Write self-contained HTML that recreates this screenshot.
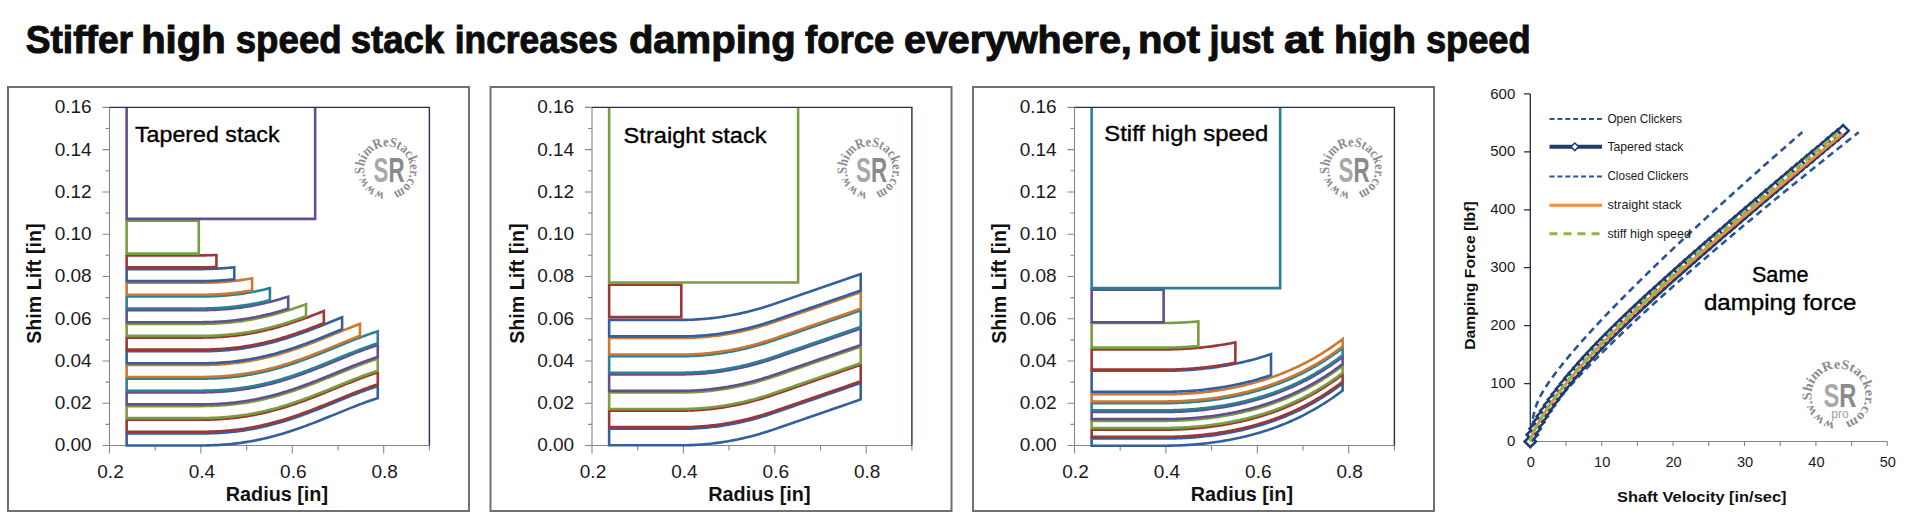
<!DOCTYPE html><html><head><meta charset="utf-8"><style>html,body{margin:0;padding:0;background:#fff;width:1920px;height:516px;overflow:hidden}svg{display:block}</style></head><body><svg width="1920" height="516" viewBox="0 0 1920 516">
<rect width="1920" height="516" fill="#fff"/>
<g font-family='"Liberation Sans", sans-serif' font-size="38" font-weight="bold" fill="#0d0d0d" stroke="#0d0d0d" stroke-width="1"><text x="25.7" y="52.8" textLength="107.4" lengthAdjust="spacingAndGlyphs">Stiffer</text><text x="141.2" y="52.8" textLength="84.4" lengthAdjust="spacingAndGlyphs">high</text><text x="235.7" y="52.8" textLength="106.0" lengthAdjust="spacingAndGlyphs">speed</text><text x="350.7" y="52.8" textLength="93.5" lengthAdjust="spacingAndGlyphs">stack</text><text x="454.8" y="52.8" textLength="163.1" lengthAdjust="spacingAndGlyphs">increases</text><text x="628.9" y="52.8" textLength="166.8" lengthAdjust="spacingAndGlyphs">damping</text><text x="805.0" y="52.8" textLength="89.2" lengthAdjust="spacingAndGlyphs">force</text><text x="904.0" y="52.8" textLength="227.8" lengthAdjust="spacingAndGlyphs">everywhere,</text><text x="1137.9" y="52.8" textLength="62.2" lengthAdjust="spacingAndGlyphs">not</text><text x="1209.4" y="52.8" textLength="64.2" lengthAdjust="spacingAndGlyphs">just</text><text x="1284.1" y="52.8" textLength="39.4" lengthAdjust="spacingAndGlyphs">at</text><text x="1334.0" y="52.8" textLength="82.1" lengthAdjust="spacingAndGlyphs">high</text><text x="1425.9" y="52.8" textLength="104.8" lengthAdjust="spacingAndGlyphs">speed</text></g>
<rect x="8" y="87" width="461" height="424" fill="none" stroke="#707070" stroke-width="2"/>
<g transform="translate(0,0)">
<path d="M109.5 107.4 V445.5 H429.4" fill="none" stroke="#868686" stroke-width="1.1"/>
<path d="M102.5 445.5H109.5M105.5 424.37H109.5M102.5 403.24H109.5M105.5 382.11H109.5M102.5 360.98H109.5M105.5 339.85H109.5M102.5 318.71H109.5M105.5 297.58H109.5M102.5 276.45H109.5M105.5 255.32H109.5M102.5 234.19H109.5M105.5 213.06H109.5M102.5 191.93H109.5M105.5 170.8H109.5M102.5 149.67H109.5M105.5 128.54H109.5M102.5 107.4H109.5M109.5 445.5V453.5M155.2 445.5V450.5M200.9 445.5V453.5M246.6 445.5V450.5M292.3 445.5V453.5M338 445.5V450.5M383.7 445.5V453.5M429.4 445.5V450.5" fill="none" stroke="#868686" stroke-width="1.1"/>
<clipPath id="cp7"><rect x="109.5" y="107.4" width="319.9" height="341.1"/></clipPath>
<g clip-path="url(#cp7)" fill="none" stroke-width="2.6" stroke-linejoin="miter">
<path d="M126.64 445.5 L128.47 445.5 L130.3 445.5 L132.14 445.5 L133.97 445.5 L135.8 445.5 L137.64 445.5 L139.47 445.5 L141.3 445.5 L143.13 445.5 L144.97 445.5 L146.8 445.5 L148.63 445.5 L150.47 445.5 L152.3 445.5 L154.13 445.5 L155.97 445.5 L157.8 445.5 L159.63 445.5 L161.46 445.5 L163.3 445.5 L165.13 445.5 L166.96 445.5 L168.8 445.5 L170.63 445.5 L172.46 445.5 L174.3 445.5 L176.13 445.5 L177.96 445.5 L179.79 445.5 L181.63 445.5 L183.46 445.5 L185.29 445.5 L187.13 445.5 L188.96 445.5 L190.79 445.5 L192.63 445.5 L194.46 445.5 L196.29 445.5 L198.12 445.5 L199.96 445.5 L201.79 445.49 L203.62 445.47 L205.46 445.44 L207.29 445.41 L209.12 445.36 L210.96 445.31 L212.79 445.25 L214.62 445.17 L216.45 445.09 L218.29 444.99 L220.12 444.88 L221.95 444.76 L223.79 444.64 L225.62 444.49 L227.45 444.34 L229.29 444.18 L231.12 444 L232.95 443.81 L234.78 443.6 L236.62 443.39 L238.45 443.16 L240.28 442.92 L242.12 442.66 L243.95 442.4 L245.78 442.12 L247.62 441.82 L249.45 441.51 L251.28 441.19 L253.11 440.86 L254.95 440.51 L256.78 440.15 L258.61 439.77 L260.45 439.38 L262.28 438.98 L264.11 438.57 L265.95 438.14 L267.78 437.7 L269.61 437.24 L271.44 436.78 L273.28 436.3 L275.11 435.8 L276.94 435.3 L278.78 434.78 L280.61 434.25 L282.44 433.71 L284.28 433.16 L286.11 432.59 L287.94 432.01 L289.77 431.43 L291.61 430.83 L293.44 430.22 L295.27 429.6 L297.11 428.97 L298.94 428.33 L300.77 427.68 L302.61 427.02 L304.44 426.36 L306.27 425.68 L308.1 425 L309.94 424.31 L311.77 423.61 L313.6 422.9 L315.44 422.19 L317.27 421.48 L319.1 420.75 L320.94 420.03 L322.77 419.29 L324.6 418.56 L326.43 417.82 L328.27 417.07 L330.1 416.33 L331.93 415.58 L333.77 414.83 L335.6 414.08 L337.43 413.33 L339.27 412.58 L341.1 411.84 L342.93 411.09 L344.76 410.34 L346.6 409.6 L348.43 408.86 L350.26 408.13 L352.1 407.4 L353.93 406.67 L355.76 405.96 L357.6 405.25 L359.43 404.54 L361.26 403.85 L363.09 403.16 L364.93 402.49 L366.76 401.82 L368.59 401.17 L370.43 400.53 L372.26 399.9 L374.09 399.29 L375.93 398.69 L377.76 398.11 L377.76 386.11 L375.93 386.69 L374.09 387.29 L372.26 387.9 L370.43 388.53 L368.59 389.17 L366.76 389.82 L364.93 390.49 L363.09 391.16 L361.26 391.85 L359.43 392.54 L357.6 393.25 L355.76 393.96 L353.93 394.67 L352.1 395.4 L350.26 396.13 L348.43 396.86 L346.6 397.6 L344.76 398.34 L342.93 399.09 L341.1 399.84 L339.27 400.58 L337.43 401.33 L335.6 402.08 L333.77 402.83 L331.93 403.58 L330.1 404.33 L328.27 405.07 L326.43 405.82 L324.6 406.56 L322.77 407.29 L320.94 408.03 L319.1 408.75 L317.27 409.48 L315.44 410.19 L313.6 410.9 L311.77 411.61 L309.94 412.31 L308.1 413 L306.27 413.68 L304.44 414.36 L302.61 415.02 L300.77 415.68 L298.94 416.33 L297.11 416.97 L295.27 417.6 L293.44 418.22 L291.61 418.83 L289.77 419.43 L287.94 420.01 L286.11 420.59 L284.28 421.16 L282.44 421.71 L280.61 422.25 L278.78 422.78 L276.94 423.3 L275.11 423.8 L273.28 424.3 L271.44 424.78 L269.61 425.24 L267.78 425.7 L265.95 426.14 L264.11 426.57 L262.28 426.98 L260.45 427.38 L258.61 427.77 L256.78 428.15 L254.95 428.51 L253.11 428.86 L251.28 429.19 L249.45 429.51 L247.62 429.82 L245.78 430.12 L243.95 430.4 L242.12 430.66 L240.28 430.92 L238.45 431.16 L236.62 431.39 L234.78 431.6 L232.95 431.81 L231.12 432 L229.29 432.18 L227.45 432.34 L225.62 432.49 L223.79 432.64 L221.95 432.76 L220.12 432.88 L218.29 432.99 L216.45 433.09 L214.62 433.17 L212.79 433.25 L210.96 433.31 L209.12 433.36 L207.29 433.41 L205.46 433.44 L203.62 433.47 L201.79 433.49 L199.96 433.5 L198.12 433.5 L196.29 433.5 L194.46 433.5 L192.63 433.5 L190.79 433.5 L188.96 433.5 L187.13 433.5 L185.29 433.5 L183.46 433.5 L181.63 433.5 L179.79 433.5 L177.96 433.5 L176.13 433.5 L174.3 433.5 L172.46 433.5 L170.63 433.5 L168.8 433.5 L166.96 433.5 L165.13 433.5 L163.3 433.5 L161.46 433.5 L159.63 433.5 L157.8 433.5 L155.97 433.5 L154.13 433.5 L152.3 433.5 L150.47 433.5 L148.63 433.5 L146.8 433.5 L144.97 433.5 L143.13 433.5 L141.3 433.5 L139.47 433.5 L137.64 433.5 L135.8 433.5 L133.97 433.5 L132.14 433.5 L130.3 433.5 L128.47 433.5 L126.64 433.5Z" stroke="#33609D"/>
<path d="M126.64 431.8 L128.47 431.8 L130.3 431.8 L132.14 431.8 L133.97 431.8 L135.8 431.8 L137.64 431.8 L139.47 431.8 L141.3 431.8 L143.13 431.8 L144.97 431.8 L146.8 431.8 L148.63 431.8 L150.47 431.8 L152.3 431.8 L154.13 431.8 L155.97 431.8 L157.8 431.8 L159.63 431.8 L161.46 431.8 L163.3 431.8 L165.13 431.8 L166.96 431.8 L168.8 431.8 L170.63 431.8 L172.46 431.8 L174.3 431.8 L176.13 431.8 L177.96 431.8 L179.79 431.8 L181.63 431.8 L183.46 431.8 L185.29 431.8 L187.13 431.8 L188.96 431.8 L190.79 431.8 L192.63 431.8 L194.46 431.8 L196.29 431.8 L198.12 431.8 L199.96 431.8 L201.79 431.79 L203.62 431.77 L205.46 431.74 L207.29 431.71 L209.12 431.66 L210.96 431.61 L212.79 431.55 L214.62 431.47 L216.45 431.39 L218.29 431.29 L220.12 431.18 L221.95 431.06 L223.79 430.94 L225.62 430.79 L227.45 430.64 L229.29 430.48 L231.12 430.3 L232.95 430.11 L234.78 429.9 L236.62 429.69 L238.45 429.46 L240.28 429.22 L242.12 428.96 L243.95 428.7 L245.78 428.42 L247.62 428.12 L249.45 427.81 L251.28 427.49 L253.11 427.16 L254.95 426.81 L256.78 426.45 L258.61 426.07 L260.45 425.68 L262.28 425.28 L264.11 424.87 L265.95 424.44 L267.78 424 L269.61 423.54 L271.44 423.08 L273.28 422.6 L275.11 422.1 L276.94 421.6 L278.78 421.08 L280.61 420.55 L282.44 420.01 L284.28 419.46 L286.11 418.89 L287.94 418.31 L289.77 417.73 L291.61 417.13 L293.44 416.52 L295.27 415.9 L297.11 415.27 L298.94 414.63 L300.77 413.98 L302.61 413.32 L304.44 412.66 L306.27 411.98 L308.1 411.3 L309.94 410.61 L311.77 409.91 L313.6 409.2 L315.44 408.49 L317.27 407.78 L319.1 407.05 L320.94 406.33 L322.77 405.59 L324.6 404.86 L326.43 404.12 L328.27 403.37 L330.1 402.63 L331.93 401.88 L333.77 401.13 L335.6 400.38 L337.43 399.63 L339.27 398.88 L341.1 398.14 L342.93 397.39 L344.76 396.64 L346.6 395.9 L348.43 395.16 L350.26 394.43 L352.1 393.7 L353.93 392.97 L355.76 392.26 L357.6 391.55 L359.43 390.84 L361.26 390.15 L363.09 389.46 L364.93 388.79 L366.76 388.12 L368.59 387.47 L370.43 386.83 L372.26 386.2 L374.09 385.59 L375.93 384.99 L377.76 384.41 L377.76 372.41 L375.93 372.99 L374.09 373.59 L372.26 374.2 L370.43 374.83 L368.59 375.47 L366.76 376.12 L364.93 376.79 L363.09 377.46 L361.26 378.15 L359.43 378.84 L357.6 379.55 L355.76 380.26 L353.93 380.97 L352.1 381.7 L350.26 382.43 L348.43 383.16 L346.6 383.9 L344.76 384.64 L342.93 385.39 L341.1 386.14 L339.27 386.88 L337.43 387.63 L335.6 388.38 L333.77 389.13 L331.93 389.88 L330.1 390.63 L328.27 391.37 L326.43 392.12 L324.6 392.86 L322.77 393.59 L320.94 394.33 L319.1 395.05 L317.27 395.78 L315.44 396.49 L313.6 397.2 L311.77 397.91 L309.94 398.61 L308.1 399.3 L306.27 399.98 L304.44 400.66 L302.61 401.32 L300.77 401.98 L298.94 402.63 L297.11 403.27 L295.27 403.9 L293.44 404.52 L291.61 405.13 L289.77 405.73 L287.94 406.31 L286.11 406.89 L284.28 407.46 L282.44 408.01 L280.61 408.55 L278.78 409.08 L276.94 409.6 L275.11 410.1 L273.28 410.6 L271.44 411.08 L269.61 411.54 L267.78 412 L265.95 412.44 L264.11 412.87 L262.28 413.28 L260.45 413.68 L258.61 414.07 L256.78 414.45 L254.95 414.81 L253.11 415.16 L251.28 415.49 L249.45 415.81 L247.62 416.12 L245.78 416.42 L243.95 416.7 L242.12 416.96 L240.28 417.22 L238.45 417.46 L236.62 417.69 L234.78 417.9 L232.95 418.11 L231.12 418.3 L229.29 418.48 L227.45 418.64 L225.62 418.79 L223.79 418.94 L221.95 419.06 L220.12 419.18 L218.29 419.29 L216.45 419.39 L214.62 419.47 L212.79 419.55 L210.96 419.61 L209.12 419.66 L207.29 419.71 L205.46 419.74 L203.62 419.77 L201.79 419.79 L199.96 419.8 L198.12 419.8 L196.29 419.8 L194.46 419.8 L192.63 419.8 L190.79 419.8 L188.96 419.8 L187.13 419.8 L185.29 419.8 L183.46 419.8 L181.63 419.8 L179.79 419.8 L177.96 419.8 L176.13 419.8 L174.3 419.8 L172.46 419.8 L170.63 419.8 L168.8 419.8 L166.96 419.8 L165.13 419.8 L163.3 419.8 L161.46 419.8 L159.63 419.8 L157.8 419.8 L155.97 419.8 L154.13 419.8 L152.3 419.8 L150.47 419.8 L148.63 419.8 L146.8 419.8 L144.97 419.8 L143.13 419.8 L141.3 419.8 L139.47 419.8 L137.64 419.8 L135.8 419.8 L133.97 419.8 L132.14 419.8 L130.3 419.8 L128.47 419.8 L126.64 419.8Z" stroke="#9D3735"/>
<path d="M126.64 418.1 L128.47 418.1 L130.3 418.1 L132.14 418.1 L133.97 418.1 L135.8 418.1 L137.64 418.1 L139.47 418.1 L141.3 418.1 L143.13 418.1 L144.97 418.1 L146.8 418.1 L148.63 418.1 L150.47 418.1 L152.3 418.1 L154.13 418.1 L155.97 418.1 L157.8 418.1 L159.63 418.1 L161.46 418.1 L163.3 418.1 L165.13 418.1 L166.96 418.1 L168.8 418.1 L170.63 418.1 L172.46 418.1 L174.3 418.1 L176.13 418.1 L177.96 418.1 L179.79 418.1 L181.63 418.1 L183.46 418.1 L185.29 418.1 L187.13 418.1 L188.96 418.1 L190.79 418.1 L192.63 418.1 L194.46 418.1 L196.29 418.1 L198.12 418.1 L199.96 418.1 L201.79 418.09 L203.62 418.07 L205.46 418.04 L207.29 418.01 L209.12 417.96 L210.96 417.91 L212.79 417.85 L214.62 417.77 L216.45 417.69 L218.29 417.59 L220.12 417.48 L221.95 417.36 L223.79 417.24 L225.62 417.09 L227.45 416.94 L229.29 416.78 L231.12 416.6 L232.95 416.41 L234.78 416.2 L236.62 415.99 L238.45 415.76 L240.28 415.52 L242.12 415.26 L243.95 415 L245.78 414.72 L247.62 414.42 L249.45 414.11 L251.28 413.79 L253.11 413.46 L254.95 413.11 L256.78 412.75 L258.61 412.37 L260.45 411.98 L262.28 411.58 L264.11 411.17 L265.95 410.74 L267.78 410.3 L269.61 409.84 L271.44 409.38 L273.28 408.9 L275.11 408.4 L276.94 407.9 L278.78 407.38 L280.61 406.85 L282.44 406.31 L284.28 405.76 L286.11 405.19 L287.94 404.61 L289.77 404.03 L291.61 403.43 L293.44 402.82 L295.27 402.2 L297.11 401.57 L298.94 400.93 L300.77 400.28 L302.61 399.62 L304.44 398.96 L306.27 398.28 L308.1 397.6 L309.94 396.91 L311.77 396.21 L313.6 395.5 L315.44 394.79 L317.27 394.08 L319.1 393.35 L320.94 392.63 L322.77 391.89 L324.6 391.16 L326.43 390.42 L328.27 389.67 L330.1 388.93 L331.93 388.18 L333.77 387.43 L335.6 386.68 L337.43 385.93 L339.27 385.18 L341.1 384.44 L342.93 383.69 L344.76 382.94 L346.6 382.2 L348.43 381.46 L350.26 380.73 L352.1 380 L353.93 379.27 L355.76 378.56 L357.6 377.85 L359.43 377.14 L361.26 376.45 L363.09 375.76 L364.93 375.09 L366.76 374.42 L368.59 373.77 L370.43 373.13 L372.26 372.5 L374.09 371.89 L375.93 371.29 L377.76 370.71 L377.76 358.71 L375.93 359.29 L374.09 359.89 L372.26 360.5 L370.43 361.13 L368.59 361.77 L366.76 362.42 L364.93 363.09 L363.09 363.76 L361.26 364.45 L359.43 365.14 L357.6 365.85 L355.76 366.56 L353.93 367.27 L352.1 368 L350.26 368.73 L348.43 369.46 L346.6 370.2 L344.76 370.94 L342.93 371.69 L341.1 372.44 L339.27 373.18 L337.43 373.93 L335.6 374.68 L333.77 375.43 L331.93 376.18 L330.1 376.93 L328.27 377.67 L326.43 378.42 L324.6 379.16 L322.77 379.89 L320.94 380.63 L319.1 381.35 L317.27 382.08 L315.44 382.79 L313.6 383.5 L311.77 384.21 L309.94 384.91 L308.1 385.6 L306.27 386.28 L304.44 386.96 L302.61 387.62 L300.77 388.28 L298.94 388.93 L297.11 389.57 L295.27 390.2 L293.44 390.82 L291.61 391.43 L289.77 392.03 L287.94 392.61 L286.11 393.19 L284.28 393.76 L282.44 394.31 L280.61 394.85 L278.78 395.38 L276.94 395.9 L275.11 396.4 L273.28 396.9 L271.44 397.38 L269.61 397.84 L267.78 398.3 L265.95 398.74 L264.11 399.17 L262.28 399.58 L260.45 399.98 L258.61 400.37 L256.78 400.75 L254.95 401.11 L253.11 401.46 L251.28 401.79 L249.45 402.11 L247.62 402.42 L245.78 402.72 L243.95 403 L242.12 403.26 L240.28 403.52 L238.45 403.76 L236.62 403.99 L234.78 404.2 L232.95 404.41 L231.12 404.6 L229.29 404.78 L227.45 404.94 L225.62 405.09 L223.79 405.24 L221.95 405.36 L220.12 405.48 L218.29 405.59 L216.45 405.69 L214.62 405.77 L212.79 405.85 L210.96 405.91 L209.12 405.96 L207.29 406.01 L205.46 406.04 L203.62 406.07 L201.79 406.09 L199.96 406.1 L198.12 406.1 L196.29 406.1 L194.46 406.1 L192.63 406.1 L190.79 406.1 L188.96 406.1 L187.13 406.1 L185.29 406.1 L183.46 406.1 L181.63 406.1 L179.79 406.1 L177.96 406.1 L176.13 406.1 L174.3 406.1 L172.46 406.1 L170.63 406.1 L168.8 406.1 L166.96 406.1 L165.13 406.1 L163.3 406.1 L161.46 406.1 L159.63 406.1 L157.8 406.1 L155.97 406.1 L154.13 406.1 L152.3 406.1 L150.47 406.1 L148.63 406.1 L146.8 406.1 L144.97 406.1 L143.13 406.1 L141.3 406.1 L139.47 406.1 L137.64 406.1 L135.8 406.1 L133.97 406.1 L132.14 406.1 L130.3 406.1 L128.47 406.1 L126.64 406.1Z" stroke="#7A9E3E"/>
<path d="M126.64 404.4 L128.47 404.4 L130.3 404.4 L132.14 404.4 L133.97 404.4 L135.8 404.4 L137.64 404.4 L139.47 404.4 L141.3 404.4 L143.13 404.4 L144.97 404.4 L146.8 404.4 L148.63 404.4 L150.47 404.4 L152.3 404.4 L154.13 404.4 L155.97 404.4 L157.8 404.4 L159.63 404.4 L161.46 404.4 L163.3 404.4 L165.13 404.4 L166.96 404.4 L168.8 404.4 L170.63 404.4 L172.46 404.4 L174.3 404.4 L176.13 404.4 L177.96 404.4 L179.79 404.4 L181.63 404.4 L183.46 404.4 L185.29 404.4 L187.13 404.4 L188.96 404.4 L190.79 404.4 L192.63 404.4 L194.46 404.4 L196.29 404.4 L198.12 404.4 L199.96 404.4 L201.79 404.39 L203.62 404.37 L205.46 404.34 L207.29 404.31 L209.12 404.26 L210.96 404.21 L212.79 404.15 L214.62 404.07 L216.45 403.99 L218.29 403.89 L220.12 403.78 L221.95 403.66 L223.79 403.54 L225.62 403.39 L227.45 403.24 L229.29 403.08 L231.12 402.9 L232.95 402.71 L234.78 402.5 L236.62 402.29 L238.45 402.06 L240.28 401.82 L242.12 401.56 L243.95 401.3 L245.78 401.02 L247.62 400.72 L249.45 400.41 L251.28 400.09 L253.11 399.76 L254.95 399.41 L256.78 399.05 L258.61 398.67 L260.45 398.28 L262.28 397.88 L264.11 397.47 L265.95 397.04 L267.78 396.6 L269.61 396.14 L271.44 395.68 L273.28 395.2 L275.11 394.7 L276.94 394.2 L278.78 393.68 L280.61 393.15 L282.44 392.61 L284.28 392.06 L286.11 391.49 L287.94 390.91 L289.77 390.33 L291.61 389.73 L293.44 389.12 L295.27 388.5 L297.11 387.87 L298.94 387.23 L300.77 386.58 L302.61 385.92 L304.44 385.26 L306.27 384.58 L308.1 383.9 L309.94 383.21 L311.77 382.51 L313.6 381.8 L315.44 381.09 L317.27 380.38 L319.1 379.65 L320.94 378.93 L322.77 378.19 L324.6 377.46 L326.43 376.72 L328.27 375.97 L330.1 375.23 L331.93 374.48 L333.77 373.73 L335.6 372.98 L337.43 372.23 L339.27 371.48 L341.1 370.74 L342.93 369.99 L344.76 369.24 L346.6 368.5 L348.43 367.76 L350.26 367.03 L352.1 366.3 L353.93 365.57 L355.76 364.86 L357.6 364.15 L359.43 363.44 L361.26 362.75 L363.09 362.06 L364.93 361.39 L366.76 360.72 L368.59 360.07 L370.43 359.43 L372.26 358.8 L374.09 358.19 L375.93 357.59 L377.76 357.01 L377.76 345.01 L375.93 345.59 L374.09 346.19 L372.26 346.8 L370.43 347.43 L368.59 348.07 L366.76 348.72 L364.93 349.39 L363.09 350.06 L361.26 350.75 L359.43 351.44 L357.6 352.15 L355.76 352.86 L353.93 353.57 L352.1 354.3 L350.26 355.03 L348.43 355.76 L346.6 356.5 L344.76 357.24 L342.93 357.99 L341.1 358.74 L339.27 359.48 L337.43 360.23 L335.6 360.98 L333.77 361.73 L331.93 362.48 L330.1 363.23 L328.27 363.97 L326.43 364.72 L324.6 365.46 L322.77 366.19 L320.94 366.93 L319.1 367.65 L317.27 368.38 L315.44 369.09 L313.6 369.8 L311.77 370.51 L309.94 371.21 L308.1 371.9 L306.27 372.58 L304.44 373.26 L302.61 373.92 L300.77 374.58 L298.94 375.23 L297.11 375.87 L295.27 376.5 L293.44 377.12 L291.61 377.73 L289.77 378.33 L287.94 378.91 L286.11 379.49 L284.28 380.06 L282.44 380.61 L280.61 381.15 L278.78 381.68 L276.94 382.2 L275.11 382.7 L273.28 383.2 L271.44 383.68 L269.61 384.14 L267.78 384.6 L265.95 385.04 L264.11 385.47 L262.28 385.88 L260.45 386.28 L258.61 386.67 L256.78 387.05 L254.95 387.41 L253.11 387.76 L251.28 388.09 L249.45 388.41 L247.62 388.72 L245.78 389.02 L243.95 389.3 L242.12 389.56 L240.28 389.82 L238.45 390.06 L236.62 390.29 L234.78 390.5 L232.95 390.71 L231.12 390.9 L229.29 391.08 L227.45 391.24 L225.62 391.39 L223.79 391.54 L221.95 391.66 L220.12 391.78 L218.29 391.89 L216.45 391.99 L214.62 392.07 L212.79 392.15 L210.96 392.21 L209.12 392.26 L207.29 392.31 L205.46 392.34 L203.62 392.37 L201.79 392.39 L199.96 392.4 L198.12 392.4 L196.29 392.4 L194.46 392.4 L192.63 392.4 L190.79 392.4 L188.96 392.4 L187.13 392.4 L185.29 392.4 L183.46 392.4 L181.63 392.4 L179.79 392.4 L177.96 392.4 L176.13 392.4 L174.3 392.4 L172.46 392.4 L170.63 392.4 L168.8 392.4 L166.96 392.4 L165.13 392.4 L163.3 392.4 L161.46 392.4 L159.63 392.4 L157.8 392.4 L155.97 392.4 L154.13 392.4 L152.3 392.4 L150.47 392.4 L148.63 392.4 L146.8 392.4 L144.97 392.4 L143.13 392.4 L141.3 392.4 L139.47 392.4 L137.64 392.4 L135.8 392.4 L133.97 392.4 L132.14 392.4 L130.3 392.4 L128.47 392.4 L126.64 392.4Z" stroke="#634E8E"/>
<path d="M126.64 390.7 L128.47 390.7 L130.3 390.7 L132.14 390.7 L133.97 390.7 L135.8 390.7 L137.64 390.7 L139.47 390.7 L141.3 390.7 L143.13 390.7 L144.97 390.7 L146.8 390.7 L148.63 390.7 L150.47 390.7 L152.3 390.7 L154.13 390.7 L155.97 390.7 L157.8 390.7 L159.63 390.7 L161.46 390.7 L163.3 390.7 L165.13 390.7 L166.96 390.7 L168.8 390.7 L170.63 390.7 L172.46 390.7 L174.3 390.7 L176.13 390.7 L177.96 390.7 L179.79 390.7 L181.63 390.7 L183.46 390.7 L185.29 390.7 L187.13 390.7 L188.96 390.7 L190.79 390.7 L192.63 390.7 L194.46 390.7 L196.29 390.7 L198.12 390.7 L199.96 390.7 L201.79 390.69 L203.62 390.67 L205.46 390.64 L207.29 390.61 L209.12 390.56 L210.96 390.51 L212.79 390.45 L214.62 390.37 L216.45 390.29 L218.29 390.19 L220.12 390.08 L221.95 389.96 L223.79 389.84 L225.62 389.69 L227.45 389.54 L229.29 389.38 L231.12 389.2 L232.95 389.01 L234.78 388.8 L236.62 388.59 L238.45 388.36 L240.28 388.12 L242.12 387.86 L243.95 387.6 L245.78 387.32 L247.62 387.02 L249.45 386.71 L251.28 386.39 L253.11 386.06 L254.95 385.71 L256.78 385.35 L258.61 384.97 L260.45 384.58 L262.28 384.18 L264.11 383.77 L265.95 383.34 L267.78 382.9 L269.61 382.44 L271.44 381.98 L273.28 381.5 L275.11 381 L276.94 380.5 L278.78 379.98 L280.61 379.45 L282.44 378.91 L284.28 378.36 L286.11 377.79 L287.94 377.21 L289.77 376.63 L291.61 376.03 L293.44 375.42 L295.27 374.8 L297.11 374.17 L298.94 373.53 L300.77 372.88 L302.61 372.22 L304.44 371.56 L306.27 370.88 L308.1 370.2 L309.94 369.51 L311.77 368.81 L313.6 368.1 L315.44 367.39 L317.27 366.68 L319.1 365.95 L320.94 365.23 L322.77 364.49 L324.6 363.76 L326.43 363.02 L328.27 362.27 L330.1 361.53 L331.93 360.78 L333.77 360.03 L335.6 359.28 L337.43 358.53 L339.27 357.78 L341.1 357.04 L342.93 356.29 L344.76 355.54 L346.6 354.8 L348.43 354.06 L350.26 353.33 L352.1 352.6 L353.93 351.87 L355.76 351.16 L357.6 350.45 L359.43 349.74 L361.26 349.05 L363.09 348.36 L364.93 347.69 L366.76 347.02 L368.59 346.37 L370.43 345.73 L372.26 345.1 L374.09 344.49 L375.93 343.89 L377.76 343.31 L377.76 331.31 L375.93 331.89 L374.09 332.49 L372.26 333.1 L370.43 333.73 L368.59 334.37 L366.76 335.02 L364.93 335.69 L363.09 336.36 L361.26 337.05 L359.43 337.74 L357.6 338.45 L355.76 339.16 L353.93 339.87 L352.1 340.6 L350.26 341.33 L348.43 342.06 L346.6 342.8 L344.76 343.54 L342.93 344.29 L341.1 345.04 L339.27 345.78 L337.43 346.53 L335.6 347.28 L333.77 348.03 L331.93 348.78 L330.1 349.53 L328.27 350.27 L326.43 351.02 L324.6 351.76 L322.77 352.49 L320.94 353.23 L319.1 353.95 L317.27 354.68 L315.44 355.39 L313.6 356.1 L311.77 356.81 L309.94 357.51 L308.1 358.2 L306.27 358.88 L304.44 359.56 L302.61 360.22 L300.77 360.88 L298.94 361.53 L297.11 362.17 L295.27 362.8 L293.44 363.42 L291.61 364.03 L289.77 364.63 L287.94 365.21 L286.11 365.79 L284.28 366.36 L282.44 366.91 L280.61 367.45 L278.78 367.98 L276.94 368.5 L275.11 369 L273.28 369.5 L271.44 369.98 L269.61 370.44 L267.78 370.9 L265.95 371.34 L264.11 371.77 L262.28 372.18 L260.45 372.58 L258.61 372.97 L256.78 373.35 L254.95 373.71 L253.11 374.06 L251.28 374.39 L249.45 374.71 L247.62 375.02 L245.78 375.32 L243.95 375.6 L242.12 375.86 L240.28 376.12 L238.45 376.36 L236.62 376.59 L234.78 376.8 L232.95 377.01 L231.12 377.2 L229.29 377.38 L227.45 377.54 L225.62 377.69 L223.79 377.84 L221.95 377.96 L220.12 378.08 L218.29 378.19 L216.45 378.29 L214.62 378.37 L212.79 378.45 L210.96 378.51 L209.12 378.56 L207.29 378.61 L205.46 378.64 L203.62 378.67 L201.79 378.69 L199.96 378.7 L198.12 378.7 L196.29 378.7 L194.46 378.7 L192.63 378.7 L190.79 378.7 L188.96 378.7 L187.13 378.7 L185.29 378.7 L183.46 378.7 L181.63 378.7 L179.79 378.7 L177.96 378.7 L176.13 378.7 L174.3 378.7 L172.46 378.7 L170.63 378.7 L168.8 378.7 L166.96 378.7 L165.13 378.7 L163.3 378.7 L161.46 378.7 L159.63 378.7 L157.8 378.7 L155.97 378.7 L154.13 378.7 L152.3 378.7 L150.47 378.7 L148.63 378.7 L146.8 378.7 L144.97 378.7 L143.13 378.7 L141.3 378.7 L139.47 378.7 L137.64 378.7 L135.8 378.7 L133.97 378.7 L132.14 378.7 L130.3 378.7 L128.47 378.7 L126.64 378.7Z" stroke="#2C8093"/>
<path d="M126.64 377 L128.47 377 L130.31 377 L132.15 377 L133.99 377 L135.82 377 L137.66 377 L139.5 377 L141.33 377 L143.17 377 L145.01 377 L146.84 377 L148.68 377 L150.52 377 L152.36 377 L154.19 377 L156.03 377 L157.87 377 L159.7 377 L161.54 377 L163.38 377 L165.21 377 L167.05 377 L168.89 377 L170.73 377 L172.56 377 L174.4 377 L176.24 377 L178.07 377 L179.91 377 L181.75 377 L183.58 377 L185.42 377 L187.26 377 L189.1 377 L190.93 377 L192.77 377 L194.61 377 L196.44 377 L198.28 377 L200.12 377 L201.95 376.99 L203.79 376.97 L205.63 376.94 L207.47 376.9 L209.3 376.86 L211.14 376.8 L212.98 376.74 L214.81 376.66 L216.65 376.58 L218.49 376.48 L220.32 376.37 L222.16 376.25 L224 376.12 L225.84 375.98 L227.67 375.82 L229.51 375.65 L231.35 375.47 L233.18 375.28 L235.02 375.08 L236.86 374.86 L238.69 374.63 L240.53 374.39 L242.37 374.13 L244.21 373.86 L246.04 373.57 L247.88 373.28 L249.72 372.97 L251.55 372.64 L253.39 372.31 L255.23 371.96 L257.06 371.59 L258.9 371.21 L260.74 370.82 L262.58 370.42 L264.41 370 L266.25 369.57 L268.09 369.12 L269.92 368.67 L271.76 368.2 L273.6 367.71 L275.43 367.22 L277.27 366.71 L279.11 366.19 L280.95 365.65 L282.78 365.11 L284.62 364.55 L286.46 363.98 L288.29 363.4 L290.13 362.81 L291.97 362.21 L293.8 361.6 L295.64 360.97 L297.48 360.34 L299.32 359.7 L301.15 359.04 L302.99 358.38 L304.83 357.71 L306.66 357.03 L308.5 356.35 L310.34 355.66 L312.17 354.95 L314.01 354.25 L315.85 353.53 L317.69 352.81 L319.52 352.09 L321.36 351.36 L323.2 350.62 L325.03 349.88 L326.87 349.14 L328.71 348.4 L330.54 347.65 L332.38 346.9 L334.22 346.15 L336.06 345.4 L337.89 344.65 L339.73 343.9 L341.57 343.15 L343.4 342.4 L345.24 341.65 L347.08 340.91 L348.91 340.17 L350.75 339.43 L352.59 338.7 L354.43 337.98 L356.26 337.26 L358.1 336.55 L359.94 335.85 L359.94 323.85 L358.1 324.55 L356.26 325.26 L354.43 325.98 L352.59 326.7 L350.75 327.43 L348.91 328.17 L347.08 328.91 L345.24 329.65 L343.4 330.4 L341.57 331.15 L339.73 331.9 L337.89 332.65 L336.06 333.4 L334.22 334.15 L332.38 334.9 L330.54 335.65 L328.71 336.4 L326.87 337.14 L325.03 337.88 L323.2 338.62 L321.36 339.36 L319.52 340.09 L317.69 340.81 L315.85 341.53 L314.01 342.25 L312.17 342.95 L310.34 343.66 L308.5 344.35 L306.66 345.03 L304.83 345.71 L302.99 346.38 L301.15 347.04 L299.32 347.7 L297.48 348.34 L295.64 348.97 L293.8 349.6 L291.97 350.21 L290.13 350.81 L288.29 351.4 L286.46 351.98 L284.62 352.55 L282.78 353.11 L280.95 353.65 L279.11 354.19 L277.27 354.71 L275.43 355.22 L273.6 355.71 L271.76 356.2 L269.92 356.67 L268.09 357.12 L266.25 357.57 L264.41 358 L262.58 358.42 L260.74 358.82 L258.9 359.21 L257.06 359.59 L255.23 359.96 L253.39 360.31 L251.55 360.64 L249.72 360.97 L247.88 361.28 L246.04 361.57 L244.21 361.86 L242.37 362.13 L240.53 362.39 L238.69 362.63 L236.86 362.86 L235.02 363.08 L233.18 363.28 L231.35 363.47 L229.51 363.65 L227.67 363.82 L225.84 363.98 L224 364.12 L222.16 364.25 L220.32 364.37 L218.49 364.48 L216.65 364.58 L214.81 364.66 L212.98 364.74 L211.14 364.8 L209.3 364.86 L207.47 364.9 L205.63 364.94 L203.79 364.97 L201.95 364.99 L200.12 365 L198.28 365 L196.44 365 L194.61 365 L192.77 365 L190.93 365 L189.1 365 L187.26 365 L185.42 365 L183.58 365 L181.75 365 L179.91 365 L178.07 365 L176.24 365 L174.4 365 L172.56 365 L170.73 365 L168.89 365 L167.05 365 L165.21 365 L163.38 365 L161.54 365 L159.7 365 L157.87 365 L156.03 365 L154.19 365 L152.36 365 L150.52 365 L148.68 365 L146.84 365 L145.01 365 L143.17 365 L141.33 365 L139.5 365 L137.66 365 L135.82 365 L133.99 365 L132.15 365 L130.31 365 L128.47 365 L126.64 365Z" stroke="#CB7830"/>
<path d="M126.64 363.3 L128.48 363.3 L130.32 363.3 L132.16 363.3 L134 363.3 L135.85 363.3 L137.69 363.3 L139.53 363.3 L141.37 363.3 L143.21 363.3 L145.05 363.3 L146.9 363.3 L148.74 363.3 L150.58 363.3 L152.42 363.3 L154.26 363.3 L156.1 363.3 L157.95 363.3 L159.79 363.3 L161.63 363.3 L163.47 363.3 L165.31 363.3 L167.15 363.3 L169 363.3 L170.84 363.3 L172.68 363.3 L174.52 363.3 L176.36 363.3 L178.2 363.3 L180.05 363.3 L181.89 363.3 L183.73 363.3 L185.57 363.3 L187.41 363.3 L189.25 363.3 L191.1 363.3 L192.94 363.3 L194.78 363.3 L196.62 363.3 L198.46 363.3 L200.3 363.3 L202.15 363.29 L203.99 363.27 L205.83 363.24 L207.67 363.2 L209.51 363.15 L211.35 363.1 L213.2 363.03 L215.04 362.95 L216.88 362.86 L218.72 362.77 L220.56 362.66 L222.4 362.53 L224.25 362.4 L226.09 362.26 L227.93 362.1 L229.77 361.93 L231.61 361.75 L233.45 361.55 L235.3 361.35 L237.14 361.13 L238.98 360.89 L240.82 360.65 L242.66 360.39 L244.5 360.11 L246.35 359.83 L248.19 359.53 L250.03 359.21 L251.87 358.89 L253.71 358.55 L255.55 358.19 L257.4 357.82 L259.24 357.44 L261.08 357.05 L262.92 356.64 L264.76 356.22 L266.6 355.78 L268.45 355.33 L270.29 354.87 L272.13 354.4 L273.97 353.91 L275.81 353.41 L277.65 352.9 L279.5 352.37 L281.34 351.84 L283.18 351.29 L285.02 350.73 L286.86 350.15 L288.7 349.57 L290.55 348.97 L292.39 348.37 L294.23 347.75 L296.07 347.12 L297.91 346.49 L299.75 345.84 L301.6 345.19 L303.44 344.52 L305.28 343.85 L307.12 343.16 L308.96 342.47 L310.8 341.78 L312.65 341.07 L314.49 340.36 L316.33 339.64 L318.17 338.92 L320.01 338.19 L321.85 337.46 L323.7 336.72 L325.54 335.98 L327.38 335.24 L329.22 334.49 L331.06 333.74 L332.9 332.99 L334.75 332.23 L336.59 331.48 L338.43 330.73 L340.27 329.97 L342.11 329.22 L342.11 317.22 L340.27 317.97 L338.43 318.73 L336.59 319.48 L334.75 320.23 L332.9 320.99 L331.06 321.74 L329.22 322.49 L327.38 323.24 L325.54 323.98 L323.7 324.72 L321.85 325.46 L320.01 326.19 L318.17 326.92 L316.33 327.64 L314.49 328.36 L312.65 329.07 L310.8 329.78 L308.96 330.47 L307.12 331.16 L305.28 331.85 L303.44 332.52 L301.6 333.19 L299.75 333.84 L297.91 334.49 L296.07 335.12 L294.23 335.75 L292.39 336.37 L290.55 336.97 L288.7 337.57 L286.86 338.15 L285.02 338.73 L283.18 339.29 L281.34 339.84 L279.5 340.37 L277.65 340.9 L275.81 341.41 L273.97 341.91 L272.13 342.4 L270.29 342.87 L268.45 343.33 L266.6 343.78 L264.76 344.22 L262.92 344.64 L261.08 345.05 L259.24 345.44 L257.4 345.82 L255.55 346.19 L253.71 346.55 L251.87 346.89 L250.03 347.21 L248.19 347.53 L246.35 347.83 L244.5 348.11 L242.66 348.39 L240.82 348.65 L238.98 348.89 L237.14 349.13 L235.3 349.35 L233.45 349.55 L231.61 349.75 L229.77 349.93 L227.93 350.1 L226.09 350.26 L224.25 350.4 L222.4 350.53 L220.56 350.66 L218.72 350.77 L216.88 350.86 L215.04 350.95 L213.2 351.03 L211.35 351.1 L209.51 351.15 L207.67 351.2 L205.83 351.24 L203.99 351.27 L202.15 351.29 L200.3 351.3 L198.46 351.3 L196.62 351.3 L194.78 351.3 L192.94 351.3 L191.1 351.3 L189.25 351.3 L187.41 351.3 L185.57 351.3 L183.73 351.3 L181.89 351.3 L180.05 351.3 L178.2 351.3 L176.36 351.3 L174.52 351.3 L172.68 351.3 L170.84 351.3 L169 351.3 L167.15 351.3 L165.31 351.3 L163.47 351.3 L161.63 351.3 L159.79 351.3 L157.95 351.3 L156.1 351.3 L154.26 351.3 L152.42 351.3 L150.58 351.3 L148.74 351.3 L146.9 351.3 L145.05 351.3 L143.21 351.3 L141.37 351.3 L139.53 351.3 L137.69 351.3 L135.85 351.3 L134 351.3 L132.16 351.3 L130.32 351.3 L128.48 351.3 L126.64 351.3Z" stroke="#33609D"/>
<path d="M126.64 349.6 L128.48 349.6 L130.32 349.6 L132.17 349.6 L134.01 349.6 L135.85 349.6 L137.7 349.6 L139.54 349.6 L141.38 349.6 L143.22 349.6 L145.07 349.6 L146.91 349.6 L148.75 349.6 L150.6 349.6 L152.44 349.6 L154.28 349.6 L156.12 349.6 L157.97 349.6 L159.81 349.6 L161.65 349.6 L163.5 349.6 L165.34 349.6 L167.18 349.6 L169.03 349.6 L170.87 349.6 L172.71 349.6 L174.55 349.6 L176.4 349.6 L178.24 349.6 L180.08 349.6 L181.93 349.6 L183.77 349.6 L185.61 349.6 L187.45 349.6 L189.3 349.6 L191.14 349.6 L192.98 349.6 L194.83 349.6 L196.67 349.6 L198.51 349.6 L200.36 349.6 L202.2 349.59 L204.04 349.57 L205.88 349.54 L207.73 349.5 L209.57 349.45 L211.41 349.39 L213.26 349.33 L215.1 349.25 L216.94 349.16 L218.78 349.06 L220.63 348.95 L222.47 348.83 L224.31 348.7 L226.16 348.55 L228 348.39 L229.84 348.22 L231.69 348.04 L233.53 347.85 L235.37 347.64 L237.21 347.42 L239.06 347.18 L240.9 346.94 L242.74 346.67 L244.59 346.4 L246.43 346.11 L248.27 345.81 L250.12 345.5 L251.96 345.17 L253.8 344.83 L255.64 344.47 L257.49 344.11 L259.33 343.72 L261.17 343.33 L263.02 342.92 L264.86 342.5 L266.7 342.06 L268.54 341.61 L270.39 341.15 L272.23 340.67 L274.07 340.18 L275.92 339.68 L277.76 339.17 L279.6 338.64 L281.45 338.11 L283.29 337.56 L285.13 336.99 L286.97 336.42 L288.82 335.83 L290.66 335.24 L292.5 334.63 L294.35 334.01 L296.19 333.38 L298.03 332.75 L299.87 332.1 L301.72 331.44 L303.56 330.78 L305.4 330.1 L307.25 329.42 L309.09 328.73 L310.93 328.03 L312.78 327.32 L314.62 326.61 L316.46 325.89 L318.3 325.17 L320.15 324.44 L321.99 323.71 L323.83 322.97 L323.83 310.97 L321.99 311.71 L320.15 312.44 L318.3 313.17 L316.46 313.89 L314.62 314.61 L312.78 315.32 L310.93 316.03 L309.09 316.73 L307.25 317.42 L305.4 318.1 L303.56 318.78 L301.72 319.44 L299.87 320.1 L298.03 320.75 L296.19 321.38 L294.35 322.01 L292.5 322.63 L290.66 323.24 L288.82 323.83 L286.97 324.42 L285.13 324.99 L283.29 325.56 L281.45 326.11 L279.6 326.64 L277.76 327.17 L275.92 327.68 L274.07 328.18 L272.23 328.67 L270.39 329.15 L268.54 329.61 L266.7 330.06 L264.86 330.5 L263.02 330.92 L261.17 331.33 L259.33 331.72 L257.49 332.11 L255.64 332.47 L253.8 332.83 L251.96 333.17 L250.12 333.5 L248.27 333.81 L246.43 334.11 L244.59 334.4 L242.74 334.67 L240.9 334.94 L239.06 335.18 L237.21 335.42 L235.37 335.64 L233.53 335.85 L231.69 336.04 L229.84 336.22 L228 336.39 L226.16 336.55 L224.31 336.7 L222.47 336.83 L220.63 336.95 L218.78 337.06 L216.94 337.16 L215.1 337.25 L213.26 337.33 L211.41 337.39 L209.57 337.45 L207.73 337.5 L205.88 337.54 L204.04 337.57 L202.2 337.59 L200.36 337.6 L198.51 337.6 L196.67 337.6 L194.83 337.6 L192.98 337.6 L191.14 337.6 L189.3 337.6 L187.45 337.6 L185.61 337.6 L183.77 337.6 L181.93 337.6 L180.08 337.6 L178.24 337.6 L176.4 337.6 L174.55 337.6 L172.71 337.6 L170.87 337.6 L169.03 337.6 L167.18 337.6 L165.34 337.6 L163.5 337.6 L161.65 337.6 L159.81 337.6 L157.97 337.6 L156.12 337.6 L154.28 337.6 L152.44 337.6 L150.6 337.6 L148.75 337.6 L146.91 337.6 L145.07 337.6 L143.22 337.6 L141.38 337.6 L139.54 337.6 L137.7 337.6 L135.85 337.6 L134.01 337.6 L132.17 337.6 L130.32 337.6 L128.48 337.6 L126.64 337.6Z" stroke="#9D3735"/>
<path d="M126.64 335.9 L128.47 335.9 L130.3 335.9 L132.13 335.9 L133.96 335.9 L135.79 335.9 L137.62 335.9 L139.45 335.9 L141.28 335.9 L143.11 335.9 L144.94 335.9 L146.77 335.9 L148.6 335.9 L150.43 335.9 L152.26 335.9 L154.09 335.9 L155.92 335.9 L157.75 335.9 L159.58 335.9 L161.41 335.9 L163.24 335.9 L165.07 335.9 L166.9 335.9 L168.74 335.9 L170.57 335.9 L172.4 335.9 L174.23 335.9 L176.06 335.9 L177.89 335.9 L179.72 335.9 L181.55 335.9 L183.38 335.9 L185.21 335.9 L187.04 335.9 L188.87 335.9 L190.7 335.9 L192.53 335.9 L194.36 335.9 L196.19 335.9 L198.02 335.9 L199.85 335.9 L201.68 335.89 L203.51 335.87 L205.34 335.85 L207.17 335.81 L209 335.77 L210.83 335.71 L212.66 335.65 L214.49 335.58 L216.32 335.49 L218.15 335.4 L219.98 335.29 L221.81 335.17 L223.65 335.05 L225.48 334.91 L227.31 334.75 L229.14 334.59 L230.97 334.41 L232.8 334.22 L234.63 334.02 L236.46 333.81 L238.29 333.58 L240.12 333.34 L241.95 333.09 L243.78 332.82 L245.61 332.54 L247.44 332.25 L249.27 331.94 L251.1 331.62 L252.93 331.29 L254.76 330.95 L256.59 330.59 L258.42 330.21 L260.25 329.83 L262.08 329.43 L263.91 329.01 L265.74 328.59 L267.57 328.15 L269.4 327.7 L271.23 327.23 L273.06 326.75 L274.89 326.26 L276.72 325.76 L278.56 325.24 L280.39 324.72 L282.22 324.18 L284.05 323.63 L285.88 323.06 L287.71 322.49 L289.54 321.9 L291.37 321.31 L293.2 320.7 L295.03 320.08 L296.86 319.45 L298.69 318.82 L300.52 318.17 L302.35 317.51 L304.18 316.85 L306.01 316.18 L306.01 304.18 L304.18 304.85 L302.35 305.51 L300.52 306.17 L298.69 306.82 L296.86 307.45 L295.03 308.08 L293.2 308.7 L291.37 309.31 L289.54 309.9 L287.71 310.49 L285.88 311.06 L284.05 311.63 L282.22 312.18 L280.39 312.72 L278.56 313.24 L276.72 313.76 L274.89 314.26 L273.06 314.75 L271.23 315.23 L269.4 315.7 L267.57 316.15 L265.74 316.59 L263.91 317.01 L262.08 317.43 L260.25 317.83 L258.42 318.21 L256.59 318.59 L254.76 318.95 L252.93 319.29 L251.1 319.62 L249.27 319.94 L247.44 320.25 L245.61 320.54 L243.78 320.82 L241.95 321.09 L240.12 321.34 L238.29 321.58 L236.46 321.81 L234.63 322.02 L232.8 322.22 L230.97 322.41 L229.14 322.59 L227.31 322.75 L225.48 322.91 L223.65 323.05 L221.81 323.17 L219.98 323.29 L218.15 323.4 L216.32 323.49 L214.49 323.58 L212.66 323.65 L210.83 323.71 L209 323.77 L207.17 323.81 L205.34 323.85 L203.51 323.87 L201.68 323.89 L199.85 323.9 L198.02 323.9 L196.19 323.9 L194.36 323.9 L192.53 323.9 L190.7 323.9 L188.87 323.9 L187.04 323.9 L185.21 323.9 L183.38 323.9 L181.55 323.9 L179.72 323.9 L177.89 323.9 L176.06 323.9 L174.23 323.9 L172.4 323.9 L170.57 323.9 L168.74 323.9 L166.9 323.9 L165.07 323.9 L163.24 323.9 L161.41 323.9 L159.58 323.9 L157.75 323.9 L155.92 323.9 L154.09 323.9 L152.26 323.9 L150.43 323.9 L148.6 323.9 L146.77 323.9 L144.94 323.9 L143.11 323.9 L141.28 323.9 L139.45 323.9 L137.62 323.9 L135.79 323.9 L133.96 323.9 L132.13 323.9 L130.3 323.9 L128.47 323.9 L126.64 323.9Z" stroke="#7A9E3E"/>
<path d="M126.64 322.2 L128.47 322.2 L130.31 322.2 L132.14 322.2 L133.98 322.2 L135.82 322.2 L137.65 322.2 L139.49 322.2 L141.32 322.2 L143.16 322.2 L145 322.2 L146.83 322.2 L148.67 322.2 L150.5 322.2 L152.34 322.2 L154.17 322.2 L156.01 322.2 L157.85 322.2 L159.68 322.2 L161.52 322.2 L163.35 322.2 L165.19 322.2 L167.02 322.2 L168.86 322.2 L170.7 322.2 L172.53 322.2 L174.37 322.2 L176.2 322.2 L178.04 322.2 L179.88 322.2 L181.71 322.2 L183.55 322.2 L185.38 322.2 L187.22 322.2 L189.05 322.2 L190.89 322.2 L192.73 322.2 L194.56 322.2 L196.4 322.2 L198.23 322.2 L200.07 322.2 L201.9 322.19 L203.74 322.17 L205.58 322.14 L207.41 322.11 L209.25 322.06 L211.08 322.01 L212.92 321.94 L214.76 321.86 L216.59 321.78 L218.43 321.68 L220.26 321.57 L222.1 321.46 L223.93 321.32 L225.77 321.18 L227.61 321.03 L229.44 320.86 L231.28 320.68 L233.11 320.49 L234.95 320.29 L236.78 320.07 L238.62 319.84 L240.46 319.6 L242.29 319.34 L244.13 319.07 L245.96 318.79 L247.8 318.49 L249.64 318.18 L251.47 317.86 L253.31 317.52 L255.14 317.17 L256.98 316.81 L258.81 316.43 L260.65 316.04 L262.49 315.64 L264.32 315.22 L266.16 314.79 L267.99 314.35 L269.83 313.89 L271.66 313.42 L273.5 312.94 L275.34 312.44 L277.17 311.93 L279.01 311.41 L280.84 310.88 L282.68 310.34 L284.52 309.78 L286.35 309.21 L288.19 308.64 L288.19 296.64 L286.35 297.21 L284.52 297.78 L282.68 298.34 L280.84 298.88 L279.01 299.41 L277.17 299.93 L275.34 300.44 L273.5 300.94 L271.66 301.42 L269.83 301.89 L267.99 302.35 L266.16 302.79 L264.32 303.22 L262.49 303.64 L260.65 304.04 L258.81 304.43 L256.98 304.81 L255.14 305.17 L253.31 305.52 L251.47 305.86 L249.64 306.18 L247.8 306.49 L245.96 306.79 L244.13 307.07 L242.29 307.34 L240.46 307.6 L238.62 307.84 L236.78 308.07 L234.95 308.29 L233.11 308.49 L231.28 308.68 L229.44 308.86 L227.61 309.03 L225.77 309.18 L223.93 309.32 L222.1 309.46 L220.26 309.57 L218.43 309.68 L216.59 309.78 L214.76 309.86 L212.92 309.94 L211.08 310.01 L209.25 310.06 L207.41 310.11 L205.58 310.14 L203.74 310.17 L201.9 310.19 L200.07 310.2 L198.23 310.2 L196.4 310.2 L194.56 310.2 L192.73 310.2 L190.89 310.2 L189.05 310.2 L187.22 310.2 L185.38 310.2 L183.55 310.2 L181.71 310.2 L179.88 310.2 L178.04 310.2 L176.2 310.2 L174.37 310.2 L172.53 310.2 L170.7 310.2 L168.86 310.2 L167.02 310.2 L165.19 310.2 L163.35 310.2 L161.52 310.2 L159.68 310.2 L157.85 310.2 L156.01 310.2 L154.17 310.2 L152.34 310.2 L150.5 310.2 L148.67 310.2 L146.83 310.2 L145 310.2 L143.16 310.2 L141.32 310.2 L139.49 310.2 L137.65 310.2 L135.82 310.2 L133.98 310.2 L132.14 310.2 L130.31 310.2 L128.47 310.2 L126.64 310.2Z" stroke="#634E8E"/>
<path d="M126.64 308.5 L128.47 308.5 L130.31 308.5 L132.15 308.5 L133.98 308.5 L135.82 308.5 L137.66 308.5 L139.5 308.5 L141.33 308.5 L143.17 308.5 L145.01 308.5 L146.84 308.5 L148.68 308.5 L150.52 308.5 L152.35 308.5 L154.19 308.5 L156.03 308.5 L157.86 308.5 L159.7 308.5 L161.54 308.5 L163.37 308.5 L165.21 308.5 L167.05 308.5 L168.88 308.5 L170.72 308.5 L172.56 308.5 L174.39 308.5 L176.23 308.5 L178.07 308.5 L179.9 308.5 L181.74 308.5 L183.58 308.5 L185.41 308.5 L187.25 308.5 L189.09 308.5 L190.93 308.5 L192.76 308.5 L194.6 308.5 L196.44 308.5 L198.27 308.5 L200.11 308.5 L201.95 308.49 L203.78 308.47 L205.62 308.44 L207.46 308.4 L209.29 308.36 L211.13 308.3 L212.97 308.24 L214.8 308.16 L216.64 308.08 L218.48 307.98 L220.31 307.87 L222.15 307.75 L223.99 307.62 L225.82 307.48 L227.66 307.32 L229.5 307.16 L231.33 306.98 L233.17 306.78 L235.01 306.58 L236.84 306.36 L238.68 306.13 L240.52 305.89 L242.36 305.63 L244.19 305.36 L246.03 305.08 L247.87 304.78 L249.7 304.47 L251.54 304.15 L253.38 303.81 L255.21 303.46 L257.05 303.09 L258.89 302.72 L260.72 302.33 L262.56 301.92 L264.4 301.5 L266.23 301.07 L268.07 300.63 L269.91 300.17 L269.91 288.17 L268.07 288.63 L266.23 289.07 L264.4 289.5 L262.56 289.92 L260.72 290.33 L258.89 290.72 L257.05 291.09 L255.21 291.46 L253.38 291.81 L251.54 292.15 L249.7 292.47 L247.87 292.78 L246.03 293.08 L244.19 293.36 L242.36 293.63 L240.52 293.89 L238.68 294.13 L236.84 294.36 L235.01 294.58 L233.17 294.78 L231.33 294.98 L229.5 295.16 L227.66 295.32 L225.82 295.48 L223.99 295.62 L222.15 295.75 L220.31 295.87 L218.48 295.98 L216.64 296.08 L214.8 296.16 L212.97 296.24 L211.13 296.3 L209.29 296.36 L207.46 296.4 L205.62 296.44 L203.78 296.47 L201.95 296.49 L200.11 296.5 L198.27 296.5 L196.44 296.5 L194.6 296.5 L192.76 296.5 L190.93 296.5 L189.09 296.5 L187.25 296.5 L185.41 296.5 L183.58 296.5 L181.74 296.5 L179.9 296.5 L178.07 296.5 L176.23 296.5 L174.39 296.5 L172.56 296.5 L170.72 296.5 L168.88 296.5 L167.05 296.5 L165.21 296.5 L163.37 296.5 L161.54 296.5 L159.7 296.5 L157.86 296.5 L156.03 296.5 L154.19 296.5 L152.35 296.5 L150.52 296.5 L148.68 296.5 L146.84 296.5 L145.01 296.5 L143.17 296.5 L141.33 296.5 L139.5 296.5 L137.66 296.5 L135.82 296.5 L133.98 296.5 L132.15 296.5 L130.31 296.5 L128.47 296.5 L126.64 296.5Z" stroke="#2C8093"/>
<path d="M126.64 294.8 L128.48 294.8 L130.33 294.8 L132.17 294.8 L134.02 294.8 L135.86 294.8 L137.71 294.8 L139.55 294.8 L141.4 294.8 L143.24 294.8 L145.09 294.8 L146.93 294.8 L148.78 294.8 L150.62 294.8 L152.46 294.8 L154.31 294.8 L156.15 294.8 L158 294.8 L159.84 294.8 L161.69 294.8 L163.53 294.8 L165.38 294.8 L167.22 294.8 L169.07 294.8 L170.91 294.8 L172.76 294.8 L174.6 294.8 L176.45 294.8 L178.29 294.8 L180.14 294.8 L181.98 294.8 L183.83 294.8 L185.67 294.8 L187.52 294.8 L189.36 294.8 L191.21 294.8 L193.05 294.8 L194.9 294.8 L196.74 294.8 L198.58 294.8 L200.43 294.8 L202.27 294.78 L204.12 294.76 L205.96 294.74 L207.81 294.7 L209.65 294.65 L211.5 294.59 L213.34 294.52 L215.19 294.45 L217.03 294.36 L218.88 294.26 L220.72 294.15 L222.57 294.02 L224.41 293.89 L226.26 293.74 L228.1 293.58 L229.95 293.41 L231.79 293.23 L233.64 293.03 L235.48 292.82 L237.33 292.6 L239.17 292.37 L241.02 292.12 L242.86 291.86 L244.7 291.58 L246.55 291.29 L248.39 290.99 L250.24 290.68 L252.08 290.35 L252.08 278.35 L250.24 278.68 L248.39 278.99 L246.55 279.29 L244.7 279.58 L242.86 279.86 L241.02 280.12 L239.17 280.37 L237.33 280.6 L235.48 280.82 L233.64 281.03 L231.79 281.23 L229.95 281.41 L228.1 281.58 L226.26 281.74 L224.41 281.89 L222.57 282.02 L220.72 282.15 L218.88 282.26 L217.03 282.36 L215.19 282.45 L213.34 282.52 L211.5 282.59 L209.65 282.65 L207.81 282.7 L205.96 282.74 L204.12 282.76 L202.27 282.78 L200.43 282.8 L198.58 282.8 L196.74 282.8 L194.9 282.8 L193.05 282.8 L191.21 282.8 L189.36 282.8 L187.52 282.8 L185.67 282.8 L183.83 282.8 L181.98 282.8 L180.14 282.8 L178.29 282.8 L176.45 282.8 L174.6 282.8 L172.76 282.8 L170.91 282.8 L169.07 282.8 L167.22 282.8 L165.38 282.8 L163.53 282.8 L161.69 282.8 L159.84 282.8 L158 282.8 L156.15 282.8 L154.31 282.8 L152.46 282.8 L150.62 282.8 L148.78 282.8 L146.93 282.8 L145.09 282.8 L143.24 282.8 L141.4 282.8 L139.55 282.8 L137.71 282.8 L135.86 282.8 L134.02 282.8 L132.17 282.8 L130.33 282.8 L128.48 282.8 L126.64 282.8Z" stroke="#CB7830"/>
<path d="M126.64 281.1 L128.49 281.1 L130.35 281.1 L132.2 281.1 L134.06 281.1 L135.92 281.1 L137.77 281.1 L139.63 281.1 L141.48 281.1 L143.34 281.1 L145.19 281.1 L147.05 281.1 L148.9 281.1 L150.76 281.1 L152.62 281.1 L154.47 281.1 L156.33 281.1 L158.18 281.1 L160.04 281.1 L161.89 281.1 L163.75 281.1 L165.6 281.1 L167.46 281.1 L169.32 281.1 L171.17 281.1 L173.03 281.1 L174.88 281.1 L176.74 281.1 L178.59 281.1 L180.45 281.1 L182.3 281.1 L184.16 281.1 L186.02 281.1 L187.87 281.1 L189.73 281.1 L191.58 281.1 L193.44 281.1 L195.29 281.1 L197.15 281.1 L199.01 281.1 L200.86 281.09 L202.72 281.08 L204.57 281.06 L206.43 281.03 L208.28 280.99 L210.14 280.93 L211.99 280.87 L213.85 280.8 L215.71 280.72 L217.56 280.63 L219.42 280.53 L221.27 280.41 L223.13 280.28 L224.98 280.14 L226.84 279.99 L228.69 279.83 L230.55 279.65 L232.41 279.47 L234.26 279.26 L234.26 267.26 L232.41 267.47 L230.55 267.65 L228.69 267.83 L226.84 267.99 L224.98 268.14 L223.13 268.28 L221.27 268.41 L219.42 268.53 L217.56 268.63 L215.71 268.72 L213.85 268.8 L211.99 268.87 L210.14 268.93 L208.28 268.99 L206.43 269.03 L204.57 269.06 L202.72 269.08 L200.86 269.09 L199.01 269.1 L197.15 269.1 L195.29 269.1 L193.44 269.1 L191.58 269.1 L189.73 269.1 L187.87 269.1 L186.02 269.1 L184.16 269.1 L182.3 269.1 L180.45 269.1 L178.59 269.1 L176.74 269.1 L174.88 269.1 L173.03 269.1 L171.17 269.1 L169.32 269.1 L167.46 269.1 L165.6 269.1 L163.75 269.1 L161.89 269.1 L160.04 269.1 L158.18 269.1 L156.33 269.1 L154.47 269.1 L152.62 269.1 L150.76 269.1 L148.9 269.1 L147.05 269.1 L145.19 269.1 L143.34 269.1 L141.48 269.1 L139.63 269.1 L137.77 269.1 L135.92 269.1 L134.06 269.1 L132.2 269.1 L130.35 269.1 L128.49 269.1 L126.64 269.1Z" stroke="#33609D"/>
<path d="M126.64 267.4 L128.47 267.4 L130.3 267.4 L132.14 267.4 L133.97 267.4 L135.8 267.4 L137.63 267.4 L139.47 267.4 L141.3 267.4 L143.13 267.4 L144.96 267.4 L146.8 267.4 L148.63 267.4 L150.46 267.4 L152.29 267.4 L154.13 267.4 L155.96 267.4 L157.79 267.4 L159.63 267.4 L161.46 267.4 L163.29 267.4 L165.12 267.4 L166.96 267.4 L168.79 267.4 L170.62 267.4 L172.45 267.4 L174.29 267.4 L176.12 267.4 L177.95 267.4 L179.78 267.4 L181.62 267.4 L183.45 267.4 L185.28 267.4 L187.12 267.4 L188.95 267.4 L190.78 267.4 L192.61 267.4 L194.45 267.4 L196.28 267.4 L198.11 267.4 L199.94 267.4 L201.78 267.39 L203.61 267.37 L205.44 267.34 L207.27 267.31 L209.11 267.26 L210.94 267.21 L212.77 267.15 L214.61 267.07 L216.44 266.99 L216.44 254.99 L214.61 255.07 L212.77 255.15 L210.94 255.21 L209.11 255.26 L207.27 255.31 L205.44 255.34 L203.61 255.37 L201.78 255.39 L199.94 255.4 L198.11 255.4 L196.28 255.4 L194.45 255.4 L192.61 255.4 L190.78 255.4 L188.95 255.4 L187.12 255.4 L185.28 255.4 L183.45 255.4 L181.62 255.4 L179.78 255.4 L177.95 255.4 L176.12 255.4 L174.29 255.4 L172.45 255.4 L170.62 255.4 L168.79 255.4 L166.96 255.4 L165.12 255.4 L163.29 255.4 L161.46 255.4 L159.63 255.4 L157.79 255.4 L155.96 255.4 L154.13 255.4 L152.29 255.4 L150.46 255.4 L148.63 255.4 L146.8 255.4 L144.96 255.4 L143.13 255.4 L141.3 255.4 L139.47 255.4 L137.63 255.4 L135.8 255.4 L133.97 255.4 L132.14 255.4 L130.3 255.4 L128.47 255.4 L126.64 255.4Z" stroke="#9D3735"/>
<path d="M126.64 253.6 H198.8 V220.6 H126.64 Z" stroke="#7A9E3E"/>
<path d="M126.64 218.9 H315.15 V90 H126.64 Z" stroke="#634E8E"/>
</g>
<path d="M109.5 107.4 H429.4 V445.5" fill="none" stroke="#233248" stroke-width="1.4"/>
<text x="91.7" y="451.4" font-family='"Liberation Sans", sans-serif' font-size="19" text-anchor="end" fill="#1a1a1a">0.00</text>
<text x="91.7" y="409.14" font-family='"Liberation Sans", sans-serif' font-size="19" text-anchor="end" fill="#1a1a1a">0.02</text>
<text x="91.7" y="366.88" font-family='"Liberation Sans", sans-serif' font-size="19" text-anchor="end" fill="#1a1a1a">0.04</text>
<text x="91.7" y="324.61" font-family='"Liberation Sans", sans-serif' font-size="19" text-anchor="end" fill="#1a1a1a">0.06</text>
<text x="91.7" y="282.35" font-family='"Liberation Sans", sans-serif' font-size="19" text-anchor="end" fill="#1a1a1a">0.08</text>
<text x="91.7" y="240.09" font-family='"Liberation Sans", sans-serif' font-size="19" text-anchor="end" fill="#1a1a1a">0.10</text>
<text x="91.7" y="197.83" font-family='"Liberation Sans", sans-serif' font-size="19" text-anchor="end" fill="#1a1a1a">0.12</text>
<text x="91.7" y="155.57" font-family='"Liberation Sans", sans-serif' font-size="19" text-anchor="end" fill="#1a1a1a">0.14</text>
<text x="91.7" y="113.3" font-family='"Liberation Sans", sans-serif' font-size="19" text-anchor="end" fill="#1a1a1a">0.16</text>
<text x="110.5" y="478" font-family='"Liberation Sans", sans-serif' font-size="19" text-anchor="middle" fill="#1a1a1a">0.2</text>
<text x="201.9" y="478" font-family='"Liberation Sans", sans-serif' font-size="19" text-anchor="middle" fill="#1a1a1a">0.4</text>
<text x="293.3" y="478" font-family='"Liberation Sans", sans-serif' font-size="19" text-anchor="middle" fill="#1a1a1a">0.6</text>
<text x="384.7" y="478" font-family='"Liberation Sans", sans-serif' font-size="19" text-anchor="middle" fill="#1a1a1a">0.8</text>
<text x="225.8" y="501.2" font-family='"Liberation Sans", sans-serif' font-size="19.4" font-weight="bold" fill="#111" textLength="102.2" lengthAdjust="spacingAndGlyphs">Radius [in]</text>
<text transform="translate(41.4,343.8) rotate(-90)" font-family='"Liberation Sans", sans-serif' font-size="19.4" font-weight="bold" fill="#111" textLength="120.3" lengthAdjust="spacingAndGlyphs">Shim Lift [in]</text>
</g>
<text x="135" y="141.6" font-family='"Liberation Sans", sans-serif' font-size="22" fill="#000" stroke="#000" stroke-width="0.35" textLength="144.5" lengthAdjust="spacingAndGlyphs">Tapered stack</text>
<path id="lg44" d="M384.7 192.33 A23 23 0 1 1 385.1 192.37" fill="none"/><text font-family="'Liberation Serif', serif" font-size="14" fill="#8c8c8c" font-weight="bold"><textPath href="#lg44" textLength="135.68" lengthAdjust="spacingAndGlyphs">www.ShimReStacker.com</textPath></text><text x="389" y="182.1" font-family='"Liberation Sans", sans-serif' font-size="35" font-weight="bold" text-anchor="middle" textLength="31" lengthAdjust="spacingAndGlyphs"><tspan fill="#a8a8a8">S</tspan><tspan fill="#8a8a8a">R</tspan></text>
<rect x="490.5" y="87" width="461" height="424" fill="none" stroke="#707070" stroke-width="2"/>
<g transform="translate(482.5,0)">
<path d="M109.5 107.4 V445.5 H429.4" fill="none" stroke="#868686" stroke-width="1.1"/>
<path d="M102.5 445.5H109.5M105.5 424.37H109.5M102.5 403.24H109.5M105.5 382.11H109.5M102.5 360.98H109.5M105.5 339.85H109.5M102.5 318.71H109.5M105.5 297.58H109.5M102.5 276.45H109.5M105.5 255.32H109.5M102.5 234.19H109.5M105.5 213.06H109.5M102.5 191.93H109.5M105.5 170.8H109.5M102.5 149.67H109.5M105.5 128.54H109.5M102.5 107.4H109.5M109.5 445.5V453.5M155.2 445.5V450.5M200.9 445.5V453.5M246.6 445.5V450.5M292.3 445.5V453.5M338 445.5V450.5M383.7 445.5V453.5M429.4 445.5V450.5" fill="none" stroke="#868686" stroke-width="1.1"/>
<clipPath id="cp49"><rect x="109.5" y="107.4" width="319.9" height="341.1"/></clipPath>
<g clip-path="url(#cp49)" fill="none" stroke-width="2.6" stroke-linejoin="miter">
<path d="M126.64 445.3 L128.47 445.3 L130.31 445.3 L132.15 445.3 L133.98 445.3 L135.82 445.3 L137.66 445.3 L139.49 445.3 L141.33 445.3 L143.16 445.3 L145 445.3 L146.84 445.3 L148.67 445.3 L150.51 445.3 L152.35 445.3 L154.18 445.3 L156.02 445.3 L157.86 445.3 L159.69 445.3 L161.53 445.3 L163.36 445.3 L165.2 445.3 L167.04 445.3 L168.87 445.3 L170.71 445.3 L172.55 445.3 L174.38 445.3 L176.22 445.3 L178.06 445.3 L179.89 445.3 L181.73 445.3 L183.56 445.3 L185.4 445.3 L187.24 445.3 L189.07 445.3 L190.91 445.3 L192.75 445.3 L194.58 445.3 L196.42 445.3 L198.25 445.3 L200.09 445.3 L201.93 445.28 L203.76 445.25 L205.6 445.21 L207.44 445.16 L209.27 445.09 L211.11 445.01 L212.95 444.92 L214.78 444.82 L216.62 444.7 L218.45 444.57 L220.29 444.43 L222.13 444.28 L223.96 444.12 L225.8 443.94 L227.64 443.75 L229.47 443.54 L231.31 443.33 L233.15 443.1 L234.98 442.86 L236.82 442.61 L238.65 442.34 L240.49 442.07 L242.33 441.78 L244.16 441.48 L246 441.16 L247.84 440.83 L249.67 440.49 L251.51 440.14 L253.34 439.78 L255.18 439.4 L257.02 439.01 L258.85 438.61 L260.69 438.2 L262.53 437.77 L264.36 437.33 L266.2 436.88 L268.04 436.42 L269.87 435.94 L271.71 435.45 L273.54 434.95 L275.38 434.44 L277.22 433.91 L279.05 433.37 L280.89 432.82 L282.73 432.26 L284.56 431.68 L286.4 431.09 L288.24 430.49 L290.07 429.88 L291.91 429.26 L293.74 428.62 L295.58 427.99 L297.42 427.35 L299.25 426.72 L301.09 426.08 L302.93 425.45 L304.76 424.82 L306.6 424.18 L308.44 423.55 L310.27 422.91 L312.11 422.28 L313.94 421.64 L315.78 421.01 L317.62 420.38 L319.45 419.74 L321.29 419.11 L323.13 418.47 L324.96 417.84 L326.8 417.2 L328.63 416.57 L330.47 415.94 L332.31 415.3 L334.14 414.67 L335.98 414.03 L337.82 413.4 L339.65 412.76 L341.49 412.13 L343.33 411.5 L345.16 410.86 L347 410.23 L348.83 409.59 L350.67 408.96 L352.51 408.32 L354.34 407.69 L356.18 407.06 L358.02 406.42 L359.85 405.79 L361.69 405.15 L363.53 404.52 L365.36 403.88 L367.2 403.25 L369.03 402.62 L370.87 401.98 L372.71 401.35 L374.54 400.71 L376.38 400.08 L378.22 399.44 L378.22 382.94 L376.38 383.58 L374.54 384.21 L372.71 384.85 L370.87 385.48 L369.03 386.12 L367.2 386.75 L365.36 387.38 L363.53 388.02 L361.69 388.65 L359.85 389.29 L358.02 389.92 L356.18 390.56 L354.34 391.19 L352.51 391.82 L350.67 392.46 L348.83 393.09 L347 393.73 L345.16 394.36 L343.33 395 L341.49 395.63 L339.65 396.26 L337.82 396.9 L335.98 397.53 L334.14 398.17 L332.31 398.8 L330.47 399.44 L328.63 400.07 L326.8 400.7 L324.96 401.34 L323.13 401.97 L321.29 402.61 L319.45 403.24 L317.62 403.88 L315.78 404.51 L313.94 405.14 L312.11 405.78 L310.27 406.41 L308.44 407.05 L306.6 407.68 L304.76 408.32 L302.93 408.95 L301.09 409.58 L299.25 410.22 L297.42 410.85 L295.58 411.49 L293.74 412.12 L291.91 412.76 L290.07 413.38 L288.24 413.99 L286.4 414.59 L284.56 415.18 L282.73 415.76 L280.89 416.32 L279.05 416.87 L277.22 417.41 L275.38 417.94 L273.54 418.45 L271.71 418.95 L269.87 419.44 L268.04 419.92 L266.2 420.38 L264.36 420.83 L262.53 421.27 L260.69 421.7 L258.85 422.11 L257.02 422.51 L255.18 422.9 L253.34 423.28 L251.51 423.64 L249.67 423.99 L247.84 424.33 L246 424.66 L244.16 424.98 L242.33 425.28 L240.49 425.57 L238.65 425.84 L236.82 426.11 L234.98 426.36 L233.15 426.6 L231.31 426.83 L229.47 427.04 L227.64 427.25 L225.8 427.44 L223.96 427.62 L222.13 427.78 L220.29 427.93 L218.45 428.07 L216.62 428.2 L214.78 428.32 L212.95 428.42 L211.11 428.51 L209.27 428.59 L207.44 428.66 L205.6 428.71 L203.76 428.75 L201.93 428.78 L200.09 428.8 L198.25 428.8 L196.42 428.8 L194.58 428.8 L192.75 428.8 L190.91 428.8 L189.07 428.8 L187.24 428.8 L185.4 428.8 L183.56 428.8 L181.73 428.8 L179.89 428.8 L178.06 428.8 L176.22 428.8 L174.38 428.8 L172.55 428.8 L170.71 428.8 L168.87 428.8 L167.04 428.8 L165.2 428.8 L163.36 428.8 L161.53 428.8 L159.69 428.8 L157.86 428.8 L156.02 428.8 L154.18 428.8 L152.35 428.8 L150.51 428.8 L148.67 428.8 L146.84 428.8 L145 428.8 L143.16 428.8 L141.33 428.8 L139.49 428.8 L137.66 428.8 L135.82 428.8 L133.98 428.8 L132.15 428.8 L130.31 428.8 L128.47 428.8 L126.64 428.8Z" stroke="#33609D"/>
<path d="M126.64 427.15 L128.47 427.15 L130.31 427.15 L132.15 427.15 L133.98 427.15 L135.82 427.15 L137.66 427.15 L139.49 427.15 L141.33 427.15 L143.16 427.15 L145 427.15 L146.84 427.15 L148.67 427.15 L150.51 427.15 L152.35 427.15 L154.18 427.15 L156.02 427.15 L157.86 427.15 L159.69 427.15 L161.53 427.15 L163.36 427.15 L165.2 427.15 L167.04 427.15 L168.87 427.15 L170.71 427.15 L172.55 427.15 L174.38 427.15 L176.22 427.15 L178.06 427.15 L179.89 427.15 L181.73 427.15 L183.56 427.15 L185.4 427.15 L187.24 427.15 L189.07 427.15 L190.91 427.15 L192.75 427.15 L194.58 427.15 L196.42 427.15 L198.25 427.15 L200.09 427.15 L201.93 427.13 L203.76 427.1 L205.6 427.06 L207.44 427.01 L209.27 426.94 L211.11 426.86 L212.95 426.77 L214.78 426.67 L216.62 426.55 L218.45 426.42 L220.29 426.28 L222.13 426.13 L223.96 425.97 L225.8 425.79 L227.64 425.6 L229.47 425.39 L231.31 425.18 L233.15 424.95 L234.98 424.71 L236.82 424.46 L238.65 424.19 L240.49 423.92 L242.33 423.63 L244.16 423.33 L246 423.01 L247.84 422.68 L249.67 422.34 L251.51 421.99 L253.34 421.63 L255.18 421.25 L257.02 420.86 L258.85 420.46 L260.69 420.05 L262.53 419.62 L264.36 419.18 L266.2 418.73 L268.04 418.27 L269.87 417.79 L271.71 417.3 L273.54 416.8 L275.38 416.29 L277.22 415.76 L279.05 415.22 L280.89 414.67 L282.73 414.11 L284.56 413.53 L286.4 412.94 L288.24 412.34 L290.07 411.73 L291.91 411.11 L293.74 410.47 L295.58 409.84 L297.42 409.2 L299.25 408.57 L301.09 407.93 L302.93 407.3 L304.76 406.67 L306.6 406.03 L308.44 405.4 L310.27 404.76 L312.11 404.13 L313.94 403.49 L315.78 402.86 L317.62 402.23 L319.45 401.59 L321.29 400.96 L323.13 400.32 L324.96 399.69 L326.8 399.05 L328.63 398.42 L330.47 397.79 L332.31 397.15 L334.14 396.52 L335.98 395.88 L337.82 395.25 L339.65 394.61 L341.49 393.98 L343.33 393.35 L345.16 392.71 L347 392.08 L348.83 391.44 L350.67 390.81 L352.51 390.17 L354.34 389.54 L356.18 388.91 L358.02 388.27 L359.85 387.64 L361.69 387 L363.53 386.37 L365.36 385.73 L367.2 385.1 L369.03 384.47 L370.87 383.83 L372.71 383.2 L374.54 382.56 L376.38 381.93 L378.22 381.29 L378.22 364.79 L376.38 365.43 L374.54 366.06 L372.71 366.7 L370.87 367.33 L369.03 367.97 L367.2 368.6 L365.36 369.23 L363.53 369.87 L361.69 370.5 L359.85 371.14 L358.02 371.77 L356.18 372.41 L354.34 373.04 L352.51 373.67 L350.67 374.31 L348.83 374.94 L347 375.58 L345.16 376.21 L343.33 376.85 L341.49 377.48 L339.65 378.11 L337.82 378.75 L335.98 379.38 L334.14 380.02 L332.31 380.65 L330.47 381.29 L328.63 381.92 L326.8 382.55 L324.96 383.19 L323.13 383.82 L321.29 384.46 L319.45 385.09 L317.62 385.73 L315.78 386.36 L313.94 386.99 L312.11 387.63 L310.27 388.26 L308.44 388.9 L306.6 389.53 L304.76 390.17 L302.93 390.8 L301.09 391.43 L299.25 392.07 L297.42 392.7 L295.58 393.34 L293.74 393.97 L291.91 394.61 L290.07 395.23 L288.24 395.84 L286.4 396.44 L284.56 397.03 L282.73 397.61 L280.89 398.17 L279.05 398.72 L277.22 399.26 L275.38 399.79 L273.54 400.3 L271.71 400.8 L269.87 401.29 L268.04 401.77 L266.2 402.23 L264.36 402.68 L262.53 403.12 L260.69 403.55 L258.85 403.96 L257.02 404.36 L255.18 404.75 L253.34 405.13 L251.51 405.49 L249.67 405.84 L247.84 406.18 L246 406.51 L244.16 406.83 L242.33 407.13 L240.49 407.42 L238.65 407.69 L236.82 407.96 L234.98 408.21 L233.15 408.45 L231.31 408.68 L229.47 408.89 L227.64 409.1 L225.8 409.29 L223.96 409.47 L222.13 409.63 L220.29 409.78 L218.45 409.92 L216.62 410.05 L214.78 410.17 L212.95 410.27 L211.11 410.36 L209.27 410.44 L207.44 410.51 L205.6 410.56 L203.76 410.6 L201.93 410.63 L200.09 410.65 L198.25 410.65 L196.42 410.65 L194.58 410.65 L192.75 410.65 L190.91 410.65 L189.07 410.65 L187.24 410.65 L185.4 410.65 L183.56 410.65 L181.73 410.65 L179.89 410.65 L178.06 410.65 L176.22 410.65 L174.38 410.65 L172.55 410.65 L170.71 410.65 L168.87 410.65 L167.04 410.65 L165.2 410.65 L163.36 410.65 L161.53 410.65 L159.69 410.65 L157.86 410.65 L156.02 410.65 L154.18 410.65 L152.35 410.65 L150.51 410.65 L148.67 410.65 L146.84 410.65 L145 410.65 L143.16 410.65 L141.33 410.65 L139.49 410.65 L137.66 410.65 L135.82 410.65 L133.98 410.65 L132.15 410.65 L130.31 410.65 L128.47 410.65 L126.64 410.65Z" stroke="#9D3735"/>
<path d="M126.64 409 L128.47 409 L130.31 409 L132.15 409 L133.98 409 L135.82 409 L137.66 409 L139.49 409 L141.33 409 L143.16 409 L145 409 L146.84 409 L148.67 409 L150.51 409 L152.35 409 L154.18 409 L156.02 409 L157.86 409 L159.69 409 L161.53 409 L163.36 409 L165.2 409 L167.04 409 L168.87 409 L170.71 409 L172.55 409 L174.38 409 L176.22 409 L178.06 409 L179.89 409 L181.73 409 L183.56 409 L185.4 409 L187.24 409 L189.07 409 L190.91 409 L192.75 409 L194.58 409 L196.42 409 L198.25 409 L200.09 409 L201.93 408.98 L203.76 408.95 L205.6 408.91 L207.44 408.86 L209.27 408.79 L211.11 408.71 L212.95 408.62 L214.78 408.52 L216.62 408.4 L218.45 408.27 L220.29 408.13 L222.13 407.98 L223.96 407.82 L225.8 407.64 L227.64 407.45 L229.47 407.24 L231.31 407.03 L233.15 406.8 L234.98 406.56 L236.82 406.31 L238.65 406.04 L240.49 405.77 L242.33 405.48 L244.16 405.18 L246 404.86 L247.84 404.53 L249.67 404.19 L251.51 403.84 L253.34 403.48 L255.18 403.1 L257.02 402.71 L258.85 402.31 L260.69 401.9 L262.53 401.47 L264.36 401.03 L266.2 400.58 L268.04 400.12 L269.87 399.64 L271.71 399.15 L273.54 398.65 L275.38 398.14 L277.22 397.61 L279.05 397.07 L280.89 396.52 L282.73 395.96 L284.56 395.38 L286.4 394.79 L288.24 394.19 L290.07 393.58 L291.91 392.96 L293.74 392.32 L295.58 391.69 L297.42 391.05 L299.25 390.42 L301.09 389.78 L302.93 389.15 L304.76 388.52 L306.6 387.88 L308.44 387.25 L310.27 386.61 L312.11 385.98 L313.94 385.34 L315.78 384.71 L317.62 384.08 L319.45 383.44 L321.29 382.81 L323.13 382.17 L324.96 381.54 L326.8 380.9 L328.63 380.27 L330.47 379.64 L332.31 379 L334.14 378.37 L335.98 377.73 L337.82 377.1 L339.65 376.46 L341.49 375.83 L343.33 375.2 L345.16 374.56 L347 373.93 L348.83 373.29 L350.67 372.66 L352.51 372.02 L354.34 371.39 L356.18 370.76 L358.02 370.12 L359.85 369.49 L361.69 368.85 L363.53 368.22 L365.36 367.58 L367.2 366.95 L369.03 366.32 L370.87 365.68 L372.71 365.05 L374.54 364.41 L376.38 363.78 L378.22 363.14 L378.22 346.64 L376.38 347.28 L374.54 347.91 L372.71 348.55 L370.87 349.18 L369.03 349.82 L367.2 350.45 L365.36 351.08 L363.53 351.72 L361.69 352.35 L359.85 352.99 L358.02 353.62 L356.18 354.26 L354.34 354.89 L352.51 355.52 L350.67 356.16 L348.83 356.79 L347 357.43 L345.16 358.06 L343.33 358.7 L341.49 359.33 L339.65 359.96 L337.82 360.6 L335.98 361.23 L334.14 361.87 L332.31 362.5 L330.47 363.14 L328.63 363.77 L326.8 364.4 L324.96 365.04 L323.13 365.67 L321.29 366.31 L319.45 366.94 L317.62 367.58 L315.78 368.21 L313.94 368.84 L312.11 369.48 L310.27 370.11 L308.44 370.75 L306.6 371.38 L304.76 372.02 L302.93 372.65 L301.09 373.28 L299.25 373.92 L297.42 374.55 L295.58 375.19 L293.74 375.82 L291.91 376.46 L290.07 377.08 L288.24 377.69 L286.4 378.29 L284.56 378.88 L282.73 379.46 L280.89 380.02 L279.05 380.57 L277.22 381.11 L275.38 381.64 L273.54 382.15 L271.71 382.65 L269.87 383.14 L268.04 383.62 L266.2 384.08 L264.36 384.53 L262.53 384.97 L260.69 385.4 L258.85 385.81 L257.02 386.21 L255.18 386.6 L253.34 386.98 L251.51 387.34 L249.67 387.69 L247.84 388.03 L246 388.36 L244.16 388.68 L242.33 388.98 L240.49 389.27 L238.65 389.54 L236.82 389.81 L234.98 390.06 L233.15 390.3 L231.31 390.53 L229.47 390.74 L227.64 390.95 L225.8 391.14 L223.96 391.32 L222.13 391.48 L220.29 391.63 L218.45 391.77 L216.62 391.9 L214.78 392.02 L212.95 392.12 L211.11 392.21 L209.27 392.29 L207.44 392.36 L205.6 392.41 L203.76 392.45 L201.93 392.48 L200.09 392.5 L198.25 392.5 L196.42 392.5 L194.58 392.5 L192.75 392.5 L190.91 392.5 L189.07 392.5 L187.24 392.5 L185.4 392.5 L183.56 392.5 L181.73 392.5 L179.89 392.5 L178.06 392.5 L176.22 392.5 L174.38 392.5 L172.55 392.5 L170.71 392.5 L168.87 392.5 L167.04 392.5 L165.2 392.5 L163.36 392.5 L161.53 392.5 L159.69 392.5 L157.86 392.5 L156.02 392.5 L154.18 392.5 L152.35 392.5 L150.51 392.5 L148.67 392.5 L146.84 392.5 L145 392.5 L143.16 392.5 L141.33 392.5 L139.49 392.5 L137.66 392.5 L135.82 392.5 L133.98 392.5 L132.15 392.5 L130.31 392.5 L128.47 392.5 L126.64 392.5Z" stroke="#7A9E3E"/>
<path d="M126.64 390.85 L128.47 390.85 L130.31 390.85 L132.15 390.85 L133.98 390.85 L135.82 390.85 L137.66 390.85 L139.49 390.85 L141.33 390.85 L143.16 390.85 L145 390.85 L146.84 390.85 L148.67 390.85 L150.51 390.85 L152.35 390.85 L154.18 390.85 L156.02 390.85 L157.86 390.85 L159.69 390.85 L161.53 390.85 L163.36 390.85 L165.2 390.85 L167.04 390.85 L168.87 390.85 L170.71 390.85 L172.55 390.85 L174.38 390.85 L176.22 390.85 L178.06 390.85 L179.89 390.85 L181.73 390.85 L183.56 390.85 L185.4 390.85 L187.24 390.85 L189.07 390.85 L190.91 390.85 L192.75 390.85 L194.58 390.85 L196.42 390.85 L198.25 390.85 L200.09 390.85 L201.93 390.83 L203.76 390.8 L205.6 390.76 L207.44 390.71 L209.27 390.64 L211.11 390.56 L212.95 390.47 L214.78 390.37 L216.62 390.25 L218.45 390.12 L220.29 389.98 L222.13 389.83 L223.96 389.67 L225.8 389.49 L227.64 389.3 L229.47 389.09 L231.31 388.88 L233.15 388.65 L234.98 388.41 L236.82 388.16 L238.65 387.89 L240.49 387.62 L242.33 387.33 L244.16 387.03 L246 386.71 L247.84 386.38 L249.67 386.04 L251.51 385.69 L253.34 385.33 L255.18 384.95 L257.02 384.56 L258.85 384.16 L260.69 383.75 L262.53 383.32 L264.36 382.88 L266.2 382.43 L268.04 381.97 L269.87 381.49 L271.71 381 L273.54 380.5 L275.38 379.99 L277.22 379.46 L279.05 378.92 L280.89 378.37 L282.73 377.81 L284.56 377.23 L286.4 376.64 L288.24 376.04 L290.07 375.43 L291.91 374.81 L293.74 374.17 L295.58 373.54 L297.42 372.9 L299.25 372.27 L301.09 371.63 L302.93 371 L304.76 370.37 L306.6 369.73 L308.44 369.1 L310.27 368.46 L312.11 367.83 L313.94 367.19 L315.78 366.56 L317.62 365.93 L319.45 365.29 L321.29 364.66 L323.13 364.02 L324.96 363.39 L326.8 362.75 L328.63 362.12 L330.47 361.49 L332.31 360.85 L334.14 360.22 L335.98 359.58 L337.82 358.95 L339.65 358.31 L341.49 357.68 L343.33 357.05 L345.16 356.41 L347 355.78 L348.83 355.14 L350.67 354.51 L352.51 353.87 L354.34 353.24 L356.18 352.61 L358.02 351.97 L359.85 351.34 L361.69 350.7 L363.53 350.07 L365.36 349.43 L367.2 348.8 L369.03 348.17 L370.87 347.53 L372.71 346.9 L374.54 346.26 L376.38 345.63 L378.22 344.99 L378.22 328.49 L376.38 329.13 L374.54 329.76 L372.71 330.4 L370.87 331.03 L369.03 331.67 L367.2 332.3 L365.36 332.93 L363.53 333.57 L361.69 334.2 L359.85 334.84 L358.02 335.47 L356.18 336.11 L354.34 336.74 L352.51 337.37 L350.67 338.01 L348.83 338.64 L347 339.28 L345.16 339.91 L343.33 340.55 L341.49 341.18 L339.65 341.81 L337.82 342.45 L335.98 343.08 L334.14 343.72 L332.31 344.35 L330.47 344.99 L328.63 345.62 L326.8 346.25 L324.96 346.89 L323.13 347.52 L321.29 348.16 L319.45 348.79 L317.62 349.43 L315.78 350.06 L313.94 350.69 L312.11 351.33 L310.27 351.96 L308.44 352.6 L306.6 353.23 L304.76 353.87 L302.93 354.5 L301.09 355.13 L299.25 355.77 L297.42 356.4 L295.58 357.04 L293.74 357.67 L291.91 358.31 L290.07 358.93 L288.24 359.54 L286.4 360.14 L284.56 360.73 L282.73 361.31 L280.89 361.87 L279.05 362.42 L277.22 362.96 L275.38 363.49 L273.54 364 L271.71 364.5 L269.87 364.99 L268.04 365.47 L266.2 365.93 L264.36 366.38 L262.53 366.82 L260.69 367.25 L258.85 367.66 L257.02 368.06 L255.18 368.45 L253.34 368.83 L251.51 369.19 L249.67 369.54 L247.84 369.88 L246 370.21 L244.16 370.53 L242.33 370.83 L240.49 371.12 L238.65 371.39 L236.82 371.66 L234.98 371.91 L233.15 372.15 L231.31 372.38 L229.47 372.59 L227.64 372.8 L225.8 372.99 L223.96 373.17 L222.13 373.33 L220.29 373.48 L218.45 373.62 L216.62 373.75 L214.78 373.87 L212.95 373.97 L211.11 374.06 L209.27 374.14 L207.44 374.21 L205.6 374.26 L203.76 374.3 L201.93 374.33 L200.09 374.35 L198.25 374.35 L196.42 374.35 L194.58 374.35 L192.75 374.35 L190.91 374.35 L189.07 374.35 L187.24 374.35 L185.4 374.35 L183.56 374.35 L181.73 374.35 L179.89 374.35 L178.06 374.35 L176.22 374.35 L174.38 374.35 L172.55 374.35 L170.71 374.35 L168.87 374.35 L167.04 374.35 L165.2 374.35 L163.36 374.35 L161.53 374.35 L159.69 374.35 L157.86 374.35 L156.02 374.35 L154.18 374.35 L152.35 374.35 L150.51 374.35 L148.67 374.35 L146.84 374.35 L145 374.35 L143.16 374.35 L141.33 374.35 L139.49 374.35 L137.66 374.35 L135.82 374.35 L133.98 374.35 L132.15 374.35 L130.31 374.35 L128.47 374.35 L126.64 374.35Z" stroke="#634E8E"/>
<path d="M126.64 372.7 L128.47 372.7 L130.31 372.7 L132.15 372.7 L133.98 372.7 L135.82 372.7 L137.66 372.7 L139.49 372.7 L141.33 372.7 L143.16 372.7 L145 372.7 L146.84 372.7 L148.67 372.7 L150.51 372.7 L152.35 372.7 L154.18 372.7 L156.02 372.7 L157.86 372.7 L159.69 372.7 L161.53 372.7 L163.36 372.7 L165.2 372.7 L167.04 372.7 L168.87 372.7 L170.71 372.7 L172.55 372.7 L174.38 372.7 L176.22 372.7 L178.06 372.7 L179.89 372.7 L181.73 372.7 L183.56 372.7 L185.4 372.7 L187.24 372.7 L189.07 372.7 L190.91 372.7 L192.75 372.7 L194.58 372.7 L196.42 372.7 L198.25 372.7 L200.09 372.7 L201.93 372.68 L203.76 372.65 L205.6 372.61 L207.44 372.56 L209.27 372.49 L211.11 372.41 L212.95 372.32 L214.78 372.22 L216.62 372.1 L218.45 371.97 L220.29 371.83 L222.13 371.68 L223.96 371.52 L225.8 371.34 L227.64 371.15 L229.47 370.94 L231.31 370.73 L233.15 370.5 L234.98 370.26 L236.82 370.01 L238.65 369.74 L240.49 369.47 L242.33 369.18 L244.16 368.88 L246 368.56 L247.84 368.23 L249.67 367.89 L251.51 367.54 L253.34 367.18 L255.18 366.8 L257.02 366.41 L258.85 366.01 L260.69 365.6 L262.53 365.17 L264.36 364.73 L266.2 364.28 L268.04 363.82 L269.87 363.34 L271.71 362.85 L273.54 362.35 L275.38 361.84 L277.22 361.31 L279.05 360.77 L280.89 360.22 L282.73 359.66 L284.56 359.08 L286.4 358.49 L288.24 357.89 L290.07 357.28 L291.91 356.66 L293.74 356.02 L295.58 355.39 L297.42 354.75 L299.25 354.12 L301.09 353.48 L302.93 352.85 L304.76 352.22 L306.6 351.58 L308.44 350.95 L310.27 350.31 L312.11 349.68 L313.94 349.04 L315.78 348.41 L317.62 347.78 L319.45 347.14 L321.29 346.51 L323.13 345.87 L324.96 345.24 L326.8 344.6 L328.63 343.97 L330.47 343.34 L332.31 342.7 L334.14 342.07 L335.98 341.43 L337.82 340.8 L339.65 340.16 L341.49 339.53 L343.33 338.9 L345.16 338.26 L347 337.63 L348.83 336.99 L350.67 336.36 L352.51 335.72 L354.34 335.09 L356.18 334.46 L358.02 333.82 L359.85 333.19 L361.69 332.55 L363.53 331.92 L365.36 331.28 L367.2 330.65 L369.03 330.02 L370.87 329.38 L372.71 328.75 L374.54 328.11 L376.38 327.48 L378.22 326.84 L378.22 310.34 L376.38 310.98 L374.54 311.61 L372.71 312.25 L370.87 312.88 L369.03 313.52 L367.2 314.15 L365.36 314.78 L363.53 315.42 L361.69 316.05 L359.85 316.69 L358.02 317.32 L356.18 317.96 L354.34 318.59 L352.51 319.22 L350.67 319.86 L348.83 320.49 L347 321.13 L345.16 321.76 L343.33 322.4 L341.49 323.03 L339.65 323.66 L337.82 324.3 L335.98 324.93 L334.14 325.57 L332.31 326.2 L330.47 326.84 L328.63 327.47 L326.8 328.1 L324.96 328.74 L323.13 329.37 L321.29 330.01 L319.45 330.64 L317.62 331.28 L315.78 331.91 L313.94 332.54 L312.11 333.18 L310.27 333.81 L308.44 334.45 L306.6 335.08 L304.76 335.72 L302.93 336.35 L301.09 336.98 L299.25 337.62 L297.42 338.25 L295.58 338.89 L293.74 339.52 L291.91 340.16 L290.07 340.78 L288.24 341.39 L286.4 341.99 L284.56 342.58 L282.73 343.16 L280.89 343.72 L279.05 344.27 L277.22 344.81 L275.38 345.34 L273.54 345.85 L271.71 346.35 L269.87 346.84 L268.04 347.32 L266.2 347.78 L264.36 348.23 L262.53 348.67 L260.69 349.1 L258.85 349.51 L257.02 349.91 L255.18 350.3 L253.34 350.68 L251.51 351.04 L249.67 351.39 L247.84 351.73 L246 352.06 L244.16 352.38 L242.33 352.68 L240.49 352.97 L238.65 353.24 L236.82 353.51 L234.98 353.76 L233.15 354 L231.31 354.23 L229.47 354.44 L227.64 354.65 L225.8 354.84 L223.96 355.02 L222.13 355.18 L220.29 355.33 L218.45 355.47 L216.62 355.6 L214.78 355.72 L212.95 355.82 L211.11 355.91 L209.27 355.99 L207.44 356.06 L205.6 356.11 L203.76 356.15 L201.93 356.18 L200.09 356.2 L198.25 356.2 L196.42 356.2 L194.58 356.2 L192.75 356.2 L190.91 356.2 L189.07 356.2 L187.24 356.2 L185.4 356.2 L183.56 356.2 L181.73 356.2 L179.89 356.2 L178.06 356.2 L176.22 356.2 L174.38 356.2 L172.55 356.2 L170.71 356.2 L168.87 356.2 L167.04 356.2 L165.2 356.2 L163.36 356.2 L161.53 356.2 L159.69 356.2 L157.86 356.2 L156.02 356.2 L154.18 356.2 L152.35 356.2 L150.51 356.2 L148.67 356.2 L146.84 356.2 L145 356.2 L143.16 356.2 L141.33 356.2 L139.49 356.2 L137.66 356.2 L135.82 356.2 L133.98 356.2 L132.15 356.2 L130.31 356.2 L128.47 356.2 L126.64 356.2Z" stroke="#2C8093"/>
<path d="M126.64 354.55 L128.47 354.55 L130.31 354.55 L132.15 354.55 L133.98 354.55 L135.82 354.55 L137.66 354.55 L139.49 354.55 L141.33 354.55 L143.16 354.55 L145 354.55 L146.84 354.55 L148.67 354.55 L150.51 354.55 L152.35 354.55 L154.18 354.55 L156.02 354.55 L157.86 354.55 L159.69 354.55 L161.53 354.55 L163.36 354.55 L165.2 354.55 L167.04 354.55 L168.87 354.55 L170.71 354.55 L172.55 354.55 L174.38 354.55 L176.22 354.55 L178.06 354.55 L179.89 354.55 L181.73 354.55 L183.56 354.55 L185.4 354.55 L187.24 354.55 L189.07 354.55 L190.91 354.55 L192.75 354.55 L194.58 354.55 L196.42 354.55 L198.25 354.55 L200.09 354.55 L201.93 354.53 L203.76 354.5 L205.6 354.46 L207.44 354.41 L209.27 354.34 L211.11 354.26 L212.95 354.17 L214.78 354.07 L216.62 353.95 L218.45 353.82 L220.29 353.68 L222.13 353.53 L223.96 353.37 L225.8 353.19 L227.64 353 L229.47 352.79 L231.31 352.58 L233.15 352.35 L234.98 352.11 L236.82 351.86 L238.65 351.59 L240.49 351.32 L242.33 351.03 L244.16 350.73 L246 350.41 L247.84 350.08 L249.67 349.74 L251.51 349.39 L253.34 349.03 L255.18 348.65 L257.02 348.26 L258.85 347.86 L260.69 347.45 L262.53 347.02 L264.36 346.58 L266.2 346.13 L268.04 345.67 L269.87 345.19 L271.71 344.7 L273.54 344.2 L275.38 343.69 L277.22 343.16 L279.05 342.62 L280.89 342.07 L282.73 341.51 L284.56 340.93 L286.4 340.34 L288.24 339.74 L290.07 339.13 L291.91 338.51 L293.74 337.87 L295.58 337.24 L297.42 336.6 L299.25 335.97 L301.09 335.33 L302.93 334.7 L304.76 334.07 L306.6 333.43 L308.44 332.8 L310.27 332.16 L312.11 331.53 L313.94 330.89 L315.78 330.26 L317.62 329.63 L319.45 328.99 L321.29 328.36 L323.13 327.72 L324.96 327.09 L326.8 326.45 L328.63 325.82 L330.47 325.19 L332.31 324.55 L334.14 323.92 L335.98 323.28 L337.82 322.65 L339.65 322.01 L341.49 321.38 L343.33 320.75 L345.16 320.11 L347 319.48 L348.83 318.84 L350.67 318.21 L352.51 317.57 L354.34 316.94 L356.18 316.31 L358.02 315.67 L359.85 315.04 L361.69 314.4 L363.53 313.77 L365.36 313.13 L367.2 312.5 L369.03 311.87 L370.87 311.23 L372.71 310.6 L374.54 309.96 L376.38 309.33 L378.22 308.69 L378.22 292.19 L376.38 292.83 L374.54 293.46 L372.71 294.1 L370.87 294.73 L369.03 295.37 L367.2 296 L365.36 296.63 L363.53 297.27 L361.69 297.9 L359.85 298.54 L358.02 299.17 L356.18 299.81 L354.34 300.44 L352.51 301.07 L350.67 301.71 L348.83 302.34 L347 302.98 L345.16 303.61 L343.33 304.25 L341.49 304.88 L339.65 305.51 L337.82 306.15 L335.98 306.78 L334.14 307.42 L332.31 308.05 L330.47 308.69 L328.63 309.32 L326.8 309.95 L324.96 310.59 L323.13 311.22 L321.29 311.86 L319.45 312.49 L317.62 313.13 L315.78 313.76 L313.94 314.39 L312.11 315.03 L310.27 315.66 L308.44 316.3 L306.6 316.93 L304.76 317.57 L302.93 318.2 L301.09 318.83 L299.25 319.47 L297.42 320.1 L295.58 320.74 L293.74 321.37 L291.91 322.01 L290.07 322.63 L288.24 323.24 L286.4 323.84 L284.56 324.43 L282.73 325.01 L280.89 325.57 L279.05 326.12 L277.22 326.66 L275.38 327.19 L273.54 327.7 L271.71 328.2 L269.87 328.69 L268.04 329.17 L266.2 329.63 L264.36 330.08 L262.53 330.52 L260.69 330.95 L258.85 331.36 L257.02 331.76 L255.18 332.15 L253.34 332.53 L251.51 332.89 L249.67 333.24 L247.84 333.58 L246 333.91 L244.16 334.23 L242.33 334.53 L240.49 334.82 L238.65 335.09 L236.82 335.36 L234.98 335.61 L233.15 335.85 L231.31 336.08 L229.47 336.29 L227.64 336.5 L225.8 336.69 L223.96 336.87 L222.13 337.03 L220.29 337.18 L218.45 337.32 L216.62 337.45 L214.78 337.57 L212.95 337.67 L211.11 337.76 L209.27 337.84 L207.44 337.91 L205.6 337.96 L203.76 338 L201.93 338.03 L200.09 338.05 L198.25 338.05 L196.42 338.05 L194.58 338.05 L192.75 338.05 L190.91 338.05 L189.07 338.05 L187.24 338.05 L185.4 338.05 L183.56 338.05 L181.73 338.05 L179.89 338.05 L178.06 338.05 L176.22 338.05 L174.38 338.05 L172.55 338.05 L170.71 338.05 L168.87 338.05 L167.04 338.05 L165.2 338.05 L163.36 338.05 L161.53 338.05 L159.69 338.05 L157.86 338.05 L156.02 338.05 L154.18 338.05 L152.35 338.05 L150.51 338.05 L148.67 338.05 L146.84 338.05 L145 338.05 L143.16 338.05 L141.33 338.05 L139.49 338.05 L137.66 338.05 L135.82 338.05 L133.98 338.05 L132.15 338.05 L130.31 338.05 L128.47 338.05 L126.64 338.05Z" stroke="#CB7830"/>
<path d="M126.64 336.4 L128.47 336.4 L130.31 336.4 L132.15 336.4 L133.98 336.4 L135.82 336.4 L137.66 336.4 L139.49 336.4 L141.33 336.4 L143.16 336.4 L145 336.4 L146.84 336.4 L148.67 336.4 L150.51 336.4 L152.35 336.4 L154.18 336.4 L156.02 336.4 L157.86 336.4 L159.69 336.4 L161.53 336.4 L163.36 336.4 L165.2 336.4 L167.04 336.4 L168.87 336.4 L170.71 336.4 L172.55 336.4 L174.38 336.4 L176.22 336.4 L178.06 336.4 L179.89 336.4 L181.73 336.4 L183.56 336.4 L185.4 336.4 L187.24 336.4 L189.07 336.4 L190.91 336.4 L192.75 336.4 L194.58 336.4 L196.42 336.4 L198.25 336.4 L200.09 336.4 L201.93 336.38 L203.76 336.35 L205.6 336.31 L207.44 336.26 L209.27 336.19 L211.11 336.11 L212.95 336.02 L214.78 335.92 L216.62 335.8 L218.45 335.67 L220.29 335.53 L222.13 335.38 L223.96 335.22 L225.8 335.04 L227.64 334.85 L229.47 334.64 L231.31 334.43 L233.15 334.2 L234.98 333.96 L236.82 333.71 L238.65 333.44 L240.49 333.17 L242.33 332.88 L244.16 332.58 L246 332.26 L247.84 331.93 L249.67 331.59 L251.51 331.24 L253.34 330.88 L255.18 330.5 L257.02 330.11 L258.85 329.71 L260.69 329.3 L262.53 328.87 L264.36 328.43 L266.2 327.98 L268.04 327.52 L269.87 327.04 L271.71 326.55 L273.54 326.05 L275.38 325.54 L277.22 325.01 L279.05 324.47 L280.89 323.92 L282.73 323.36 L284.56 322.78 L286.4 322.19 L288.24 321.59 L290.07 320.98 L291.91 320.36 L293.74 319.72 L295.58 319.09 L297.42 318.45 L299.25 317.82 L301.09 317.18 L302.93 316.55 L304.76 315.92 L306.6 315.28 L308.44 314.65 L310.27 314.01 L312.11 313.38 L313.94 312.74 L315.78 312.11 L317.62 311.48 L319.45 310.84 L321.29 310.21 L323.13 309.57 L324.96 308.94 L326.8 308.3 L328.63 307.67 L330.47 307.04 L332.31 306.4 L334.14 305.77 L335.98 305.13 L337.82 304.5 L339.65 303.86 L341.49 303.23 L343.33 302.6 L345.16 301.96 L347 301.33 L348.83 300.69 L350.67 300.06 L352.51 299.42 L354.34 298.79 L356.18 298.16 L358.02 297.52 L359.85 296.89 L361.69 296.25 L363.53 295.62 L365.36 294.98 L367.2 294.35 L369.03 293.72 L370.87 293.08 L372.71 292.45 L374.54 291.81 L376.38 291.18 L378.22 290.54 L378.22 274.04 L376.38 274.68 L374.54 275.31 L372.71 275.95 L370.87 276.58 L369.03 277.22 L367.2 277.85 L365.36 278.48 L363.53 279.12 L361.69 279.75 L359.85 280.39 L358.02 281.02 L356.18 281.66 L354.34 282.29 L352.51 282.92 L350.67 283.56 L348.83 284.19 L347 284.83 L345.16 285.46 L343.33 286.1 L341.49 286.73 L339.65 287.36 L337.82 288 L335.98 288.63 L334.14 289.27 L332.31 289.9 L330.47 290.54 L328.63 291.17 L326.8 291.8 L324.96 292.44 L323.13 293.07 L321.29 293.71 L319.45 294.34 L317.62 294.98 L315.78 295.61 L313.94 296.24 L312.11 296.88 L310.27 297.51 L308.44 298.15 L306.6 298.78 L304.76 299.42 L302.93 300.05 L301.09 300.68 L299.25 301.32 L297.42 301.95 L295.58 302.59 L293.74 303.22 L291.91 303.86 L290.07 304.48 L288.24 305.09 L286.4 305.69 L284.56 306.28 L282.73 306.86 L280.89 307.42 L279.05 307.97 L277.22 308.51 L275.38 309.04 L273.54 309.55 L271.71 310.05 L269.87 310.54 L268.04 311.02 L266.2 311.48 L264.36 311.93 L262.53 312.37 L260.69 312.8 L258.85 313.21 L257.02 313.61 L255.18 314 L253.34 314.38 L251.51 314.74 L249.67 315.09 L247.84 315.43 L246 315.76 L244.16 316.08 L242.33 316.38 L240.49 316.67 L238.65 316.94 L236.82 317.21 L234.98 317.46 L233.15 317.7 L231.31 317.93 L229.47 318.14 L227.64 318.35 L225.8 318.54 L223.96 318.72 L222.13 318.88 L220.29 319.03 L218.45 319.17 L216.62 319.3 L214.78 319.42 L212.95 319.52 L211.11 319.61 L209.27 319.69 L207.44 319.76 L205.6 319.81 L203.76 319.85 L201.93 319.88 L200.09 319.9 L198.25 319.9 L196.42 319.9 L194.58 319.9 L192.75 319.9 L190.91 319.9 L189.07 319.9 L187.24 319.9 L185.4 319.9 L183.56 319.9 L181.73 319.9 L179.89 319.9 L178.06 319.9 L176.22 319.9 L174.38 319.9 L172.55 319.9 L170.71 319.9 L168.87 319.9 L167.04 319.9 L165.2 319.9 L163.36 319.9 L161.53 319.9 L159.69 319.9 L157.86 319.9 L156.02 319.9 L154.18 319.9 L152.35 319.9 L150.51 319.9 L148.67 319.9 L146.84 319.9 L145 319.9 L143.16 319.9 L141.33 319.9 L139.49 319.9 L137.66 319.9 L135.82 319.9 L133.98 319.9 L132.15 319.9 L130.31 319.9 L128.47 319.9 L126.64 319.9Z" stroke="#33609D"/>
<path d="M126.64 317.1 H198.8 V284.7 H126.64 Z" stroke="#9D3735"/>
<path d="M126.64 282.5 H315.61 V90 H126.64 Z" stroke="#7A9E3E"/>
</g>
<path d="M109.5 107.4 H429.4 V445.5" fill="none" stroke="#233248" stroke-width="1.4"/>
<text x="91.7" y="451.4" font-family='"Liberation Sans", sans-serif' font-size="19" text-anchor="end" fill="#1a1a1a">0.00</text>
<text x="91.7" y="409.14" font-family='"Liberation Sans", sans-serif' font-size="19" text-anchor="end" fill="#1a1a1a">0.02</text>
<text x="91.7" y="366.88" font-family='"Liberation Sans", sans-serif' font-size="19" text-anchor="end" fill="#1a1a1a">0.04</text>
<text x="91.7" y="324.61" font-family='"Liberation Sans", sans-serif' font-size="19" text-anchor="end" fill="#1a1a1a">0.06</text>
<text x="91.7" y="282.35" font-family='"Liberation Sans", sans-serif' font-size="19" text-anchor="end" fill="#1a1a1a">0.08</text>
<text x="91.7" y="240.09" font-family='"Liberation Sans", sans-serif' font-size="19" text-anchor="end" fill="#1a1a1a">0.10</text>
<text x="91.7" y="197.83" font-family='"Liberation Sans", sans-serif' font-size="19" text-anchor="end" fill="#1a1a1a">0.12</text>
<text x="91.7" y="155.57" font-family='"Liberation Sans", sans-serif' font-size="19" text-anchor="end" fill="#1a1a1a">0.14</text>
<text x="91.7" y="113.3" font-family='"Liberation Sans", sans-serif' font-size="19" text-anchor="end" fill="#1a1a1a">0.16</text>
<text x="110.5" y="478" font-family='"Liberation Sans", sans-serif' font-size="19" text-anchor="middle" fill="#1a1a1a">0.2</text>
<text x="201.9" y="478" font-family='"Liberation Sans", sans-serif' font-size="19" text-anchor="middle" fill="#1a1a1a">0.4</text>
<text x="293.3" y="478" font-family='"Liberation Sans", sans-serif' font-size="19" text-anchor="middle" fill="#1a1a1a">0.6</text>
<text x="384.7" y="478" font-family='"Liberation Sans", sans-serif' font-size="19" text-anchor="middle" fill="#1a1a1a">0.8</text>
<text x="225.8" y="501.2" font-family='"Liberation Sans", sans-serif' font-size="19.4" font-weight="bold" fill="#111" textLength="102.2" lengthAdjust="spacingAndGlyphs">Radius [in]</text>
<text transform="translate(41.4,343.8) rotate(-90)" font-family='"Liberation Sans", sans-serif' font-size="19.4" font-weight="bold" fill="#111" textLength="120.3" lengthAdjust="spacingAndGlyphs">Shim Lift [in]</text>
</g>
<text x="623.6" y="142.6" font-family='"Liberation Sans", sans-serif' font-size="22" fill="#000" stroke="#000" stroke-width="0.35" textLength="143" lengthAdjust="spacingAndGlyphs">Straight stack</text>
<path id="lg79" d="M867.2 192.33 A23 23 0 1 1 867.6 192.37" fill="none"/><text font-family="'Liberation Serif', serif" font-size="14" fill="#8c8c8c" font-weight="bold"><textPath href="#lg79" textLength="135.68" lengthAdjust="spacingAndGlyphs">www.ShimReStacker.com</textPath></text><text x="871.5" y="182.1" font-family='"Liberation Sans", sans-serif' font-size="35" font-weight="bold" text-anchor="middle" textLength="31" lengthAdjust="spacingAndGlyphs"><tspan fill="#a8a8a8">S</tspan><tspan fill="#8a8a8a">R</tspan></text>
<rect x="973" y="87" width="461" height="424" fill="none" stroke="#707070" stroke-width="2"/>
<g transform="translate(965,0)">
<path d="M109.5 107.4 V445.5 H429.4" fill="none" stroke="#868686" stroke-width="1.1"/>
<path d="M102.5 445.5H109.5M105.5 424.37H109.5M102.5 403.24H109.5M105.5 382.11H109.5M102.5 360.98H109.5M105.5 339.85H109.5M102.5 318.71H109.5M105.5 297.58H109.5M102.5 276.45H109.5M105.5 255.32H109.5M102.5 234.19H109.5M105.5 213.06H109.5M102.5 191.93H109.5M105.5 170.8H109.5M102.5 149.67H109.5M105.5 128.54H109.5M102.5 107.4H109.5M109.5 445.5V453.5M155.2 445.5V450.5M200.9 445.5V453.5M246.6 445.5V450.5M292.3 445.5V453.5M338 445.5V450.5M383.7 445.5V453.5M429.4 445.5V450.5" fill="none" stroke="#868686" stroke-width="1.1"/>
<clipPath id="cp84"><rect x="109.5" y="107.4" width="319.9" height="341.1"/></clipPath>
<g clip-path="url(#cp84)" fill="none" stroke-width="2.6" stroke-linejoin="miter">
<path d="M126.64 445.7 L128.47 445.7 L130.3 445.7 L132.13 445.7 L133.97 445.7 L135.8 445.7 L137.63 445.7 L139.46 445.7 L141.29 445.7 L143.13 445.7 L144.96 445.7 L146.79 445.7 L148.62 445.7 L150.45 445.7 L152.29 445.7 L154.12 445.7 L155.95 445.7 L157.78 445.7 L159.61 445.7 L161.45 445.7 L163.28 445.7 L165.11 445.7 L166.94 445.7 L168.77 445.7 L170.61 445.7 L172.44 445.7 L174.27 445.7 L176.1 445.7 L177.93 445.7 L179.77 445.7 L181.6 445.7 L183.43 445.7 L185.26 445.7 L187.09 445.7 L188.93 445.7 L190.76 445.7 L192.59 445.7 L194.42 445.7 L196.25 445.7 L198.09 445.7 L199.92 445.7 L201.75 445.69 L203.58 445.67 L205.41 445.64 L207.25 445.6 L209.08 445.56 L210.91 445.51 L212.74 445.44 L214.57 445.37 L216.41 445.29 L218.24 445.2 L220.07 445.1 L221.9 445 L223.73 444.88 L225.57 444.76 L227.4 444.62 L229.23 444.48 L231.06 444.33 L232.89 444.16 L234.73 443.99 L236.56 443.81 L238.39 443.62 L240.22 443.42 L242.05 443.21 L243.89 442.99 L245.72 442.76 L247.55 442.53 L249.38 442.28 L251.21 442.02 L253.05 441.75 L254.88 441.47 L256.71 441.18 L258.54 440.88 L260.37 440.57 L262.21 440.24 L264.04 439.91 L265.87 439.57 L267.7 439.21 L269.53 438.84 L271.37 438.47 L273.2 438.08 L275.03 437.68 L276.86 437.26 L278.69 436.84 L280.53 436.4 L282.36 435.95 L284.19 435.49 L286.02 435.01 L287.85 434.52 L289.69 434.02 L291.52 433.51 L293.35 432.98 L295.18 432.44 L297.01 431.89 L298.85 431.32 L300.68 430.74 L302.51 430.14 L304.34 429.53 L306.17 428.9 L308.01 428.26 L309.84 427.61 L311.67 426.93 L313.5 426.25 L315.33 425.55 L317.17 424.83 L319 424.09 L320.83 423.34 L322.66 422.58 L324.49 421.79 L326.33 420.99 L328.16 420.17 L329.99 419.33 L331.82 418.48 L333.65 417.61 L335.49 416.72 L337.32 415.81 L339.15 414.88 L340.98 413.94 L342.81 412.97 L344.65 411.98 L346.48 410.98 L348.31 409.95 L350.14 408.91 L351.97 407.84 L353.81 406.75 L355.64 405.64 L357.47 404.51 L359.3 403.36 L361.13 402.18 L362.97 400.98 L364.8 399.76 L366.63 398.52 L368.46 397.25 L370.29 395.96 L372.13 394.65 L373.96 393.31 L375.79 391.95 L377.62 390.56 L377.62 383.41 L375.79 384.8 L373.96 386.16 L372.13 387.5 L370.29 388.81 L368.46 390.1 L366.63 391.37 L364.8 392.61 L362.97 393.83 L361.13 395.03 L359.3 396.21 L357.47 397.36 L355.64 398.49 L353.81 399.6 L351.97 400.69 L350.14 401.76 L348.31 402.8 L346.48 403.83 L344.65 404.83 L342.81 405.82 L340.98 406.79 L339.15 407.73 L337.32 408.66 L335.49 409.57 L333.65 410.46 L331.82 411.33 L329.99 412.18 L328.16 413.02 L326.33 413.84 L324.49 414.64 L322.66 415.43 L320.83 416.19 L319 416.94 L317.17 417.68 L315.33 418.4 L313.5 419.1 L311.67 419.78 L309.84 420.46 L308.01 421.11 L306.17 421.75 L304.34 422.38 L302.51 422.99 L300.68 423.59 L298.85 424.17 L297.01 424.74 L295.18 425.29 L293.35 425.83 L291.52 426.36 L289.69 426.87 L287.85 427.37 L286.02 427.86 L284.19 428.34 L282.36 428.8 L280.53 429.25 L278.69 429.69 L276.86 430.11 L275.03 430.53 L273.2 430.93 L271.37 431.32 L269.53 431.69 L267.7 432.06 L265.87 432.42 L264.04 432.76 L262.21 433.09 L260.37 433.42 L258.54 433.73 L256.71 434.03 L254.88 434.32 L253.05 434.6 L251.21 434.87 L249.38 435.13 L247.55 435.38 L245.72 435.61 L243.89 435.84 L242.05 436.06 L240.22 436.27 L238.39 436.47 L236.56 436.66 L234.73 436.84 L232.89 437.01 L231.06 437.18 L229.23 437.33 L227.4 437.47 L225.57 437.61 L223.73 437.73 L221.9 437.85 L220.07 437.95 L218.24 438.05 L216.41 438.14 L214.57 438.22 L212.74 438.29 L210.91 438.36 L209.08 438.41 L207.25 438.45 L205.41 438.49 L203.58 438.52 L201.75 438.54 L199.92 438.55 L198.09 438.55 L196.25 438.55 L194.42 438.55 L192.59 438.55 L190.76 438.55 L188.93 438.55 L187.09 438.55 L185.26 438.55 L183.43 438.55 L181.6 438.55 L179.77 438.55 L177.93 438.55 L176.1 438.55 L174.27 438.55 L172.44 438.55 L170.61 438.55 L168.77 438.55 L166.94 438.55 L165.11 438.55 L163.28 438.55 L161.45 438.55 L159.61 438.55 L157.78 438.55 L155.95 438.55 L154.12 438.55 L152.29 438.55 L150.45 438.55 L148.62 438.55 L146.79 438.55 L144.96 438.55 L143.13 438.55 L141.29 438.55 L139.46 438.55 L137.63 438.55 L135.8 438.55 L133.97 438.55 L132.13 438.55 L130.3 438.55 L128.47 438.55 L126.64 438.55Z" stroke="#33609D"/>
<path d="M126.64 436.85 L128.47 436.85 L130.3 436.85 L132.13 436.85 L133.97 436.85 L135.8 436.85 L137.63 436.85 L139.46 436.85 L141.29 436.85 L143.13 436.85 L144.96 436.85 L146.79 436.85 L148.62 436.85 L150.45 436.85 L152.29 436.85 L154.12 436.85 L155.95 436.85 L157.78 436.85 L159.61 436.85 L161.45 436.85 L163.28 436.85 L165.11 436.85 L166.94 436.85 L168.77 436.85 L170.61 436.85 L172.44 436.85 L174.27 436.85 L176.1 436.85 L177.93 436.85 L179.77 436.85 L181.6 436.85 L183.43 436.85 L185.26 436.85 L187.09 436.85 L188.93 436.85 L190.76 436.85 L192.59 436.85 L194.42 436.85 L196.25 436.85 L198.09 436.85 L199.92 436.85 L201.75 436.84 L203.58 436.82 L205.41 436.79 L207.25 436.75 L209.08 436.71 L210.91 436.66 L212.74 436.59 L214.57 436.52 L216.41 436.44 L218.24 436.35 L220.07 436.25 L221.9 436.15 L223.73 436.03 L225.57 435.91 L227.4 435.77 L229.23 435.63 L231.06 435.48 L232.89 435.31 L234.73 435.14 L236.56 434.96 L238.39 434.77 L240.22 434.57 L242.05 434.36 L243.89 434.14 L245.72 433.91 L247.55 433.68 L249.38 433.43 L251.21 433.17 L253.05 432.9 L254.88 432.62 L256.71 432.33 L258.54 432.03 L260.37 431.72 L262.21 431.39 L264.04 431.06 L265.87 430.72 L267.7 430.36 L269.53 429.99 L271.37 429.62 L273.2 429.23 L275.03 428.83 L276.86 428.41 L278.69 427.99 L280.53 427.55 L282.36 427.1 L284.19 426.64 L286.02 426.16 L287.85 425.67 L289.69 425.17 L291.52 424.66 L293.35 424.13 L295.18 423.59 L297.01 423.04 L298.85 422.47 L300.68 421.89 L302.51 421.29 L304.34 420.68 L306.17 420.05 L308.01 419.41 L309.84 418.76 L311.67 418.08 L313.5 417.4 L315.33 416.7 L317.17 415.98 L319 415.24 L320.83 414.49 L322.66 413.73 L324.49 412.94 L326.33 412.14 L328.16 411.32 L329.99 410.48 L331.82 409.63 L333.65 408.76 L335.49 407.87 L337.32 406.96 L339.15 406.03 L340.98 405.09 L342.81 404.12 L344.65 403.13 L346.48 402.13 L348.31 401.1 L350.14 400.06 L351.97 398.99 L353.81 397.9 L355.64 396.79 L357.47 395.66 L359.3 394.51 L361.13 393.33 L362.97 392.13 L364.8 390.91 L366.63 389.67 L368.46 388.4 L370.29 387.11 L372.13 385.8 L373.96 384.46 L375.79 383.1 L377.62 381.71 L377.62 374.56 L375.79 375.95 L373.96 377.31 L372.13 378.65 L370.29 379.96 L368.46 381.25 L366.63 382.52 L364.8 383.76 L362.97 384.98 L361.13 386.18 L359.3 387.36 L357.47 388.51 L355.64 389.64 L353.81 390.75 L351.97 391.84 L350.14 392.91 L348.31 393.95 L346.48 394.98 L344.65 395.98 L342.81 396.97 L340.98 397.94 L339.15 398.88 L337.32 399.81 L335.49 400.72 L333.65 401.61 L331.82 402.48 L329.99 403.33 L328.16 404.17 L326.33 404.99 L324.49 405.79 L322.66 406.58 L320.83 407.34 L319 408.09 L317.17 408.83 L315.33 409.55 L313.5 410.25 L311.67 410.93 L309.84 411.61 L308.01 412.26 L306.17 412.9 L304.34 413.53 L302.51 414.14 L300.68 414.74 L298.85 415.32 L297.01 415.89 L295.18 416.44 L293.35 416.98 L291.52 417.51 L289.69 418.02 L287.85 418.52 L286.02 419.01 L284.19 419.49 L282.36 419.95 L280.53 420.4 L278.69 420.84 L276.86 421.26 L275.03 421.68 L273.2 422.08 L271.37 422.47 L269.53 422.84 L267.7 423.21 L265.87 423.57 L264.04 423.91 L262.21 424.24 L260.37 424.57 L258.54 424.88 L256.71 425.18 L254.88 425.47 L253.05 425.75 L251.21 426.02 L249.38 426.28 L247.55 426.53 L245.72 426.76 L243.89 426.99 L242.05 427.21 L240.22 427.42 L238.39 427.62 L236.56 427.81 L234.73 427.99 L232.89 428.16 L231.06 428.33 L229.23 428.48 L227.4 428.62 L225.57 428.76 L223.73 428.88 L221.9 429 L220.07 429.1 L218.24 429.2 L216.41 429.29 L214.57 429.37 L212.74 429.44 L210.91 429.51 L209.08 429.56 L207.25 429.6 L205.41 429.64 L203.58 429.67 L201.75 429.69 L199.92 429.7 L198.09 429.7 L196.25 429.7 L194.42 429.7 L192.59 429.7 L190.76 429.7 L188.93 429.7 L187.09 429.7 L185.26 429.7 L183.43 429.7 L181.6 429.7 L179.77 429.7 L177.93 429.7 L176.1 429.7 L174.27 429.7 L172.44 429.7 L170.61 429.7 L168.77 429.7 L166.94 429.7 L165.11 429.7 L163.28 429.7 L161.45 429.7 L159.61 429.7 L157.78 429.7 L155.95 429.7 L154.12 429.7 L152.29 429.7 L150.45 429.7 L148.62 429.7 L146.79 429.7 L144.96 429.7 L143.13 429.7 L141.29 429.7 L139.46 429.7 L137.63 429.7 L135.8 429.7 L133.97 429.7 L132.13 429.7 L130.3 429.7 L128.47 429.7 L126.64 429.7Z" stroke="#9D3735"/>
<path d="M126.64 428 L128.47 428 L130.3 428 L132.13 428 L133.97 428 L135.8 428 L137.63 428 L139.46 428 L141.29 428 L143.13 428 L144.96 428 L146.79 428 L148.62 428 L150.45 428 L152.29 428 L154.12 428 L155.95 428 L157.78 428 L159.61 428 L161.45 428 L163.28 428 L165.11 428 L166.94 428 L168.77 428 L170.61 428 L172.44 428 L174.27 428 L176.1 428 L177.93 428 L179.77 428 L181.6 428 L183.43 428 L185.26 428 L187.09 428 L188.93 428 L190.76 428 L192.59 428 L194.42 428 L196.25 428 L198.09 428 L199.92 428 L201.75 427.99 L203.58 427.97 L205.41 427.94 L207.25 427.9 L209.08 427.86 L210.91 427.81 L212.74 427.74 L214.57 427.67 L216.41 427.59 L218.24 427.5 L220.07 427.4 L221.9 427.3 L223.73 427.18 L225.57 427.06 L227.4 426.92 L229.23 426.78 L231.06 426.63 L232.89 426.46 L234.73 426.29 L236.56 426.11 L238.39 425.92 L240.22 425.72 L242.05 425.51 L243.89 425.29 L245.72 425.06 L247.55 424.83 L249.38 424.58 L251.21 424.32 L253.05 424.05 L254.88 423.77 L256.71 423.48 L258.54 423.18 L260.37 422.87 L262.21 422.54 L264.04 422.21 L265.87 421.87 L267.7 421.51 L269.53 421.14 L271.37 420.77 L273.2 420.38 L275.03 419.98 L276.86 419.56 L278.69 419.14 L280.53 418.7 L282.36 418.25 L284.19 417.79 L286.02 417.31 L287.85 416.82 L289.69 416.32 L291.52 415.81 L293.35 415.28 L295.18 414.74 L297.01 414.19 L298.85 413.62 L300.68 413.04 L302.51 412.44 L304.34 411.83 L306.17 411.2 L308.01 410.56 L309.84 409.91 L311.67 409.23 L313.5 408.55 L315.33 407.85 L317.17 407.13 L319 406.39 L320.83 405.64 L322.66 404.88 L324.49 404.09 L326.33 403.29 L328.16 402.47 L329.99 401.63 L331.82 400.78 L333.65 399.91 L335.49 399.02 L337.32 398.11 L339.15 397.18 L340.98 396.24 L342.81 395.27 L344.65 394.28 L346.48 393.28 L348.31 392.25 L350.14 391.21 L351.97 390.14 L353.81 389.05 L355.64 387.94 L357.47 386.81 L359.3 385.66 L361.13 384.48 L362.97 383.28 L364.8 382.06 L366.63 380.82 L368.46 379.55 L370.29 378.26 L372.13 376.95 L373.96 375.61 L375.79 374.25 L377.62 372.86 L377.62 365.71 L375.79 367.1 L373.96 368.46 L372.13 369.8 L370.29 371.11 L368.46 372.4 L366.63 373.67 L364.8 374.91 L362.97 376.13 L361.13 377.33 L359.3 378.51 L357.47 379.66 L355.64 380.79 L353.81 381.9 L351.97 382.99 L350.14 384.06 L348.31 385.1 L346.48 386.13 L344.65 387.13 L342.81 388.12 L340.98 389.09 L339.15 390.03 L337.32 390.96 L335.49 391.87 L333.65 392.76 L331.82 393.63 L329.99 394.48 L328.16 395.32 L326.33 396.14 L324.49 396.94 L322.66 397.73 L320.83 398.49 L319 399.24 L317.17 399.98 L315.33 400.7 L313.5 401.4 L311.67 402.08 L309.84 402.76 L308.01 403.41 L306.17 404.05 L304.34 404.68 L302.51 405.29 L300.68 405.89 L298.85 406.47 L297.01 407.04 L295.18 407.59 L293.35 408.13 L291.52 408.66 L289.69 409.17 L287.85 409.67 L286.02 410.16 L284.19 410.64 L282.36 411.1 L280.53 411.55 L278.69 411.99 L276.86 412.41 L275.03 412.83 L273.2 413.23 L271.37 413.62 L269.53 413.99 L267.7 414.36 L265.87 414.72 L264.04 415.06 L262.21 415.39 L260.37 415.72 L258.54 416.03 L256.71 416.33 L254.88 416.62 L253.05 416.9 L251.21 417.17 L249.38 417.43 L247.55 417.68 L245.72 417.91 L243.89 418.14 L242.05 418.36 L240.22 418.57 L238.39 418.77 L236.56 418.96 L234.73 419.14 L232.89 419.31 L231.06 419.48 L229.23 419.63 L227.4 419.77 L225.57 419.91 L223.73 420.03 L221.9 420.15 L220.07 420.25 L218.24 420.35 L216.41 420.44 L214.57 420.52 L212.74 420.59 L210.91 420.66 L209.08 420.71 L207.25 420.75 L205.41 420.79 L203.58 420.82 L201.75 420.84 L199.92 420.85 L198.09 420.85 L196.25 420.85 L194.42 420.85 L192.59 420.85 L190.76 420.85 L188.93 420.85 L187.09 420.85 L185.26 420.85 L183.43 420.85 L181.6 420.85 L179.77 420.85 L177.93 420.85 L176.1 420.85 L174.27 420.85 L172.44 420.85 L170.61 420.85 L168.77 420.85 L166.94 420.85 L165.11 420.85 L163.28 420.85 L161.45 420.85 L159.61 420.85 L157.78 420.85 L155.95 420.85 L154.12 420.85 L152.29 420.85 L150.45 420.85 L148.62 420.85 L146.79 420.85 L144.96 420.85 L143.13 420.85 L141.29 420.85 L139.46 420.85 L137.63 420.85 L135.8 420.85 L133.97 420.85 L132.13 420.85 L130.3 420.85 L128.47 420.85 L126.64 420.85Z" stroke="#7A9E3E"/>
<path d="M126.64 419.15 L128.47 419.15 L130.3 419.15 L132.13 419.15 L133.97 419.15 L135.8 419.15 L137.63 419.15 L139.46 419.15 L141.29 419.15 L143.13 419.15 L144.96 419.15 L146.79 419.15 L148.62 419.15 L150.45 419.15 L152.29 419.15 L154.12 419.15 L155.95 419.15 L157.78 419.15 L159.61 419.15 L161.45 419.15 L163.28 419.15 L165.11 419.15 L166.94 419.15 L168.77 419.15 L170.61 419.15 L172.44 419.15 L174.27 419.15 L176.1 419.15 L177.93 419.15 L179.77 419.15 L181.6 419.15 L183.43 419.15 L185.26 419.15 L187.09 419.15 L188.93 419.15 L190.76 419.15 L192.59 419.15 L194.42 419.15 L196.25 419.15 L198.09 419.15 L199.92 419.15 L201.75 419.14 L203.58 419.12 L205.41 419.09 L207.25 419.05 L209.08 419.01 L210.91 418.96 L212.74 418.89 L214.57 418.82 L216.41 418.74 L218.24 418.65 L220.07 418.55 L221.9 418.45 L223.73 418.33 L225.57 418.21 L227.4 418.07 L229.23 417.93 L231.06 417.78 L232.89 417.61 L234.73 417.44 L236.56 417.26 L238.39 417.07 L240.22 416.87 L242.05 416.66 L243.89 416.44 L245.72 416.21 L247.55 415.98 L249.38 415.73 L251.21 415.47 L253.05 415.2 L254.88 414.92 L256.71 414.63 L258.54 414.33 L260.37 414.02 L262.21 413.69 L264.04 413.36 L265.87 413.02 L267.7 412.66 L269.53 412.29 L271.37 411.92 L273.2 411.53 L275.03 411.13 L276.86 410.71 L278.69 410.29 L280.53 409.85 L282.36 409.4 L284.19 408.94 L286.02 408.46 L287.85 407.97 L289.69 407.47 L291.52 406.96 L293.35 406.43 L295.18 405.89 L297.01 405.34 L298.85 404.77 L300.68 404.19 L302.51 403.59 L304.34 402.98 L306.17 402.35 L308.01 401.71 L309.84 401.06 L311.67 400.38 L313.5 399.7 L315.33 399 L317.17 398.28 L319 397.54 L320.83 396.79 L322.66 396.03 L324.49 395.24 L326.33 394.44 L328.16 393.62 L329.99 392.78 L331.82 391.93 L333.65 391.06 L335.49 390.17 L337.32 389.26 L339.15 388.33 L340.98 387.39 L342.81 386.42 L344.65 385.43 L346.48 384.43 L348.31 383.4 L350.14 382.36 L351.97 381.29 L353.81 380.2 L355.64 379.09 L357.47 377.96 L359.3 376.81 L361.13 375.63 L362.97 374.43 L364.8 373.21 L366.63 371.97 L368.46 370.7 L370.29 369.41 L372.13 368.1 L373.96 366.76 L375.79 365.4 L377.62 364.01 L377.62 356.86 L375.79 358.25 L373.96 359.61 L372.13 360.95 L370.29 362.26 L368.46 363.55 L366.63 364.82 L364.8 366.06 L362.97 367.28 L361.13 368.48 L359.3 369.66 L357.47 370.81 L355.64 371.94 L353.81 373.05 L351.97 374.14 L350.14 375.21 L348.31 376.25 L346.48 377.28 L344.65 378.28 L342.81 379.27 L340.98 380.24 L339.15 381.18 L337.32 382.11 L335.49 383.02 L333.65 383.91 L331.82 384.78 L329.99 385.63 L328.16 386.47 L326.33 387.29 L324.49 388.09 L322.66 388.88 L320.83 389.64 L319 390.39 L317.17 391.13 L315.33 391.85 L313.5 392.55 L311.67 393.23 L309.84 393.91 L308.01 394.56 L306.17 395.2 L304.34 395.83 L302.51 396.44 L300.68 397.04 L298.85 397.62 L297.01 398.19 L295.18 398.74 L293.35 399.28 L291.52 399.81 L289.69 400.32 L287.85 400.82 L286.02 401.31 L284.19 401.79 L282.36 402.25 L280.53 402.7 L278.69 403.14 L276.86 403.56 L275.03 403.98 L273.2 404.38 L271.37 404.77 L269.53 405.14 L267.7 405.51 L265.87 405.87 L264.04 406.21 L262.21 406.54 L260.37 406.87 L258.54 407.18 L256.71 407.48 L254.88 407.77 L253.05 408.05 L251.21 408.32 L249.38 408.58 L247.55 408.83 L245.72 409.06 L243.89 409.29 L242.05 409.51 L240.22 409.72 L238.39 409.92 L236.56 410.11 L234.73 410.29 L232.89 410.46 L231.06 410.63 L229.23 410.78 L227.4 410.92 L225.57 411.06 L223.73 411.18 L221.9 411.3 L220.07 411.4 L218.24 411.5 L216.41 411.59 L214.57 411.67 L212.74 411.74 L210.91 411.81 L209.08 411.86 L207.25 411.9 L205.41 411.94 L203.58 411.97 L201.75 411.99 L199.92 412 L198.09 412 L196.25 412 L194.42 412 L192.59 412 L190.76 412 L188.93 412 L187.09 412 L185.26 412 L183.43 412 L181.6 412 L179.77 412 L177.93 412 L176.1 412 L174.27 412 L172.44 412 L170.61 412 L168.77 412 L166.94 412 L165.11 412 L163.28 412 L161.45 412 L159.61 412 L157.78 412 L155.95 412 L154.12 412 L152.29 412 L150.45 412 L148.62 412 L146.79 412 L144.96 412 L143.13 412 L141.29 412 L139.46 412 L137.63 412 L135.8 412 L133.97 412 L132.13 412 L130.3 412 L128.47 412 L126.64 412Z" stroke="#634E8E"/>
<path d="M126.64 410.3 L128.47 410.3 L130.3 410.3 L132.13 410.3 L133.97 410.3 L135.8 410.3 L137.63 410.3 L139.46 410.3 L141.29 410.3 L143.13 410.3 L144.96 410.3 L146.79 410.3 L148.62 410.3 L150.45 410.3 L152.29 410.3 L154.12 410.3 L155.95 410.3 L157.78 410.3 L159.61 410.3 L161.45 410.3 L163.28 410.3 L165.11 410.3 L166.94 410.3 L168.77 410.3 L170.61 410.3 L172.44 410.3 L174.27 410.3 L176.1 410.3 L177.93 410.3 L179.77 410.3 L181.6 410.3 L183.43 410.3 L185.26 410.3 L187.09 410.3 L188.93 410.3 L190.76 410.3 L192.59 410.3 L194.42 410.3 L196.25 410.3 L198.09 410.3 L199.92 410.3 L201.75 410.29 L203.58 410.27 L205.41 410.24 L207.25 410.2 L209.08 410.16 L210.91 410.11 L212.74 410.04 L214.57 409.97 L216.41 409.89 L218.24 409.8 L220.07 409.7 L221.9 409.6 L223.73 409.48 L225.57 409.36 L227.4 409.22 L229.23 409.08 L231.06 408.93 L232.89 408.76 L234.73 408.59 L236.56 408.41 L238.39 408.22 L240.22 408.02 L242.05 407.81 L243.89 407.59 L245.72 407.36 L247.55 407.13 L249.38 406.88 L251.21 406.62 L253.05 406.35 L254.88 406.07 L256.71 405.78 L258.54 405.48 L260.37 405.17 L262.21 404.84 L264.04 404.51 L265.87 404.17 L267.7 403.81 L269.53 403.44 L271.37 403.07 L273.2 402.68 L275.03 402.28 L276.86 401.86 L278.69 401.44 L280.53 401 L282.36 400.55 L284.19 400.09 L286.02 399.61 L287.85 399.12 L289.69 398.62 L291.52 398.11 L293.35 397.58 L295.18 397.04 L297.01 396.49 L298.85 395.92 L300.68 395.34 L302.51 394.74 L304.34 394.13 L306.17 393.5 L308.01 392.86 L309.84 392.21 L311.67 391.53 L313.5 390.85 L315.33 390.15 L317.17 389.43 L319 388.69 L320.83 387.94 L322.66 387.18 L324.49 386.39 L326.33 385.59 L328.16 384.77 L329.99 383.93 L331.82 383.08 L333.65 382.21 L335.49 381.32 L337.32 380.41 L339.15 379.48 L340.98 378.54 L342.81 377.57 L344.65 376.58 L346.48 375.58 L348.31 374.55 L350.14 373.51 L351.97 372.44 L353.81 371.35 L355.64 370.24 L357.47 369.11 L359.3 367.96 L361.13 366.78 L362.97 365.58 L364.8 364.36 L366.63 363.12 L368.46 361.85 L370.29 360.56 L372.13 359.25 L373.96 357.91 L375.79 356.55 L377.62 355.16 L377.62 348.01 L375.79 349.4 L373.96 350.76 L372.13 352.1 L370.29 353.41 L368.46 354.7 L366.63 355.97 L364.8 357.21 L362.97 358.43 L361.13 359.63 L359.3 360.81 L357.47 361.96 L355.64 363.09 L353.81 364.2 L351.97 365.29 L350.14 366.36 L348.31 367.4 L346.48 368.43 L344.65 369.43 L342.81 370.42 L340.98 371.39 L339.15 372.33 L337.32 373.26 L335.49 374.17 L333.65 375.06 L331.82 375.93 L329.99 376.78 L328.16 377.62 L326.33 378.44 L324.49 379.24 L322.66 380.03 L320.83 380.79 L319 381.54 L317.17 382.28 L315.33 383 L313.5 383.7 L311.67 384.38 L309.84 385.06 L308.01 385.71 L306.17 386.35 L304.34 386.98 L302.51 387.59 L300.68 388.19 L298.85 388.77 L297.01 389.34 L295.18 389.89 L293.35 390.43 L291.52 390.96 L289.69 391.47 L287.85 391.97 L286.02 392.46 L284.19 392.94 L282.36 393.4 L280.53 393.85 L278.69 394.29 L276.86 394.71 L275.03 395.13 L273.2 395.53 L271.37 395.92 L269.53 396.29 L267.7 396.66 L265.87 397.02 L264.04 397.36 L262.21 397.69 L260.37 398.02 L258.54 398.33 L256.71 398.63 L254.88 398.92 L253.05 399.2 L251.21 399.47 L249.38 399.73 L247.55 399.98 L245.72 400.21 L243.89 400.44 L242.05 400.66 L240.22 400.87 L238.39 401.07 L236.56 401.26 L234.73 401.44 L232.89 401.61 L231.06 401.78 L229.23 401.93 L227.4 402.07 L225.57 402.21 L223.73 402.33 L221.9 402.45 L220.07 402.55 L218.24 402.65 L216.41 402.74 L214.57 402.82 L212.74 402.89 L210.91 402.96 L209.08 403.01 L207.25 403.05 L205.41 403.09 L203.58 403.12 L201.75 403.14 L199.92 403.15 L198.09 403.15 L196.25 403.15 L194.42 403.15 L192.59 403.15 L190.76 403.15 L188.93 403.15 L187.09 403.15 L185.26 403.15 L183.43 403.15 L181.6 403.15 L179.77 403.15 L177.93 403.15 L176.1 403.15 L174.27 403.15 L172.44 403.15 L170.61 403.15 L168.77 403.15 L166.94 403.15 L165.11 403.15 L163.28 403.15 L161.45 403.15 L159.61 403.15 L157.78 403.15 L155.95 403.15 L154.12 403.15 L152.29 403.15 L150.45 403.15 L148.62 403.15 L146.79 403.15 L144.96 403.15 L143.13 403.15 L141.29 403.15 L139.46 403.15 L137.63 403.15 L135.8 403.15 L133.97 403.15 L132.13 403.15 L130.3 403.15 L128.47 403.15 L126.64 403.15Z" stroke="#2C8093"/>
<path d="M126.64 401.45 L128.47 401.45 L130.3 401.45 L132.13 401.45 L133.97 401.45 L135.8 401.45 L137.63 401.45 L139.46 401.45 L141.29 401.45 L143.13 401.45 L144.96 401.45 L146.79 401.45 L148.62 401.45 L150.45 401.45 L152.29 401.45 L154.12 401.45 L155.95 401.45 L157.78 401.45 L159.61 401.45 L161.45 401.45 L163.28 401.45 L165.11 401.45 L166.94 401.45 L168.77 401.45 L170.61 401.45 L172.44 401.45 L174.27 401.45 L176.1 401.45 L177.93 401.45 L179.77 401.45 L181.6 401.45 L183.43 401.45 L185.26 401.45 L187.09 401.45 L188.93 401.45 L190.76 401.45 L192.59 401.45 L194.42 401.45 L196.25 401.45 L198.09 401.45 L199.92 401.45 L201.75 401.44 L203.58 401.42 L205.41 401.39 L207.25 401.35 L209.08 401.31 L210.91 401.26 L212.74 401.19 L214.57 401.12 L216.41 401.04 L218.24 400.95 L220.07 400.85 L221.9 400.75 L223.73 400.63 L225.57 400.51 L227.4 400.37 L229.23 400.23 L231.06 400.08 L232.89 399.91 L234.73 399.74 L236.56 399.56 L238.39 399.37 L240.22 399.17 L242.05 398.96 L243.89 398.74 L245.72 398.51 L247.55 398.28 L249.38 398.03 L251.21 397.77 L253.05 397.5 L254.88 397.22 L256.71 396.93 L258.54 396.63 L260.37 396.32 L262.21 395.99 L264.04 395.66 L265.87 395.32 L267.7 394.96 L269.53 394.59 L271.37 394.22 L273.2 393.83 L275.03 393.43 L276.86 393.01 L278.69 392.59 L280.53 392.15 L282.36 391.7 L284.19 391.24 L286.02 390.76 L287.85 390.27 L289.69 389.77 L291.52 389.26 L293.35 388.73 L295.18 388.19 L297.01 387.64 L298.85 387.07 L300.68 386.49 L302.51 385.89 L304.34 385.28 L306.17 384.65 L308.01 384.01 L309.84 383.36 L311.67 382.68 L313.5 382 L315.33 381.3 L317.17 380.58 L319 379.84 L320.83 379.09 L322.66 378.33 L324.49 377.54 L326.33 376.74 L328.16 375.92 L329.99 375.08 L331.82 374.23 L333.65 373.36 L335.49 372.47 L337.32 371.56 L339.15 370.63 L340.98 369.69 L342.81 368.72 L344.65 367.73 L346.48 366.73 L348.31 365.7 L350.14 364.66 L351.97 363.59 L353.81 362.5 L355.64 361.39 L357.47 360.26 L359.3 359.11 L361.13 357.93 L362.97 356.73 L364.8 355.51 L366.63 354.27 L368.46 353 L370.29 351.71 L372.13 350.4 L373.96 349.06 L375.79 347.7 L377.62 346.31 L377.62 339.16 L375.79 340.55 L373.96 341.91 L372.13 343.25 L370.29 344.56 L368.46 345.85 L366.63 347.12 L364.8 348.36 L362.97 349.58 L361.13 350.78 L359.3 351.96 L357.47 353.11 L355.64 354.24 L353.81 355.35 L351.97 356.44 L350.14 357.51 L348.31 358.55 L346.48 359.58 L344.65 360.58 L342.81 361.57 L340.98 362.54 L339.15 363.48 L337.32 364.41 L335.49 365.32 L333.65 366.21 L331.82 367.08 L329.99 367.93 L328.16 368.77 L326.33 369.59 L324.49 370.39 L322.66 371.18 L320.83 371.94 L319 372.69 L317.17 373.43 L315.33 374.15 L313.5 374.85 L311.67 375.53 L309.84 376.21 L308.01 376.86 L306.17 377.5 L304.34 378.13 L302.51 378.74 L300.68 379.34 L298.85 379.92 L297.01 380.49 L295.18 381.04 L293.35 381.58 L291.52 382.11 L289.69 382.62 L287.85 383.12 L286.02 383.61 L284.19 384.09 L282.36 384.55 L280.53 385 L278.69 385.44 L276.86 385.86 L275.03 386.28 L273.2 386.68 L271.37 387.07 L269.53 387.44 L267.7 387.81 L265.87 388.17 L264.04 388.51 L262.21 388.84 L260.37 389.17 L258.54 389.48 L256.71 389.78 L254.88 390.07 L253.05 390.35 L251.21 390.62 L249.38 390.88 L247.55 391.13 L245.72 391.36 L243.89 391.59 L242.05 391.81 L240.22 392.02 L238.39 392.22 L236.56 392.41 L234.73 392.59 L232.89 392.76 L231.06 392.93 L229.23 393.08 L227.4 393.22 L225.57 393.36 L223.73 393.48 L221.9 393.6 L220.07 393.7 L218.24 393.8 L216.41 393.89 L214.57 393.97 L212.74 394.04 L210.91 394.11 L209.08 394.16 L207.25 394.2 L205.41 394.24 L203.58 394.27 L201.75 394.29 L199.92 394.3 L198.09 394.3 L196.25 394.3 L194.42 394.3 L192.59 394.3 L190.76 394.3 L188.93 394.3 L187.09 394.3 L185.26 394.3 L183.43 394.3 L181.6 394.3 L179.77 394.3 L177.93 394.3 L176.1 394.3 L174.27 394.3 L172.44 394.3 L170.61 394.3 L168.77 394.3 L166.94 394.3 L165.11 394.3 L163.28 394.3 L161.45 394.3 L159.61 394.3 L157.78 394.3 L155.95 394.3 L154.12 394.3 L152.29 394.3 L150.45 394.3 L148.62 394.3 L146.79 394.3 L144.96 394.3 L143.13 394.3 L141.29 394.3 L139.46 394.3 L137.63 394.3 L135.8 394.3 L133.97 394.3 L132.13 394.3 L130.3 394.3 L128.47 394.3 L126.64 394.3Z" stroke="#CB7830"/>
<path d="M126.64 391.8 L128.47 391.8 L130.3 391.8 L132.13 391.8 L133.96 391.8 L135.79 391.8 L137.62 391.8 L139.45 391.8 L141.28 391.8 L143.11 391.8 L144.94 391.8 L146.77 391.8 L148.6 391.8 L150.43 391.8 L152.26 391.8 L154.09 391.8 L155.92 391.8 L157.75 391.8 L159.58 391.8 L161.41 391.8 L163.24 391.8 L165.07 391.8 L166.9 391.8 L168.74 391.8 L170.57 391.8 L172.4 391.8 L174.23 391.8 L176.06 391.8 L177.89 391.8 L179.72 391.8 L181.55 391.8 L183.38 391.8 L185.21 391.8 L187.04 391.8 L188.87 391.8 L190.7 391.8 L192.53 391.8 L194.36 391.8 L196.19 391.8 L198.02 391.8 L199.85 391.8 L201.68 391.79 L203.51 391.77 L205.34 391.74 L207.17 391.71 L209 391.66 L210.83 391.61 L212.66 391.55 L214.49 391.47 L216.32 391.39 L218.15 391.31 L219.98 391.21 L221.81 391.1 L223.65 390.99 L225.48 390.86 L227.31 390.73 L229.14 390.59 L230.97 390.43 L232.8 390.27 L234.63 390.1 L236.46 389.92 L238.29 389.73 L240.12 389.53 L241.95 389.33 L243.78 389.11 L245.61 388.88 L247.44 388.64 L249.27 388.39 L251.1 388.13 L252.93 387.87 L254.76 387.59 L256.59 387.3 L258.42 387 L260.25 386.69 L262.08 386.37 L263.91 386.03 L265.74 385.69 L267.57 385.34 L269.4 384.97 L271.23 384.59 L273.06 384.21 L274.89 383.81 L276.72 383.39 L278.56 382.97 L280.39 382.53 L282.22 382.08 L284.05 381.62 L285.88 381.15 L287.71 380.66 L289.54 380.16 L291.37 379.65 L293.2 379.13 L295.03 378.59 L296.86 378.03 L298.69 377.47 L300.52 376.89 L302.35 376.29 L304.18 375.68 L306.01 375.06 L306.01 354.06 L304.18 354.68 L302.35 355.29 L300.52 355.89 L298.69 356.47 L296.86 357.03 L295.03 357.59 L293.2 358.13 L291.37 358.65 L289.54 359.16 L287.71 359.66 L285.88 360.15 L284.05 360.62 L282.22 361.08 L280.39 361.53 L278.56 361.97 L276.72 362.39 L274.89 362.81 L273.06 363.21 L271.23 363.59 L269.4 363.97 L267.57 364.34 L265.74 364.69 L263.91 365.03 L262.08 365.37 L260.25 365.69 L258.42 366 L256.59 366.3 L254.76 366.59 L252.93 366.87 L251.1 367.13 L249.27 367.39 L247.44 367.64 L245.61 367.88 L243.78 368.11 L241.95 368.33 L240.12 368.53 L238.29 368.73 L236.46 368.92 L234.63 369.1 L232.8 369.27 L230.97 369.43 L229.14 369.59 L227.31 369.73 L225.48 369.86 L223.65 369.99 L221.81 370.1 L219.98 370.21 L218.15 370.31 L216.32 370.39 L214.49 370.47 L212.66 370.55 L210.83 370.61 L209 370.66 L207.17 370.71 L205.34 370.74 L203.51 370.77 L201.68 370.79 L199.85 370.8 L198.02 370.8 L196.19 370.8 L194.36 370.8 L192.53 370.8 L190.7 370.8 L188.87 370.8 L187.04 370.8 L185.21 370.8 L183.38 370.8 L181.55 370.8 L179.72 370.8 L177.89 370.8 L176.06 370.8 L174.23 370.8 L172.4 370.8 L170.57 370.8 L168.74 370.8 L166.9 370.8 L165.07 370.8 L163.24 370.8 L161.41 370.8 L159.58 370.8 L157.75 370.8 L155.92 370.8 L154.09 370.8 L152.26 370.8 L150.43 370.8 L148.6 370.8 L146.77 370.8 L144.94 370.8 L143.11 370.8 L141.28 370.8 L139.45 370.8 L137.62 370.8 L135.79 370.8 L133.96 370.8 L132.13 370.8 L130.3 370.8 L128.47 370.8 L126.64 370.8Z" stroke="#33609D"/>
<path d="M126.64 369.6 L128.48 369.6 L130.32 369.6 L132.17 369.6 L134.01 369.6 L135.85 369.6 L137.69 369.6 L139.54 369.6 L141.38 369.6 L143.22 369.6 L145.06 369.6 L146.91 369.6 L148.75 369.6 L150.59 369.6 L152.43 369.6 L154.28 369.6 L156.12 369.6 L157.96 369.6 L159.81 369.6 L161.65 369.6 L163.49 369.6 L165.33 369.6 L167.18 369.6 L169.02 369.6 L170.86 369.6 L172.7 369.6 L174.55 369.6 L176.39 369.6 L178.23 369.6 L180.07 369.6 L181.92 369.6 L183.76 369.6 L185.6 369.6 L187.44 369.6 L189.29 369.6 L191.13 369.6 L192.97 369.6 L194.82 369.6 L196.66 369.6 L198.5 369.6 L200.34 369.6 L202.19 369.58 L204.03 369.56 L205.87 369.53 L207.71 369.49 L209.56 369.45 L211.4 369.39 L213.24 369.32 L215.08 369.25 L216.93 369.17 L218.77 369.07 L220.61 368.97 L222.46 368.86 L224.3 368.74 L226.14 368.61 L227.98 368.48 L229.83 368.33 L231.67 368.17 L233.51 368.01 L235.35 367.83 L237.2 367.65 L239.04 367.45 L240.88 367.25 L242.72 367.03 L244.57 366.81 L246.41 366.58 L248.25 366.33 L250.09 366.08 L251.94 365.81 L253.78 365.54 L255.62 365.25 L257.47 364.96 L259.31 364.65 L261.15 364.33 L262.99 364 L264.84 363.66 L266.68 363.31 L268.52 362.95 L270.36 362.57 L270.36 342.37 L268.52 342.75 L266.68 343.11 L264.84 343.46 L262.99 343.8 L261.15 344.13 L259.31 344.45 L257.47 344.76 L255.62 345.05 L253.78 345.34 L251.94 345.61 L250.09 345.88 L248.25 346.13 L246.41 346.38 L244.57 346.61 L242.72 346.83 L240.88 347.05 L239.04 347.25 L237.2 347.45 L235.35 347.63 L233.51 347.81 L231.67 347.97 L229.83 348.13 L227.98 348.28 L226.14 348.41 L224.3 348.54 L222.46 348.66 L220.61 348.77 L218.77 348.87 L216.93 348.97 L215.08 349.05 L213.24 349.12 L211.4 349.19 L209.56 349.25 L207.71 349.29 L205.87 349.33 L204.03 349.36 L202.19 349.38 L200.34 349.4 L198.5 349.4 L196.66 349.4 L194.82 349.4 L192.97 349.4 L191.13 349.4 L189.29 349.4 L187.44 349.4 L185.6 349.4 L183.76 349.4 L181.92 349.4 L180.07 349.4 L178.23 349.4 L176.39 349.4 L174.55 349.4 L172.7 349.4 L170.86 349.4 L169.02 349.4 L167.18 349.4 L165.33 349.4 L163.49 349.4 L161.65 349.4 L159.81 349.4 L157.96 349.4 L156.12 349.4 L154.28 349.4 L152.43 349.4 L150.59 349.4 L148.75 349.4 L146.91 349.4 L145.06 349.4 L143.22 349.4 L141.38 349.4 L139.54 349.4 L137.69 349.4 L135.85 349.4 L134.01 349.4 L132.17 349.4 L130.32 349.4 L128.48 349.4 L126.64 349.4Z" stroke="#9D3735"/>
<path d="M126.64 347.6 L128.48 347.6 L130.32 347.6 L132.16 347.6 L134 347.6 L135.84 347.6 L137.68 347.6 L139.52 347.6 L141.36 347.6 L143.2 347.6 L145.04 347.6 L146.88 347.6 L148.72 347.6 L150.56 347.6 L152.39 347.6 L154.23 347.6 L156.07 347.6 L157.91 347.6 L159.75 347.6 L161.59 347.6 L163.43 347.6 L165.27 347.6 L167.11 347.6 L168.95 347.6 L170.79 347.6 L172.63 347.6 L174.47 347.6 L176.31 347.6 L178.15 347.6 L179.99 347.6 L181.83 347.6 L183.67 347.6 L185.51 347.6 L187.35 347.6 L189.19 347.6 L191.03 347.6 L192.87 347.6 L194.71 347.6 L196.55 347.6 L198.39 347.6 L200.23 347.6 L202.07 347.58 L203.91 347.56 L205.75 347.53 L207.59 347.5 L209.43 347.45 L211.27 347.39 L213.11 347.33 L214.95 347.26 L216.79 347.17 L218.63 347.08 L220.47 346.98 L222.31 346.87 L224.15 346.75 L225.99 346.63 L227.83 346.49 L229.67 346.34 L231.51 346.19 L233.35 346.02 L233.35 321.42 L231.51 321.59 L229.67 321.74 L227.83 321.89 L225.99 322.03 L224.15 322.15 L222.31 322.27 L220.47 322.38 L218.63 322.48 L216.79 322.57 L214.95 322.66 L213.11 322.73 L211.27 322.79 L209.43 322.85 L207.59 322.9 L205.75 322.93 L203.91 322.96 L202.07 322.98 L200.23 323 L198.39 323 L196.55 323 L194.71 323 L192.87 323 L191.03 323 L189.19 323 L187.35 323 L185.51 323 L183.67 323 L181.83 323 L179.99 323 L178.15 323 L176.31 323 L174.47 323 L172.63 323 L170.79 323 L168.95 323 L167.11 323 L165.27 323 L163.43 323 L161.59 323 L159.75 323 L157.91 323 L156.07 323 L154.23 323 L152.39 323 L150.56 323 L148.72 323 L146.88 323 L145.04 323 L143.2 323 L141.36 323 L139.52 323 L137.68 323 L135.84 323 L134 323 L132.16 323 L130.32 323 L128.48 323 L126.64 323Z" stroke="#7A9E3E"/>
<path d="M126.64 322.2 H198.62 V289.8 H126.64 Z" stroke="#634E8E"/>
<path d="M126.64 288.1 H315.15 V90 H126.64 Z" stroke="#2C8093"/>
</g>
<path d="M109.5 107.4 H429.4 V445.5" fill="none" stroke="#233248" stroke-width="1.4"/>
<text x="91.7" y="451.4" font-family='"Liberation Sans", sans-serif' font-size="19" text-anchor="end" fill="#1a1a1a">0.00</text>
<text x="91.7" y="409.14" font-family='"Liberation Sans", sans-serif' font-size="19" text-anchor="end" fill="#1a1a1a">0.02</text>
<text x="91.7" y="366.88" font-family='"Liberation Sans", sans-serif' font-size="19" text-anchor="end" fill="#1a1a1a">0.04</text>
<text x="91.7" y="324.61" font-family='"Liberation Sans", sans-serif' font-size="19" text-anchor="end" fill="#1a1a1a">0.06</text>
<text x="91.7" y="282.35" font-family='"Liberation Sans", sans-serif' font-size="19" text-anchor="end" fill="#1a1a1a">0.08</text>
<text x="91.7" y="240.09" font-family='"Liberation Sans", sans-serif' font-size="19" text-anchor="end" fill="#1a1a1a">0.10</text>
<text x="91.7" y="197.83" font-family='"Liberation Sans", sans-serif' font-size="19" text-anchor="end" fill="#1a1a1a">0.12</text>
<text x="91.7" y="155.57" font-family='"Liberation Sans", sans-serif' font-size="19" text-anchor="end" fill="#1a1a1a">0.14</text>
<text x="91.7" y="113.3" font-family='"Liberation Sans", sans-serif' font-size="19" text-anchor="end" fill="#1a1a1a">0.16</text>
<text x="110.5" y="478" font-family='"Liberation Sans", sans-serif' font-size="19" text-anchor="middle" fill="#1a1a1a">0.2</text>
<text x="201.9" y="478" font-family='"Liberation Sans", sans-serif' font-size="19" text-anchor="middle" fill="#1a1a1a">0.4</text>
<text x="293.3" y="478" font-family='"Liberation Sans", sans-serif' font-size="19" text-anchor="middle" fill="#1a1a1a">0.6</text>
<text x="384.7" y="478" font-family='"Liberation Sans", sans-serif' font-size="19" text-anchor="middle" fill="#1a1a1a">0.8</text>
<text x="225.8" y="501.2" font-family='"Liberation Sans", sans-serif' font-size="19.4" font-weight="bold" fill="#111" textLength="102.2" lengthAdjust="spacingAndGlyphs">Radius [in]</text>
<text transform="translate(41.4,343.8) rotate(-90)" font-family='"Liberation Sans", sans-serif' font-size="19.4" font-weight="bold" fill="#111" textLength="120.3" lengthAdjust="spacingAndGlyphs">Shim Lift [in]</text>
</g>
<text x="1104.3" y="141.4" font-family='"Liberation Sans", sans-serif' font-size="22" fill="#000" stroke="#000" stroke-width="0.35" textLength="164" lengthAdjust="spacingAndGlyphs">Stiff high speed</text>
<path id="lg116" d="M1349.7 192.33 A23 23 0 1 1 1350.1 192.37" fill="none"/><text font-family="'Liberation Serif', serif" font-size="14" fill="#8c8c8c" font-weight="bold"><textPath href="#lg116" textLength="135.68" lengthAdjust="spacingAndGlyphs">www.ShimReStacker.com</textPath></text><text x="1354" y="182.1" font-family='"Liberation Sans", sans-serif' font-size="35" font-weight="bold" text-anchor="middle" textLength="31" lengthAdjust="spacingAndGlyphs"><tspan fill="#a8a8a8">S</tspan><tspan fill="#8a8a8a">R</tspan></text>
<path d="M1530.3 94V441.5M1524 441.5H1530.3M1524 383.57H1530.3M1524 325.64H1530.3M1524 267.71H1530.3M1524 209.78H1530.3M1524 151.85H1530.3M1524 93.92H1530.3" fill="none" stroke="#1F2D48" stroke-width="1.3"/>
<path d="M1530.3 441.5H1887.3M1530.3 441.5V446.1M1566 441.5V446.1M1601.7 441.5V446.1M1637.4 441.5V446.1M1673.1 441.5V446.1M1708.8 441.5V446.1M1744.5 441.5V446.1M1780.2 441.5V446.1M1815.9 441.5V446.1M1851.6 441.5V446.1M1887.3 441.5V446.1" fill="none" stroke="#868686" stroke-width="1.1"/>
<text x="1515.3" y="446.1" font-family='"Liberation Sans", sans-serif' font-size="15" text-anchor="end" fill="#1a1a1a">0</text>
<text x="1515.3" y="388.17" font-family='"Liberation Sans", sans-serif' font-size="15" text-anchor="end" fill="#1a1a1a">100</text>
<text x="1515.3" y="330.24" font-family='"Liberation Sans", sans-serif' font-size="15" text-anchor="end" fill="#1a1a1a">200</text>
<text x="1515.3" y="272.31" font-family='"Liberation Sans", sans-serif' font-size="15" text-anchor="end" fill="#1a1a1a">300</text>
<text x="1515.3" y="214.38" font-family='"Liberation Sans", sans-serif' font-size="15" text-anchor="end" fill="#1a1a1a">400</text>
<text x="1515.3" y="156.45" font-family='"Liberation Sans", sans-serif' font-size="15" text-anchor="end" fill="#1a1a1a">500</text>
<text x="1515.3" y="98.52" font-family='"Liberation Sans", sans-serif' font-size="15" text-anchor="end" fill="#1a1a1a">600</text>
<text x="1530.8" y="467" font-family='"Liberation Sans", sans-serif' font-size="14.6" text-anchor="middle" fill="#1a1a1a">0</text>
<text x="1602.2" y="467" font-family='"Liberation Sans", sans-serif' font-size="14.6" text-anchor="middle" fill="#1a1a1a">10</text>
<text x="1673.6" y="467" font-family='"Liberation Sans", sans-serif' font-size="14.6" text-anchor="middle" fill="#1a1a1a">20</text>
<text x="1745" y="467" font-family='"Liberation Sans", sans-serif' font-size="14.6" text-anchor="middle" fill="#1a1a1a">30</text>
<text x="1816.4" y="467" font-family='"Liberation Sans", sans-serif' font-size="14.6" text-anchor="middle" fill="#1a1a1a">40</text>
<text x="1887.8" y="467" font-family='"Liberation Sans", sans-serif' font-size="14.6" text-anchor="middle" fill="#1a1a1a">50</text>
<text x="1617" y="501.6" font-family='"Liberation Sans", sans-serif' font-size="15.4" font-weight="bold" fill="#111" textLength="169.5" lengthAdjust="spacingAndGlyphs">Shaft Velocity [in/sec]</text>
<text transform="translate(1474.9,349.8) rotate(-90)" font-family='"Liberation Sans", sans-serif' font-size="15.4" font-weight="bold" fill="#111" textLength="148.5" lengthAdjust="spacingAndGlyphs">Damping Force [lbf]</text>
<path d="M1530.3 441.5 L1530.59 436.16 L1530.87 433.01 L1531.16 430.33 L1531.44 427.95 L1531.73 425.79 L1532.01 423.81 L1532.3 421.98 L1532.58 420.29 L1532.87 418.71 L1533.16 417.24 L1533.44 415.86 L1533.73 414.55 L1534.01 413.33 L1534.3 412.17 L1534.58 411.07 L1534.87 410.02 L1535.16 409.03 L1535.44 408.08 L1535.73 407.17 L1536.01 406.31 L1536.3 405.47 L1536.58 404.67 L1536.87 403.9 L1537.15 403.15 L1537.44 402.43 L1538.87 399.13 L1540.3 396.22 L1541.72 393.57 L1543.15 391.11 L1544.58 388.78 L1546.01 386.55 L1547.44 384.4 L1548.86 382.31 L1550.29 380.27 L1551.72 378.27 L1553.15 376.32 L1554.58 374.39 L1556 372.49 L1557.43 370.62 L1558.86 368.78 L1560.29 366.96 L1561.72 365.15 L1563.14 363.37 L1564.57 361.61 L1566 359.86 L1567.43 358.12 L1568.86 356.4 L1570.28 354.7 L1571.71 353.01 L1573.14 351.33 L1574.57 349.66 L1576 348 L1577.42 346.36 L1578.85 344.72 L1580.28 343.1 L1581.71 341.48 L1583.14 339.88 L1584.56 338.28 L1585.99 336.69 L1587.42 335.11 L1588.85 333.53 L1590.28 331.97 L1591.7 330.41 L1593.13 328.85 L1594.56 327.31 L1595.99 325.77 L1597.42 324.24 L1598.84 322.71 L1600.27 321.19 L1601.7 319.67 L1603.13 318.16 L1604.56 316.66 L1605.98 315.16 L1607.41 313.66 L1608.84 312.17 L1610.27 310.69 L1611.7 309.21 L1613.12 307.73 L1614.55 306.26 L1615.98 304.8 L1617.41 303.33 L1618.84 301.87 L1620.26 300.42 L1621.69 298.97 L1623.12 297.52 L1624.55 296.08 L1625.98 294.64 L1627.4 293.2 L1628.83 291.77 L1630.26 290.34 L1631.69 288.92 L1633.12 287.49 L1634.54 286.07 L1635.97 284.66 L1637.4 283.24 L1638.83 281.83 L1640.26 280.43 L1641.68 279.02 L1643.11 277.62 L1644.54 276.22 L1645.97 274.83 L1647.4 273.43 L1648.82 272.04 L1650.25 270.65 L1651.68 269.27 L1653.11 267.89 L1654.54 266.5 L1655.96 265.13 L1657.39 263.75 L1658.82 262.38 L1660.25 261.01 L1661.68 259.64 L1663.1 258.27 L1664.53 256.9 L1665.96 255.54 L1667.39 254.18 L1668.82 252.82 L1670.24 251.47 L1671.67 250.11 L1673.1 248.76 L1674.53 247.41 L1675.96 246.06 L1677.38 244.71 L1678.81 243.37 L1680.24 242.03 L1681.67 240.69 L1683.1 239.35 L1684.52 238.01 L1685.95 236.67 L1687.38 235.34 L1688.81 234.01 L1690.24 232.68 L1691.66 231.35 L1693.09 230.02 L1694.52 228.69 L1695.95 227.37 L1697.38 226.05 L1698.8 224.72 L1700.23 223.41 L1701.66 222.09 L1703.09 220.77 L1704.52 219.46 L1705.94 218.14 L1707.37 216.83 L1708.8 215.52 L1710.23 214.21 L1711.66 212.9 L1713.08 211.59 L1714.51 210.29 L1715.94 208.98 L1717.37 207.68 L1718.8 206.38 L1720.22 205.08 L1721.65 203.78 L1723.08 202.48 L1724.51 201.19 L1725.94 199.89 L1727.36 198.6 L1728.79 197.3 L1730.22 196.01 L1731.65 194.72 L1733.08 193.43 L1734.5 192.14 L1735.93 190.86 L1737.36 189.57 L1738.79 188.29 L1740.22 187 L1741.64 185.72 L1743.07 184.44 L1744.5 183.16 L1745.93 181.88 L1747.36 180.6 L1748.78 179.32 L1750.21 178.05 L1751.64 176.77 L1753.07 175.5 L1754.5 174.22 L1755.92 172.95 L1757.35 171.68 L1758.78 170.41 L1760.21 169.14 L1761.64 167.87 L1763.06 166.61 L1764.49 165.34 L1765.92 164.07 L1767.35 162.81 L1768.78 161.55 L1770.2 160.28 L1771.63 159.02 L1773.06 157.76 L1774.49 156.5 L1775.92 155.24 L1777.34 153.98 L1778.77 152.72 L1780.2 151.47 L1781.63 150.21 L1783.06 148.96 L1784.48 147.7 L1785.91 146.45 L1787.34 145.2 L1788.77 143.94 L1790.2 142.69 L1791.62 141.44 L1793.05 140.19 L1794.48 138.95 L1795.91 137.7 L1797.34 136.45 L1798.76 135.2 L1800.19 133.96 L1801.62 132.71 L1802.33 132.09" fill="none" stroke="#2C5494" stroke-width="2.6" stroke-dasharray="7 4.5"/>
<path d="M1530.3 441.5 L1530.59 439.33 L1530.87 438.28 L1531.16 437.43 L1531.44 436.67 L1531.73 435.97 L1532.01 435.32 L1532.3 434.7 L1532.58 434.1 L1532.87 433.53 L1533.16 432.98 L1533.44 432.44 L1533.73 431.91 L1534.01 431.4 L1534.3 430.9 L1534.58 430.4 L1534.87 429.92 L1535.16 429.44 L1535.44 428.97 L1535.73 428.5 L1536.01 428.04 L1536.3 427.59 L1536.58 427.14 L1536.87 426.7 L1537.15 426.26 L1537.44 425.83 L1538.87 423.71 L1540.3 421.67 L1541.72 419.69 L1543.15 417.76 L1544.58 415.87 L1546.01 414.02 L1547.44 412.2 L1548.86 410.4 L1550.29 408.64 L1551.72 406.9 L1553.15 405.17 L1554.58 403.47 L1556 401.78 L1557.43 400.11 L1558.86 398.46 L1560.29 396.82 L1561.72 395.19 L1563.14 393.57 L1564.57 391.97 L1566 390.38 L1567.43 388.8 L1568.86 387.22 L1570.28 385.66 L1571.71 384.11 L1573.14 382.56 L1574.57 381.03 L1576 379.5 L1577.42 377.98 L1578.85 376.47 L1580.28 374.96 L1581.71 373.46 L1583.14 371.97 L1584.56 370.49 L1585.99 369.01 L1587.42 367.53 L1588.85 366.07 L1590.28 364.61 L1591.7 363.15 L1593.13 361.7 L1594.56 360.25 L1595.99 358.82 L1597.42 357.38 L1598.84 355.95 L1600.27 354.52 L1601.7 353.1 L1603.13 351.69 L1604.56 350.28 L1605.98 348.87 L1607.41 347.47 L1608.84 346.07 L1610.27 344.67 L1611.7 343.28 L1613.12 341.89 L1614.55 340.51 L1615.98 339.13 L1617.41 337.76 L1618.84 336.38 L1620.26 335.02 L1621.69 333.65 L1623.12 332.29 L1624.55 330.93 L1625.98 329.57 L1627.4 328.22 L1628.83 326.87 L1630.26 325.53 L1631.69 324.19 L1633.12 322.85 L1634.54 321.51 L1635.97 320.18 L1637.4 318.84 L1638.83 317.52 L1640.26 316.19 L1641.68 314.87 L1643.11 313.55 L1644.54 312.23 L1645.97 310.92 L1647.4 309.61 L1648.82 308.3 L1650.25 306.99 L1651.68 305.68 L1653.11 304.38 L1654.54 303.08 L1655.96 301.79 L1657.39 300.49 L1658.82 299.2 L1660.25 297.91 L1661.68 296.62 L1663.1 295.33 L1664.53 294.05 L1665.96 292.77 L1667.39 291.49 L1668.82 290.21 L1670.24 288.93 L1671.67 287.66 L1673.1 286.39 L1674.53 285.12 L1675.96 283.85 L1677.38 282.59 L1678.81 281.32 L1680.24 280.06 L1681.67 278.8 L1683.1 277.54 L1684.52 276.29 L1685.95 275.03 L1687.38 273.78 L1688.81 272.53 L1690.24 271.28 L1691.66 270.03 L1693.09 268.79 L1694.52 267.54 L1695.95 266.3 L1697.38 265.06 L1698.8 263.82 L1700.23 262.58 L1701.66 261.35 L1703.09 260.11 L1704.52 258.88 L1705.94 257.65 L1707.37 256.42 L1708.8 255.19 L1710.23 253.96 L1711.66 252.74 L1713.08 251.51 L1714.51 250.29 L1715.94 249.07 L1717.37 247.85 L1718.8 246.63 L1720.22 245.41 L1721.65 244.2 L1723.08 242.98 L1724.51 241.77 L1725.94 240.56 L1727.36 239.35 L1728.79 238.14 L1730.22 236.93 L1731.65 235.72 L1733.08 234.52 L1734.5 233.31 L1735.93 232.11 L1737.36 230.91 L1738.79 229.71 L1740.22 228.51 L1741.64 227.31 L1743.07 226.11 L1744.5 224.92 L1745.93 223.72 L1747.36 222.53 L1748.78 221.34 L1750.21 220.15 L1751.64 218.95 L1753.07 217.77 L1754.5 216.58 L1755.92 215.39 L1757.35 214.2 L1758.78 213.02 L1760.21 211.83 L1761.64 210.65 L1763.06 209.47 L1764.49 208.29 L1765.92 207.11 L1767.35 205.93 L1768.78 204.75 L1770.2 203.57 L1771.63 202.4 L1773.06 201.22 L1774.49 200.05 L1775.92 198.87 L1777.34 197.7 L1778.77 196.53 L1780.2 195.36 L1781.63 194.19 L1783.06 193.02 L1784.48 191.85 L1785.91 190.69 L1787.34 189.52 L1788.77 188.35 L1790.2 187.19 L1791.62 186.03 L1793.05 184.86 L1794.48 183.7 L1795.91 182.54 L1797.34 181.38 L1798.76 180.22 L1800.19 179.06 L1801.62 177.9 L1803.05 176.75 L1804.48 175.59 L1805.9 174.43 L1807.33 173.28 L1808.76 172.12 L1810.19 170.97 L1811.62 169.82 L1813.04 168.67 L1814.47 167.51 L1815.9 166.36 L1817.33 165.21 L1818.76 164.06 L1820.18 162.92 L1821.61 161.77 L1823.04 160.62 L1824.47 159.47 L1825.9 158.33 L1827.32 157.18 L1828.75 156.04 L1830.18 154.9 L1831.61 153.75 L1833.04 152.61 L1834.46 151.47 L1835.89 150.33 L1837.32 149.19 L1838.75 148.05 L1840.18 146.91 L1841.6 145.77 L1843.03 144.63 L1844.46 143.49 L1845.89 142.36 L1847.32 141.22 L1848.74 140.08 L1850.17 138.95 L1851.6 137.81 L1853.03 136.68 L1854.46 135.55 L1855.88 134.41 L1857.31 133.28 L1858.74 132.15" fill="none" stroke="#2C5494" stroke-width="2.6" stroke-dasharray="7 4.5"/>
<path d="M1530.3 441.5 L1530.59 439.56 L1530.87 438.54 L1531.16 437.66 L1531.44 436.87 L1531.73 436.12 L1532.01 435.41 L1532.3 434.73 L1532.58 434.08 L1532.87 433.44 L1533.16 432.81 L1533.44 432.2 L1533.73 431.6 L1534.01 431.01 L1534.3 430.43 L1534.58 429.86 L1534.87 429.3 L1535.16 428.74 L1535.44 428.19 L1535.73 427.65 L1536.01 427.11 L1536.3 426.58 L1536.58 426.05 L1536.87 425.53 L1537.15 425.01 L1537.44 424.5 L1538.87 421.98 L1540.3 419.56 L1541.72 417.2 L1543.15 414.9 L1544.58 412.66 L1546.01 410.46 L1547.44 408.31 L1548.86 406.2 L1550.29 404.12 L1551.72 402.08 L1553.15 400.08 L1554.58 398.1 L1556 396.15 L1557.43 394.23 L1558.86 392.33 L1560.29 390.46 L1561.72 388.61 L1563.14 386.79 L1564.57 384.98 L1566 383.19 L1567.43 381.43 L1568.86 379.68 L1570.28 377.95 L1571.71 376.24 L1573.14 374.54 L1574.57 372.86 L1576 371.19 L1577.42 369.54 L1578.85 367.9 L1580.28 366.28 L1581.71 364.66 L1583.14 363.06 L1584.56 361.48 L1585.99 359.9 L1587.42 358.34 L1588.85 356.78 L1590.28 355.24 L1591.7 353.71 L1593.13 352.18 L1594.56 350.67 L1595.99 349.16 L1597.42 347.66 L1598.84 346.18 L1600.27 344.69 L1601.7 343.22 L1603.13 341.76 L1604.56 340.3 L1605.98 338.85 L1607.41 337.41 L1608.84 335.97 L1610.27 334.54 L1611.7 333.12 L1613.12 331.7 L1614.55 330.29 L1615.98 328.88 L1617.41 327.48 L1618.84 326.08 L1620.26 324.69 L1621.69 323.31 L1623.12 321.93 L1624.55 320.55 L1625.98 319.18 L1627.4 317.81 L1628.83 316.45 L1630.26 315.09 L1631.69 313.74 L1633.12 312.39 L1634.54 311.04 L1635.97 309.7 L1637.4 308.36 L1638.83 307.03 L1640.26 305.7 L1641.68 304.37 L1643.11 303.04 L1644.54 301.72 L1645.97 300.4 L1647.4 299.09 L1648.82 297.77 L1650.25 296.46 L1651.68 295.15 L1653.11 293.85 L1654.54 292.55 L1655.96 291.25 L1657.39 289.95 L1658.82 288.65 L1660.25 287.36 L1661.68 286.07 L1663.1 284.78 L1664.53 283.5 L1665.96 282.21 L1667.39 280.93 L1668.82 279.65 L1670.24 278.37 L1671.67 277.1 L1673.1 275.82 L1674.53 274.55 L1675.96 273.28 L1677.38 272.01 L1678.81 270.74 L1680.24 269.48 L1681.67 268.21 L1683.1 266.95 L1684.52 265.69 L1685.95 264.43 L1687.38 263.17 L1688.81 261.91 L1690.24 260.66 L1691.66 259.4 L1693.09 258.15 L1694.52 256.9 L1695.95 255.65 L1697.38 254.4 L1698.8 253.15 L1700.23 251.9 L1701.66 250.66 L1703.09 249.41 L1704.52 248.17 L1705.94 246.93 L1707.37 245.69 L1708.8 244.45 L1710.23 243.21 L1711.66 241.97 L1713.08 240.73 L1714.51 239.49 L1715.94 238.26 L1717.37 237.02 L1718.8 235.79 L1720.22 234.56 L1721.65 233.33 L1723.08 232.09 L1724.51 230.86 L1725.94 229.63 L1727.36 228.41 L1728.79 227.18 L1730.22 225.95 L1731.65 224.72 L1733.08 223.5 L1734.5 222.27 L1735.93 221.05 L1737.36 219.83 L1738.79 218.6 L1740.22 217.38 L1741.64 216.16 L1743.07 214.94 L1744.5 213.72 L1745.93 212.5 L1747.36 211.28 L1748.78 210.06 L1750.21 208.85 L1751.64 207.63 L1753.07 206.41 L1754.5 205.2 L1755.92 203.98 L1757.35 202.77 L1758.78 201.55 L1760.21 200.34 L1761.64 199.13 L1763.06 197.91 L1764.49 196.7 L1765.92 195.49 L1767.35 194.28 L1768.78 193.07 L1770.2 191.86 L1771.63 190.65 L1773.06 189.44 L1774.49 188.23 L1775.92 187.02 L1777.34 185.82 L1778.77 184.61 L1780.2 183.4 L1781.63 182.2 L1783.06 180.99 L1784.48 179.78 L1785.91 178.58 L1787.34 177.37 L1788.77 176.17 L1790.2 174.97 L1791.62 173.76 L1793.05 172.56 L1794.48 171.36 L1795.91 170.16 L1797.34 168.95 L1798.76 167.75 L1800.19 166.55 L1801.62 165.35 L1803.05 164.15 L1804.48 162.95 L1805.9 161.75 L1807.33 160.55 L1808.76 159.35 L1810.19 158.16 L1811.62 156.96 L1813.04 155.76 L1814.47 154.56 L1815.9 153.37 L1817.33 152.17 L1818.76 150.97 L1820.18 149.78 L1821.61 148.58 L1823.04 147.39 L1824.47 146.19 L1825.9 145 L1827.32 143.8 L1828.75 142.61 L1830.18 141.41 L1831.61 140.22 L1833.04 139.03 L1834.46 137.83 L1835.89 136.64 L1837.32 135.45 L1838.75 134.26 L1840.18 133.06 L1841.6 131.87 L1843.03 130.68 L1843.75 130.09" fill="none" stroke="#1F3D73" stroke-width="3.5"/>
<g fill="#fff" stroke="#1F3D73" stroke-width="2.6"><path d="M1524.7 441.5l5.6 -5.6l5.6 5.6l-5.6 5.6z"/><path d="M1526.7 434.73l5.6 -5.6l5.6 5.6l-5.6 5.6z"/><path d="M1529.56 428.74l5.6 -5.6l5.6 5.6l-5.6 5.6z"/><path d="M1533.27 421.98l5.6 -5.6l5.6 5.6l-5.6 5.6z"/><path d="M1536.7 416.27l5.6 -5.6l5.6 5.6l-5.6 5.6z"/><path d="M1540.27 410.68l5.6 -5.6l5.6 5.6l-5.6 5.6z"/><path d="M1543.98 405.16l5.6 -5.6l5.6 5.6l-5.6 5.6z"/><path d="M1547.83 399.68l5.6 -5.6l5.6 5.6l-5.6 5.6z"/><path d="M1551.83 394.23l5.6 -5.6l5.6 5.6l-5.6 5.6z"/><path d="M1555.97 388.8l5.6 -5.6l5.6 5.6l-5.6 5.6z"/><path d="M1560.11 383.55l5.6 -5.6l5.6 5.6l-5.6 5.6z"/><path d="M1564.4 378.29l5.6 -5.6l5.6 5.6l-5.6 5.6z"/><path d="M1568.68 373.19l5.6 -5.6l5.6 5.6l-5.6 5.6z"/><path d="M1573.11 368.06l5.6 -5.6l5.6 5.6l-5.6 5.6z"/><path d="M1577.54 363.06l5.6 -5.6l5.6 5.6l-5.6 5.6z"/><path d="M1582.11 358.02l5.6 -5.6l5.6 5.6l-5.6 5.6z"/><path d="M1586.68 353.09l5.6 -5.6l5.6 5.6l-5.6 5.6z"/><path d="M1591.24 348.26l5.6 -5.6l5.6 5.6l-5.6 5.6z"/><path d="M1595.96 343.37l5.6 -5.6l5.6 5.6l-5.6 5.6z"/><path d="M1600.67 338.56l5.6 -5.6l5.6 5.6l-5.6 5.6z"/><path d="M1605.38 333.83l5.6 -5.6l5.6 5.6l-5.6 5.6z"/><path d="M1610.09 329.16l5.6 -5.6l5.6 5.6l-5.6 5.6z"/><path d="M1614.95 324.42l5.6 -5.6l5.6 5.6l-5.6 5.6z"/><path d="M1619.8 319.73l5.6 -5.6l5.6 5.6l-5.6 5.6z"/><path d="M1624.66 315.09l5.6 -5.6l5.6 5.6l-5.6 5.6z"/><path d="M1629.52 310.51l5.6 -5.6l5.6 5.6l-5.6 5.6z"/><path d="M1634.37 305.96l5.6 -5.6l5.6 5.6l-5.6 5.6z"/><path d="M1639.23 301.46l5.6 -5.6l5.6 5.6l-5.6 5.6z"/><path d="M1644.08 296.99l5.6 -5.6l5.6 5.6l-5.6 5.6z"/><path d="M1649.08 292.42l5.6 -5.6l5.6 5.6l-5.6 5.6z"/><path d="M1654.08 287.88l5.6 -5.6l5.6 5.6l-5.6 5.6z"/><path d="M1659.07 283.37l5.6 -5.6l5.6 5.6l-5.6 5.6z"/><path d="M1664.07 278.88l5.6 -5.6l5.6 5.6l-5.6 5.6z"/><path d="M1669.07 274.42l5.6 -5.6l5.6 5.6l-5.6 5.6z"/><path d="M1674.07 269.98l5.6 -5.6l5.6 5.6l-5.6 5.6z"/><path d="M1679.07 265.56l5.6 -5.6l5.6 5.6l-5.6 5.6z"/><path d="M1684.06 261.16l5.6 -5.6l5.6 5.6l-5.6 5.6z"/><path d="M1689.06 256.77l5.6 -5.6l5.6 5.6l-5.6 5.6z"/><path d="M1694.06 252.4l5.6 -5.6l5.6 5.6l-5.6 5.6z"/><path d="M1699.06 248.04l5.6 -5.6l5.6 5.6l-5.6 5.6z"/><path d="M1704.06 243.7l5.6 -5.6l5.6 5.6l-5.6 5.6z"/><path d="M1709.05 239.37l5.6 -5.6l5.6 5.6l-5.6 5.6z"/><path d="M1714.05 235.05l5.6 -5.6l5.6 5.6l-5.6 5.6z"/><path d="M1719.19 230.62l5.6 -5.6l5.6 5.6l-5.6 5.6z"/><path d="M1724.33 226.2l5.6 -5.6l5.6 5.6l-5.6 5.6z"/><path d="M1729.48 221.78l5.6 -5.6l5.6 5.6l-5.6 5.6z"/><path d="M1734.62 217.38l5.6 -5.6l5.6 5.6l-5.6 5.6z"/><path d="M1739.76 212.99l5.6 -5.6l5.6 5.6l-5.6 5.6z"/><path d="M1744.9 208.6l5.6 -5.6l5.6 5.6l-5.6 5.6z"/><path d="M1750.04 204.22l5.6 -5.6l5.6 5.6l-5.6 5.6z"/><path d="M1755.18 199.85l5.6 -5.6l5.6 5.6l-5.6 5.6z"/><path d="M1760.32 195.49l5.6 -5.6l5.6 5.6l-5.6 5.6z"/><path d="M1765.46 191.13l5.6 -5.6l5.6 5.6l-5.6 5.6z"/><path d="M1770.6 186.78l5.6 -5.6l5.6 5.6l-5.6 5.6z"/><path d="M1775.74 182.44l5.6 -5.6l5.6 5.6l-5.6 5.6z"/><path d="M1780.88 178.1l5.6 -5.6l5.6 5.6l-5.6 5.6z"/><path d="M1786.02 173.76l5.6 -5.6l5.6 5.6l-5.6 5.6z"/><path d="M1791.16 169.43l5.6 -5.6l5.6 5.6l-5.6 5.6z"/><path d="M1796.31 165.11l5.6 -5.6l5.6 5.6l-5.6 5.6z"/><path d="M1801.45 160.79l5.6 -5.6l5.6 5.6l-5.6 5.6z"/><path d="M1806.59 156.48l5.6 -5.6l5.6 5.6l-5.6 5.6z"/><path d="M1811.73 152.17l5.6 -5.6l5.6 5.6l-5.6 5.6z"/><path d="M1816.87 147.86l5.6 -5.6l5.6 5.6l-5.6 5.6z"/><path d="M1822.01 143.56l5.6 -5.6l5.6 5.6l-5.6 5.6z"/><path d="M1827.15 139.26l5.6 -5.6l5.6 5.6l-5.6 5.6z"/><path d="M1832.29 134.97l5.6 -5.6l5.6 5.6l-5.6 5.6z"/><path d="M1837.43 130.68l5.6 -5.6l5.6 5.6l-5.6 5.6z"/></g>
<path d="M1530.3 441.5 L1530.59 439.58 L1530.87 438.56 L1531.16 437.7 L1531.44 436.91 L1531.73 436.17 L1532.01 435.47 L1532.3 434.79 L1532.58 434.14 L1532.87 433.51 L1533.16 432.89 L1533.44 432.28 L1533.73 431.69 L1534.01 431.11 L1534.3 430.53 L1534.58 429.96 L1534.87 429.41 L1535.16 428.85 L1535.44 428.31 L1535.73 427.77 L1536.01 427.24 L1536.3 426.71 L1536.58 426.19 L1536.87 425.67 L1537.15 425.16 L1537.44 424.65 L1538.87 422.16 L1540.3 419.75 L1541.72 417.42 L1543.15 415.14 L1544.58 412.91 L1546.01 410.74 L1547.44 408.61 L1548.86 406.51 L1550.29 404.46 L1551.72 402.44 L1553.15 400.45 L1554.58 398.49 L1556 396.56 L1557.43 394.65 L1558.86 392.77 L1560.29 390.92 L1561.72 389.08 L1563.14 387.27 L1564.57 385.49 L1566 383.72 L1567.43 381.97 L1568.86 380.23 L1570.28 378.52 L1571.71 376.82 L1573.14 375.14 L1574.57 373.47 L1576 371.82 L1577.42 370.18 L1578.85 368.56 L1580.28 366.95 L1581.71 365.35 L1583.14 363.77 L1584.56 362.19 L1585.99 360.63 L1587.42 359.08 L1588.85 357.54 L1590.28 356.01 L1591.7 354.49 L1593.13 352.98 L1594.56 351.48 L1595.99 349.99 L1597.42 348.5 L1598.84 347.03 L1600.27 345.56 L1601.7 344.1 L1603.13 342.65 L1604.56 341.21 L1605.98 339.77 L1607.41 338.34 L1608.84 336.91 L1610.27 335.5 L1611.7 334.08 L1613.12 332.68 L1614.55 331.28 L1615.98 329.89 L1617.41 328.5 L1618.84 327.12 L1620.26 325.74 L1621.69 324.37 L1623.12 323 L1624.55 321.63 L1625.98 320.28 L1627.4 318.92 L1628.83 317.57 L1630.26 316.23 L1631.69 314.88 L1633.12 313.55 L1634.54 312.21 L1635.97 310.88 L1637.4 309.55 L1638.83 308.23 L1640.26 306.91 L1641.68 305.6 L1643.11 304.28 L1644.54 302.97 L1645.97 301.66 L1647.4 300.36 L1648.82 299.06 L1650.25 297.76 L1651.68 296.46 L1653.11 295.17 L1654.54 293.88 L1655.96 292.59 L1657.39 291.31 L1658.82 290.02 L1660.25 288.74 L1661.68 287.46 L1663.1 286.19 L1664.53 284.91 L1665.96 283.64 L1667.39 282.37 L1668.82 281.1 L1670.24 279.83 L1671.67 278.57 L1673.1 277.3 L1674.53 276.04 L1675.96 274.78 L1677.38 273.53 L1678.81 272.27 L1680.24 271.01 L1681.67 269.76 L1683.1 268.51 L1684.52 267.26 L1685.95 266.01 L1687.38 264.76 L1688.81 263.52 L1690.24 262.27 L1691.66 261.03 L1693.09 259.79 L1694.52 258.55 L1695.95 257.31 L1697.38 256.07 L1698.8 254.83 L1700.23 253.6 L1701.66 252.36 L1703.09 251.13 L1704.52 249.9 L1705.94 248.67 L1707.37 247.44 L1708.8 246.21 L1710.23 244.98 L1711.66 243.75 L1713.08 242.53 L1714.51 241.3 L1715.94 240.08 L1717.37 238.85 L1718.8 237.63 L1720.22 236.41 L1721.65 235.19 L1723.08 233.97 L1724.51 232.75 L1725.94 231.53 L1727.36 230.31 L1728.79 229.1 L1730.22 227.88 L1731.65 226.66 L1733.08 225.45 L1734.5 224.24 L1735.93 223.02 L1737.36 221.81 L1738.79 220.6 L1740.22 219.39 L1741.64 218.18 L1743.07 216.97 L1744.5 215.76 L1745.93 214.55 L1747.36 213.34 L1748.78 212.13 L1750.21 210.93 L1751.64 209.72 L1753.07 208.52 L1754.5 207.31 L1755.92 206.11 L1757.35 204.9 L1758.78 203.7 L1760.21 202.5 L1761.64 201.29 L1763.06 200.09 L1764.49 198.89 L1765.92 197.69 L1767.35 196.49 L1768.78 195.29 L1770.2 194.09 L1771.63 192.89 L1773.06 191.69 L1774.49 190.5 L1775.92 189.3 L1777.34 188.1 L1778.77 186.91 L1780.2 185.71 L1781.63 184.52 L1783.06 183.32 L1784.48 182.13 L1785.91 180.93 L1787.34 179.74 L1788.77 178.54 L1790.2 177.35 L1791.62 176.16 L1793.05 174.97 L1794.48 173.77 L1795.91 172.58 L1797.34 171.39 L1798.76 170.2 L1800.19 169.01 L1801.62 167.82 L1803.05 166.63 L1804.48 165.44 L1805.9 164.25 L1807.33 163.07 L1808.76 161.88 L1810.19 160.69 L1811.62 159.5 L1813.04 158.32 L1814.47 157.13 L1815.9 155.94 L1817.33 154.76 L1818.76 153.57 L1820.18 152.39 L1821.61 151.2 L1823.04 150.02 L1824.47 148.83 L1825.9 147.65 L1827.32 146.46 L1828.75 145.28 L1830.18 144.1 L1831.61 142.91 L1833.04 141.73 L1834.46 140.55 L1835.89 139.37 L1837.32 138.19 L1838.75 137.01 L1840.18 135.82 L1841.6 134.64 L1842.67 133.76" fill="none" stroke="#F08C3E" stroke-width="3"/>
<path d="M1530.3 441.5 L1530.59 439.55 L1530.87 438.52 L1531.16 437.64 L1531.44 436.84 L1531.73 436.09 L1532.01 435.38 L1532.3 434.69 L1532.58 434.03 L1532.87 433.39 L1533.16 432.76 L1533.44 432.14 L1533.73 431.54 L1534.01 430.95 L1534.3 430.37 L1534.58 429.79 L1534.87 429.22 L1535.16 428.66 L1535.44 428.11 L1535.73 427.56 L1536.01 427.02 L1536.3 426.49 L1536.58 425.96 L1536.87 425.43 L1537.15 424.91 L1537.44 424.39 L1538.87 421.87 L1540.3 419.42 L1541.72 417.05 L1543.15 414.74 L1544.58 412.48 L1546.01 410.28 L1547.44 408.11 L1548.86 405.99 L1550.29 403.9 L1551.72 401.85 L1553.15 399.83 L1554.58 397.84 L1556 395.88 L1557.43 393.95 L1558.86 392.04 L1560.29 390.16 L1561.72 388.3 L1563.14 386.46 L1564.57 384.64 L1566 382.85 L1567.43 381.07 L1568.86 379.31 L1570.28 377.57 L1571.71 375.85 L1573.14 374.14 L1574.57 372.45 L1576 370.77 L1577.42 369.11 L1578.85 367.46 L1580.28 365.83 L1581.71 364.21 L1583.14 362.6 L1584.56 361 L1585.99 359.41 L1587.42 357.84 L1588.85 356.28 L1590.28 354.72 L1591.7 353.18 L1593.13 351.65 L1594.56 350.12 L1595.99 348.61 L1597.42 347.1 L1598.84 345.61 L1600.27 344.12 L1601.7 342.64 L1603.13 341.16 L1604.56 339.7 L1605.98 338.24 L1607.41 336.79 L1608.84 335.34 L1610.27 333.9 L1611.7 332.47 L1613.12 331.04 L1614.55 329.62 L1615.98 328.21 L1617.41 326.8 L1618.84 325.39 L1620.26 324 L1621.69 322.6 L1623.12 321.21 L1624.55 319.83 L1625.98 318.45 L1627.4 317.08 L1628.83 315.71 L1630.26 314.34 L1631.69 312.98 L1633.12 311.62 L1634.54 310.27 L1635.97 308.92 L1637.4 307.57 L1638.83 306.23 L1640.26 304.89 L1641.68 303.55 L1643.11 302.22 L1644.54 300.89 L1645.97 299.56 L1647.4 298.24 L1648.82 296.92 L1650.25 295.6 L1651.68 294.28 L1653.11 292.97 L1654.54 291.66 L1655.96 290.35 L1657.39 289.05 L1658.82 287.74 L1660.25 286.44 L1661.68 285.14 L1663.1 283.85 L1664.53 282.55 L1665.96 281.26 L1667.39 279.97 L1668.82 278.69 L1670.24 277.4 L1671.67 276.12 L1673.1 274.83 L1674.53 273.55 L1675.96 272.27 L1677.38 271 L1678.81 269.72 L1680.24 268.45 L1681.67 267.18 L1683.1 265.91 L1684.52 264.64 L1685.95 263.37 L1687.38 262.11 L1688.81 260.84 L1690.24 259.58 L1691.66 258.32 L1693.09 257.06 L1694.52 255.8 L1695.95 254.54 L1697.38 253.28 L1698.8 252.03 L1700.23 250.77 L1701.66 249.52 L1703.09 248.27 L1704.52 247.02 L1705.94 245.77 L1707.37 244.52 L1708.8 243.27 L1710.23 242.02 L1711.66 240.78 L1713.08 239.53 L1714.51 238.29 L1715.94 237.05 L1717.37 235.8 L1718.8 234.56 L1720.22 233.32 L1721.65 232.08 L1723.08 230.85 L1724.51 229.61 L1725.94 228.37 L1727.36 227.14 L1728.79 225.9 L1730.22 224.67 L1731.65 223.43 L1733.08 222.2 L1734.5 220.97 L1735.93 219.74 L1737.36 218.5 L1738.79 217.27 L1740.22 216.05 L1741.64 214.82 L1743.07 213.59 L1744.5 212.36 L1745.93 211.13 L1747.36 209.91 L1748.78 208.68 L1750.21 207.46 L1751.64 206.23 L1753.07 205.01 L1754.5 203.79 L1755.92 202.56 L1757.35 201.34 L1758.78 200.12 L1760.21 198.9 L1761.64 197.68 L1763.06 196.46 L1764.49 195.24 L1765.92 194.02 L1767.35 192.8 L1768.78 191.59 L1770.2 190.37 L1771.63 189.15 L1773.06 187.94 L1774.49 186.72 L1775.92 185.51 L1777.34 184.29 L1778.77 183.08 L1780.2 181.86 L1781.63 180.65 L1783.06 179.44 L1784.48 178.22 L1785.91 177.01 L1787.34 175.8 L1788.77 174.59 L1790.2 173.38 L1791.62 172.17 L1793.05 170.96 L1794.48 169.75 L1795.91 168.54 L1797.34 167.33 L1798.76 166.12 L1800.19 164.91 L1801.62 163.7 L1803.05 162.5 L1804.48 161.29 L1805.9 160.08 L1807.33 158.88 L1808.76 157.67 L1810.19 156.47 L1811.62 155.26 L1813.04 154.06 L1814.47 152.85 L1815.9 151.65 L1817.33 150.44 L1818.76 149.24 L1820.18 148.04 L1821.61 146.83 L1823.04 145.63 L1824.47 144.43 L1825.9 143.23 L1827.32 142.03 L1828.75 140.82 L1830.18 139.62 L1831.61 138.42 L1833.04 137.22 L1834.46 136.02 L1835.89 134.82 L1837.32 133.62 L1838.75 132.42 L1840.18 131.23 L1841.6 130.03" fill="none" stroke="#8DB84A" stroke-width="3" stroke-dasharray="7 5"/>
<path d="M1549.5 118.9H1602" stroke="#2B5597" stroke-width="2" stroke-dasharray="5 2.9"/>
<path d="M1549.5 146.8H1602" stroke="#1F3D73" stroke-width="4"/>
<path d="M1571 146.8l3.8 -3.8l3.8 3.8l-3.8 3.8z" fill="#fff" stroke="#1F3D73" stroke-width="1.5"/>
<path d="M1549.5 176.5H1602" stroke="#2B5597" stroke-width="2" stroke-dasharray="5 2.9"/>
<path d="M1549.5 205.2H1602" stroke="#F08C3E" stroke-width="3"/>
<path d="M1549.5 233.7H1602" stroke="#8DB84A" stroke-width="3" stroke-dasharray="8 6"/>
<text x="1607.4" y="122.7" font-family='"Liberation Sans", sans-serif' font-size="13.2" fill="#1a1a1a" textLength="74.5" lengthAdjust="spacingAndGlyphs">Open Clickers</text>
<text x="1607.4" y="150.6" font-family='"Liberation Sans", sans-serif' font-size="13.2" fill="#1a1a1a" textLength="76" lengthAdjust="spacingAndGlyphs">Tapered stack</text>
<text x="1607.4" y="180.3" font-family='"Liberation Sans", sans-serif' font-size="13.2" fill="#1a1a1a" textLength="81" lengthAdjust="spacingAndGlyphs">Closed Clickers</text>
<text x="1607.4" y="209" font-family='"Liberation Sans", sans-serif' font-size="13.2" fill="#1a1a1a" textLength="74.3" lengthAdjust="spacingAndGlyphs">straight stack</text>
<text x="1607.4" y="237.5" font-family='"Liberation Sans", sans-serif' font-size="13.2" fill="#1a1a1a" textLength="83.5" lengthAdjust="spacingAndGlyphs">stiff high speed</text>
<text x="1780.2" y="281.7" font-family='"Liberation Sans", sans-serif' font-size="21.8" fill="#000" stroke="#000" stroke-width="0.35" text-anchor="middle" textLength="56.5" lengthAdjust="spacingAndGlyphs">Same</text>
<text x="1780.2" y="309.8" font-family='"Liberation Sans", sans-serif' font-size="22.5" fill="#000" stroke="#000" stroke-width="0.35" text-anchor="middle" textLength="152.5" lengthAdjust="spacingAndGlyphs">damping force</text>
<path id="lg153" d="M1835.21 422.3 A27 27 0 1 1 1835.68 422.35" fill="none"/><text font-family="'Liberation Serif', serif" font-size="13.5" fill="#8c8c8c" font-weight="bold"><textPath href="#lg153" textLength="159.28" lengthAdjust="spacingAndGlyphs">www.ShimReStacker.com</textPath></text><text x="1840" y="407.38" font-family='"Liberation Sans", sans-serif' font-size="33" font-weight="bold" text-anchor="middle" textLength="33" lengthAdjust="spacingAndGlyphs"><tspan fill="#a8a8a8">S</tspan><tspan fill="#8a8a8a">R</tspan></text><text x="1840" y="417.88" font-family='"Liberation Sans", sans-serif' font-size="12" fill="#a0a0a0" text-anchor="middle">pro</text>
</svg></body></html>
